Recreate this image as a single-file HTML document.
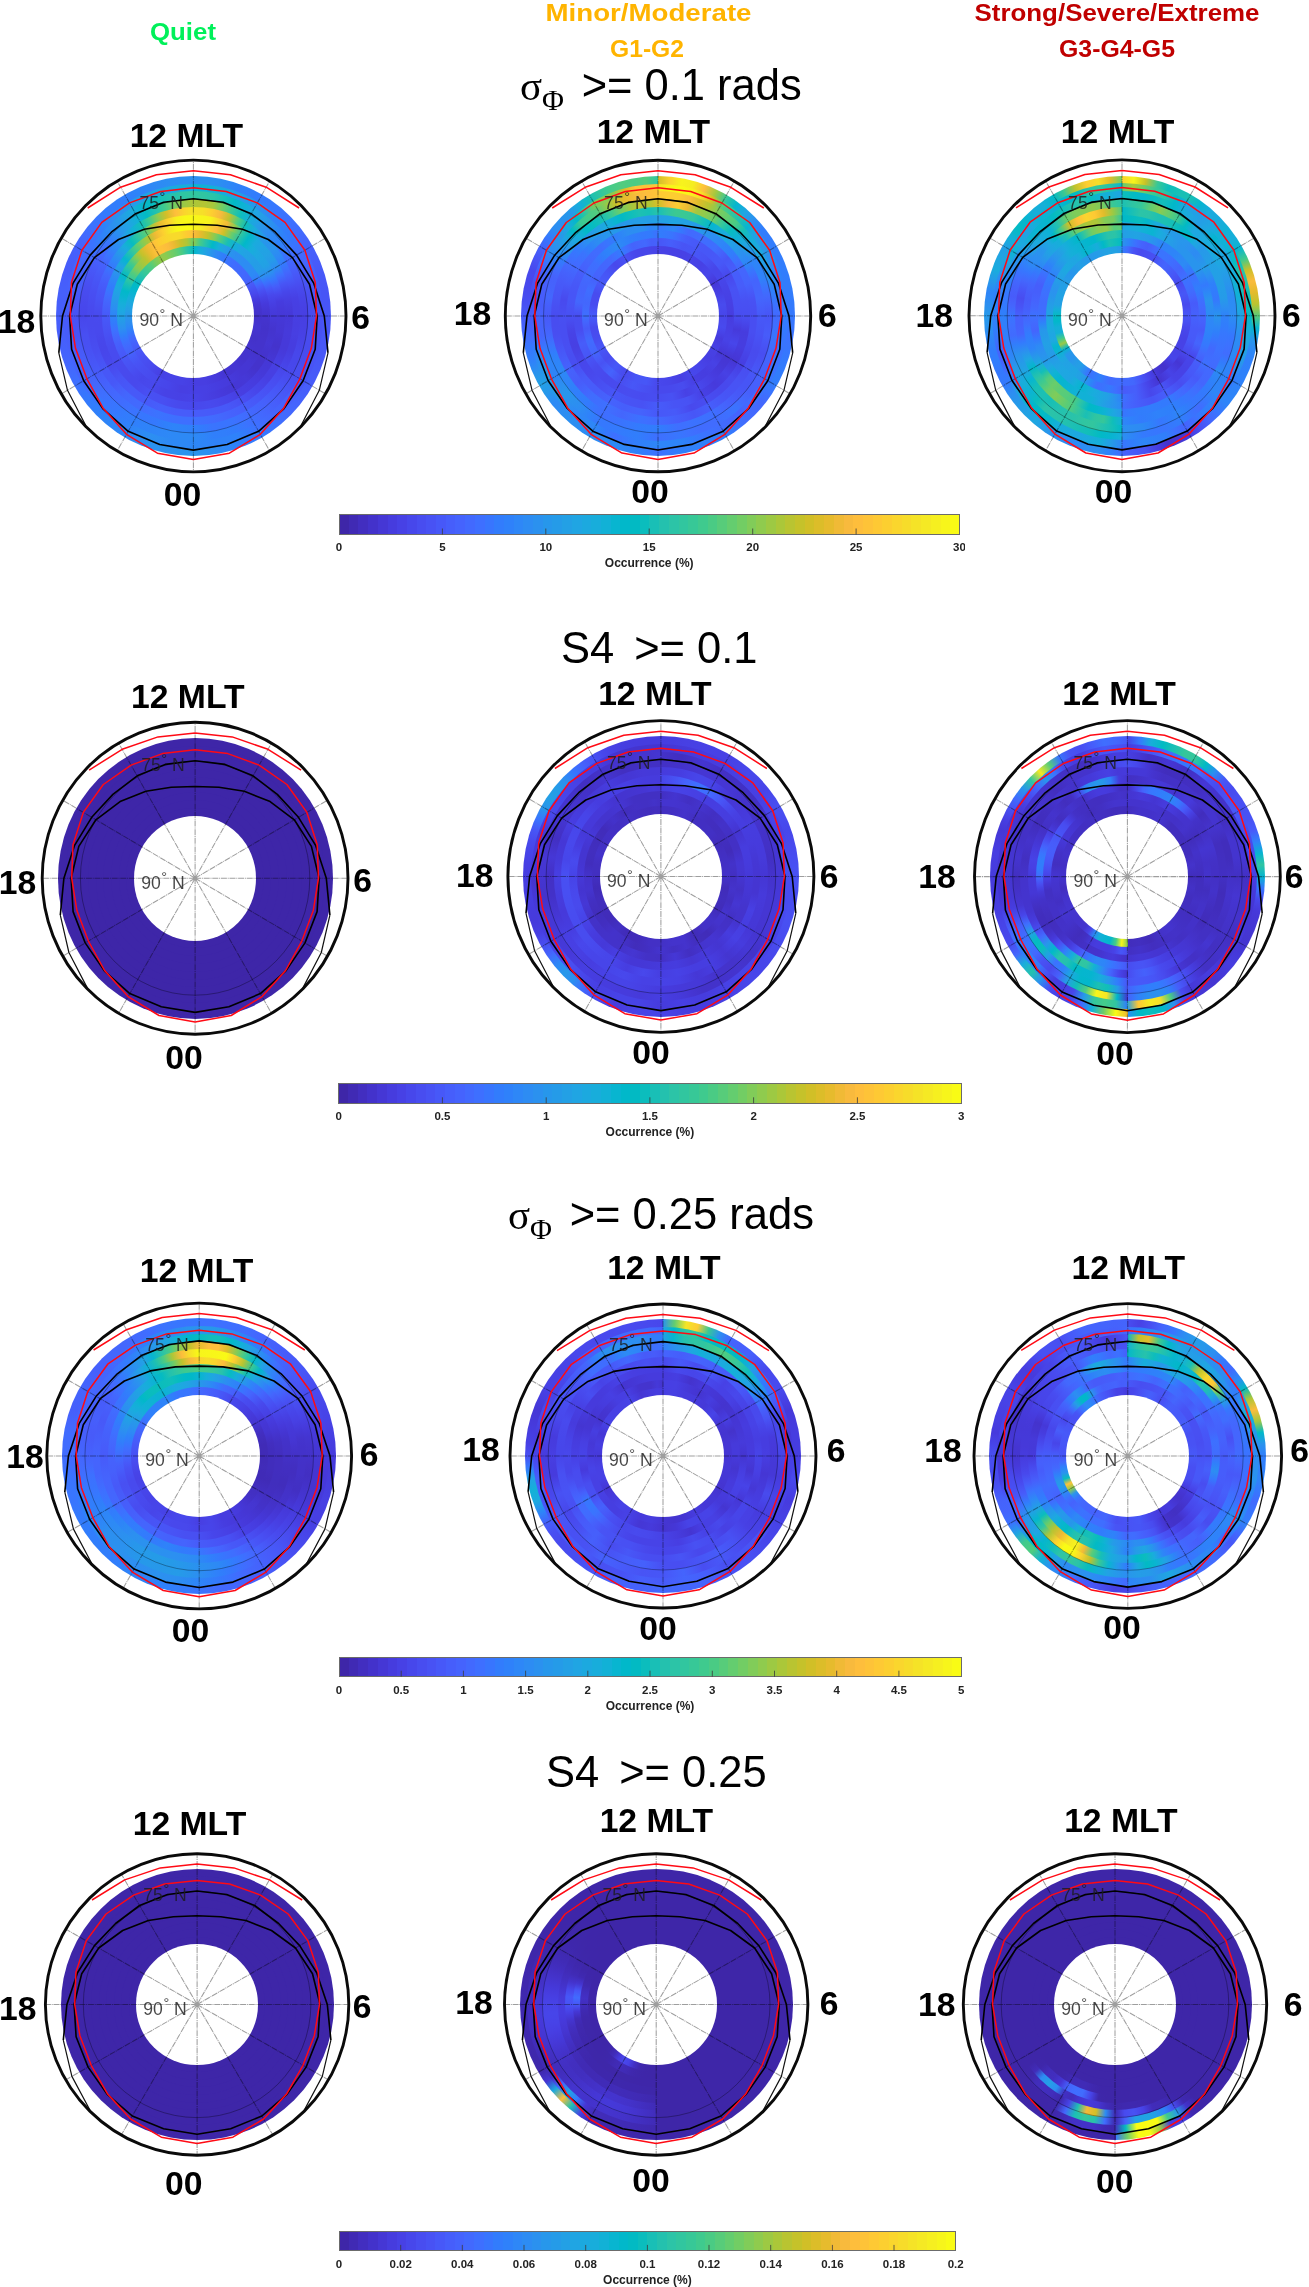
<!DOCTYPE html>
<html><head><meta charset="utf-8"><title>Scintillation occurrence maps</title>
<style>
html,body{margin:0;padding:0;background:#fff}
#fig{position:relative;width:1309px;height:2287px;overflow:hidden;background:#fff;font-family:"Liberation Sans", sans-serif}
#data{position:absolute;left:0;top:0;width:100%;height:100%;filter:blur(0.5px)}
#data div{position:absolute;border-radius:50%}
svg{position:absolute;left:0;top:0;filter:blur(0.3px)}
.gl{stroke:#000;stroke-opacity:.38;stroke-width:1.05;fill:none;stroke-dasharray:6 .8 1 .8}
.gc{stroke:#000;stroke-opacity:.4;stroke-width:.8;fill:none}
.bk{stroke:#000;stroke-width:1.6;fill:none;stroke-linejoin:round}
.bkt{stroke:#111;stroke-width:1.2;fill:none;stroke-linejoin:round}
.rd{stroke:#ff0a14;stroke-width:1.5;fill:none;stroke-linejoin:round}
.oc{stroke:#0a0a0a;stroke-width:2.9;fill:none}
.lat{font-size:17.6px;fill:#1c1c1c;fill-opacity:.82;text-anchor:end;font-family:"Liberation Sans", sans-serif}
.mlt{font-size:33.7px;font-weight:bold;fill:#000;text-anchor:middle;font-family:"Liberation Sans", sans-serif}
.ct{font-size:11.5px;font-weight:bold;fill:#222;text-anchor:middle;font-family:"Liberation Sans", sans-serif}
.cl{font-size:12px;font-weight:bold;fill:#222;text-anchor:middle;font-family:"Liberation Sans", sans-serif}
.hd{font-size:24.5px;font-weight:bold;text-anchor:middle;font-family:"Liberation Sans", sans-serif}
.tt{font-size:43.5px;fill:#000;font-family:"Liberation Sans", sans-serif}
</style></head><body>
<div id="fig">
<div id="data">
<div style="left:56.1px;top:175.7px;width:274.7px;height:280.6px;background:conic-gradient(#2c8ff0 0deg,#2c90f0 5deg,#2c8ff0 10deg,#2d88f6 15deg,#2f81fa 20deg,#317efb 25deg,#337bfc 30deg,#3678fe 35deg,#3a74fe 40deg,#3d71ff 45deg,#3f6dfe 50deg,#4466fd 55deg,#4660fb 60deg,#475cfa 65deg,#4759f8 70deg,#4756f7 75deg,#4755f6 80deg,#4755f6 85deg,#4756f6 90deg,#4756f7 95deg,#4757f7 100deg,#4757f7 110deg,#4759f8 115deg,#475cfa 120deg,#4660fb 125deg,#4564fd 130deg,#4368fe 135deg,#406dfe 140deg,#3b73fe 145deg,#3579fd 150deg,#327cfc 155deg,#307ffb 160deg,#2e86f8 165deg,#2d8bf4 170deg,#2b90f0 175deg,#2995ec 180deg,#2995ec 180deg,#2a93ed 185deg,#2b91ef 190deg,#2b92ee 195deg,#2b92ee 200deg,#2d8df2 205deg,#2e87f7 210deg,#2e86f7 215deg,#2e84f8 220deg,#3080fa 225deg,#337bfc 230deg,#3875fe 235deg,#3e70ff 240deg,#426afe 245deg,#4466fd 250deg,#4562fc 255deg,#465ffb 260deg,#465efb 265deg,#465efb 275deg,#4660fb 280deg,#465efb 285deg,#475cfa 290deg,#465efb 295deg,#4561fc 300deg,#4368fe 305deg,#3e6fff 310deg,#3975fe 315deg,#337bfd 320deg,#317dfc 325deg,#307ffb 330deg,#2e83f9 335deg,#2e86f7 340deg,#2d8af4 345deg,#2c8ef2 350deg,#2c8ff1 355deg,#2c8ff0 360deg)"></div>
<div style="left:63.7px;top:183.5px;width:259.4px;height:265.0px;background:conic-gradient(#0cb3d2 0deg,#0fb2d4 5deg,#15afd8 10deg,#1ca9df 15deg,#23a1e4 20deg,#259be8 25deg,#2895ec 30deg,#2d8cf3 35deg,#2f82f9 40deg,#307ffb 45deg,#327bfc 50deg,#3a73fe 55deg,#416bfe 60deg,#4466fd 65deg,#4561fc 70deg,#475cfa 75deg,#4758f8 80deg,#4755f6 85deg,#4853f5 90deg,#4852f4 95deg,#4853f4 100deg,#4853f5 105deg,#4854f5 110deg,#4854f5 115deg,#4755f6 120deg,#475af9 125deg,#4660fc 130deg,#4562fc 135deg,#4464fd 140deg,#426afe 145deg,#3d70ff 150deg,#3479fd 155deg,#2f82fa 160deg,#2f82f9 165deg,#2f82f9 170deg,#2e85f8 175deg,#2d87f6 180deg,#2d87f6 180deg,#2d89f5 185deg,#2d89f5 190deg,#2d8df3 195deg,#2c8ff1 200deg,#2d89f5 205deg,#2f82f9 210deg,#317efb 215deg,#3678fd 220deg,#3677fe 225deg,#3776fe 230deg,#406dfe 235deg,#4465fd 240deg,#4464fd 245deg,#4564fd 250deg,#4660fb 255deg,#465dfa 260deg,#475cfa 265deg,#475cfa 270deg,#465efb 275deg,#4660fb 280deg,#4661fc 285deg,#4563fc 290deg,#4368fe 295deg,#3e6fff 300deg,#3b72ff 305deg,#3876fe 310deg,#2f81fa 315deg,#2d8cf3 320deg,#2a92ee 325deg,#2798ea 330deg,#239fe5 335deg,#1fa6e1 340deg,#1da8e0 345deg,#1ca9df 350deg,#15afd9 355deg,#19acdc 360deg)"></div>
<div style="left:71.3px;top:191.3px;width:244.2px;height:249.4px;background:conic-gradient(#31c69f 0deg,#30c5a1 5deg,#2ac3a9 10deg,#17bfb6 15deg,#01b9c6 20deg,#0fb2d5 25deg,#1da9e0 30deg,#259de7 35deg,#2b92ee 40deg,#2d87f6 45deg,#317efb 50deg,#3a74fe 55deg,#4269fe 60deg,#4661fc 65deg,#4759f8 70deg,#4852f4 75deg,#484df0 80deg,#484cef 85deg,#484cef 90deg,#484bef 95deg,#484cef 100deg,#484bef 105deg,#484cef 110deg,#484df0 115deg,#484ef1 120deg,#4852f4 125deg,#4757f7 130deg,#475cfa 135deg,#4562fc 140deg,#4368fe 145deg,#3f6eff 150deg,#3975fe 155deg,#327bfc 160deg,#317efb 165deg,#307ffb 170deg,#2e85f8 175deg,#2d89f5 180deg,#2d89f5 185deg,#2d89f6 190deg,#2e87f7 195deg,#2e84f8 200deg,#2f82fa 205deg,#317efb 210deg,#337bfd 215deg,#3776fe 220deg,#3b72ff 225deg,#3f6efe 230deg,#4367fd 235deg,#4561fc 240deg,#465efb 245deg,#475cfa 250deg,#4758f8 255deg,#4755f6 260deg,#4853f5 265deg,#4852f4 270deg,#4854f5 275deg,#4757f7 280deg,#475cfa 285deg,#4561fc 290deg,#4464fd 295deg,#4369fe 300deg,#3a73fe 305deg,#307ffb 310deg,#2d89f5 315deg,#2a93ed 320deg,#23a0e5 325deg,#1aacdd 330deg,#07b5d0 335deg,#06bcc0 340deg,#18bfb6 345deg,#25c2ad 350deg,#2ec5a4 355deg,#32c69e 360deg)"></div>
<div style="left:79.0px;top:199.1px;width:228.9px;height:233.9px;background:conic-gradient(#abc739 0deg,#b4c534 5deg,#a6c83c 10deg,#6fcd66 15deg,#38c896 20deg,#0ebdbb 25deg,#15afd9 30deg,#249ee6 35deg,#2c8ff0 40deg,#2d88f6 45deg,#2f82f9 50deg,#3777fe 55deg,#4269fe 60deg,#465efb 65deg,#4854f5 70deg,#484aee 75deg,#4744e8 80deg,#4741e4 85deg,#473fe2 90deg,#4740e3 95deg,#4741e5 100deg,#4744e8 105deg,#4747eb 110deg,#4747eb 115deg,#4848ec 120deg,#484ef1 125deg,#4755f6 130deg,#475af9 135deg,#4660fb 140deg,#4464fd 145deg,#4269fe 150deg,#3f6eff 155deg,#3a74fe 160deg,#3974fe 165deg,#3a74fe 170deg,#337afd 175deg,#3080fb 180deg,#3080fb 180deg,#2f82f9 185deg,#2e84f9 190deg,#307ffb 195deg,#3579fd 200deg,#3677fe 205deg,#3975fe 210deg,#3d71ff 215deg,#406cfe 220deg,#4368fe 225deg,#4464fd 230deg,#465ffb 235deg,#475af9 240deg,#4756f6 245deg,#4852f4 250deg,#4850f2 255deg,#484ff2 260deg,#484aee 265deg,#4746eb 270deg,#4747ec 275deg,#484aed 280deg,#484df0 285deg,#4852f4 290deg,#4758f8 295deg,#4660fc 300deg,#4269fe 305deg,#3975fe 310deg,#2e86f7 315deg,#2798ea 320deg,#20a5e2 325deg,#10b2d5 330deg,#02bac4 335deg,#20c1b1 340deg,#3fca8e 345deg,#73cd62 350deg,#99c946 355deg,#afc637 360deg)"></div>
<div style="left:86.6px;top:206.9px;width:213.6px;height:218.3px;background:conic-gradient(#f5e128 0deg,#f6df29 5deg,#fdce31 10deg,#f7ba3c 15deg,#bec32e 20deg,#51cc7f 25deg,#0ebdbb 30deg,#19addc 35deg,#259ce7 40deg,#2895ec 45deg,#2a93ee 50deg,#2d89f5 55deg,#347afd 60deg,#4367fd 65deg,#4757f7 70deg,#4849ed 75deg,#4740e4 80deg,#473fe2 85deg,#473fe2 90deg,#473ee1 95deg,#473fe2 100deg,#463de0 105deg,#463ddf 110deg,#4741e5 115deg,#4746ea 120deg,#484aee 125deg,#484ef1 130deg,#4851f4 135deg,#4755f6 140deg,#4759f8 145deg,#465dfa 150deg,#4660fc 155deg,#4563fd 160deg,#4368fd 165deg,#416bfe 170deg,#3f6efe 175deg,#3e6fff 180deg,#3e6fff 190deg,#3c71ff 195deg,#3b73fe 200deg,#3f6fff 205deg,#426afe 210deg,#4269fe 215deg,#4367fd 220deg,#4660fb 225deg,#4758f8 230deg,#4757f7 235deg,#4757f7 240deg,#4852f4 245deg,#484ef1 250deg,#484cef 255deg,#484aee 260deg,#4849ed 265deg,#4849ed 270deg,#484aee 275deg,#484df1 280deg,#4850f3 285deg,#4755f6 290deg,#475bf9 295deg,#4562fc 300deg,#3b73fe 305deg,#2e86f7 310deg,#2a93ee 315deg,#23a0e5 320deg,#12b1d7 325deg,#11beba 330deg,#3eca8f 335deg,#8ccb50 340deg,#d3bf27 345deg,#febe3c 350deg,#fad52d 355deg,#f5e427 360deg)"></div>
<div style="left:94.2px;top:214.7px;width:198.4px;height:202.7px;background:conic-gradient(#f8f61a 0deg,#f7f51b 5deg,#f7f31d 10deg,#f9d72c 15deg,#f1ba37 20deg,#8bcb51 25deg,#31c6a0 30deg,#01b8c8 35deg,#1aabdd 40deg,#20a4e3 45deg,#23a1e4 50deg,#269ae9 55deg,#2d8bf4 60deg,#3e6fff 65deg,#4756f6 70deg,#4747eb 75deg,#473fe2 80deg,#463bdc 85deg,#4538d8 90deg,#4639d9 95deg,#463adb 100deg,#4639da 105deg,#4639d9 110deg,#463cde 115deg,#473fe2 120deg,#473fe2 130deg,#4743e7 135deg,#4746ea 140deg,#484bee 145deg,#484ff2 150deg,#4854f5 155deg,#4758f8 160deg,#4759f8 165deg,#475af9 170deg,#475bf9 175deg,#475bfa 180deg,#475bfa 180deg,#475cfa 185deg,#475cfa 190deg,#465efb 195deg,#465ffb 200deg,#475cfa 205deg,#4759f8 210deg,#4759f8 220deg,#4756f7 225deg,#4854f5 230deg,#484ef1 235deg,#4849ed 240deg,#4747ec 245deg,#4746ea 250deg,#4747eb 255deg,#4849ed 260deg,#4849ed 265deg,#484aee 270deg,#484ef1 275deg,#4853f5 280deg,#4757f7 285deg,#465dfb 290deg,#4367fd 295deg,#3975fe 300deg,#2e86f7 305deg,#2798ea 310deg,#1aacdd 315deg,#07bcbf 320deg,#2fc5a2 325deg,#56cc7b 330deg,#a4c83e 335deg,#e9bb30 340deg,#fcd030 345deg,#f6f01f 350deg,#f8f818 355deg,#f8f917 360deg)"></div>
<div style="left:101.8px;top:222.5px;width:183.1px;height:187.1px;background:conic-gradient(#f7f51b 0deg,#f5ec23 5deg,#fad52e 10deg,#fdbd3d 15deg,#cdc028 20deg,#69cd6b 25deg,#2ac3a9 30deg,#01b8c9 35deg,#16afda 40deg,#1da8e0 45deg,#20a4e3 50deg,#23a0e5 55deg,#2b91ef 60deg,#3677fe 65deg,#465dfa 70deg,#4849ed 75deg,#463cdf 80deg,#4639da 85deg,#4538d8 90deg,#4537d5 95deg,#4536d4 100deg,#4434d0 105deg,#4433cc 110deg,#4435d1 115deg,#4537d6 120deg,#4538d7 125deg,#4539d9 130deg,#463bdd 135deg,#463de0 140deg,#473ee1 145deg,#473fe2 150deg,#4743e7 155deg,#4746ea 160deg,#4848ec 165deg,#484aee 170deg,#4849ed 175deg,#4848ec 180deg,#4848ec 180deg,#4849ed 185deg,#484aed 190deg,#484cf0 195deg,#484ff2 200deg,#484ff2 205deg,#4850f3 210deg,#484cf0 215deg,#4849ed 220deg,#4849ed 225deg,#484aed 230deg,#484aee 235deg,#484bef 240deg,#484bef 245deg,#484cef 250deg,#484ef1 255deg,#4852f4 260deg,#4755f6 265deg,#4759f9 270deg,#465ffb 275deg,#4466fd 280deg,#3e70ff 285deg,#327cfc 290deg,#2d88f6 295deg,#2995ec 300deg,#1fa5e2 305deg,#06b5cf 310deg,#25c2ae 315deg,#4fcc80 320deg,#82cc57 325deg,#b3c534 330deg,#efba35 335deg,#fccf30 340deg,#f5e825 345deg,#f9fa16 350deg,#f9fb15 355deg,#f9fb15 360deg)"></div>
<div style="left:109.5px;top:230.3px;width:167.9px;height:171.5px;background:conic-gradient(#fabb3d 0deg,#e6bb2d 5deg,#c3c22b 10deg,#87cb54 15deg,#47cb87 20deg,#18bfb6 25deg,#13b0d7 30deg,#1fa6e2 35deg,#22a2e4 40deg,#249fe6 45deg,#249de6 50deg,#259ce7 55deg,#2c90f0 60deg,#3a73fe 65deg,#4758f8 70deg,#4848ec 75deg,#4740e4 80deg,#463bdd 85deg,#4539d9 90deg,#4536d3 95deg,#4434ce 100deg,#4435d0 105deg,#4536d3 110deg,#4434cf 115deg,#4433cc 120deg,#4433cc 130deg,#4435d1 135deg,#4538d7 140deg,#4537d6 145deg,#4537d5 150deg,#4539d8 155deg,#463adc 160deg,#463ddf 165deg,#473fe2 170deg,#4741e5 175deg,#4743e7 180deg,#4743e7 180deg,#4742e6 185deg,#4741e5 190deg,#4742e6 195deg,#4742e6 200deg,#4745e9 205deg,#4849ed 210deg,#4848ec 215deg,#4747eb 220deg,#484bef 225deg,#4851f3 230deg,#4854f5 235deg,#4758f8 240deg,#475cfa 245deg,#4660fc 250deg,#4368fe 255deg,#3c72ff 260deg,#327bfc 265deg,#2e84f8 270deg,#2d8df2 275deg,#2896eb 280deg,#249ee6 285deg,#1ea7e1 290deg,#14b0d8 295deg,#01b9c7 300deg,#23c1af 305deg,#3fca8e 310deg,#7ecc5a 315deg,#c3c22b 320deg,#e9bb30 325deg,#febe3c 330deg,#fdcc32 335deg,#fad42e 340deg,#f8da2b 345deg,#f8da2b 350deg,#fdcc32 355deg,#fec239 360deg)"></div>
<div style="left:117.1px;top:238.1px;width:152.6px;height:155.9px;background:conic-gradient(#8acb51 0deg,#47cb87 5deg,#24c1ae 10deg,#01b9c6 15deg,#17aeda 20deg,#23a1e4 25deg,#2994ed 30deg,#2c8ef1 35deg,#2d8df2 40deg,#2d8cf3 45deg,#2d8cf3 50deg,#2d8af5 55deg,#327dfc 60deg,#4464fd 65deg,#484ff2 70deg,#4742e6 75deg,#463adc 80deg,#4536d4 85deg,#4434cf 90deg,#4433cc 95deg,#4332ca 100deg,#4432cb 105deg,#4433cc 110deg,#4433cc 115deg,#4433cd 120deg,#4435d0 125deg,#4536d3 130deg,#4536d4 135deg,#4536d4 140deg,#4538d8 145deg,#463adb 150deg,#463bdd 155deg,#463cdf 160deg,#463ee1 165deg,#4740e3 170deg,#4740e4 175deg,#4740e4 180deg,#473fe3 185deg,#473fe2 190deg,#4742e6 195deg,#4745ea 200deg,#4747eb 205deg,#4849ed 210deg,#484aee 215deg,#484df0 220deg,#484ff2 225deg,#4853f5 230deg,#475af9 235deg,#4562fc 240deg,#4269fe 245deg,#3b72ff 250deg,#2f81fa 255deg,#2c90f0 260deg,#2699e9 265deg,#22a2e4 270deg,#1ca9e0 275deg,#16afd9 280deg,#0ab4d1 285deg,#01b8c9 290deg,#19bfb5 295deg,#34c79c 300deg,#50cc80 305deg,#80cc59 310deg,#a0c841 315deg,#bbc42f 320deg,#eabb30 325deg,#fec13a 330deg,#fec239 335deg,#fbbc3d 340deg,#eaba31 345deg,#c9c129 350deg,#aec637 355deg,#6acd6a 360deg)"></div>
<div style="left:124.7px;top:245.8px;width:137.3px;height:140.3px;background:conic-gradient(#01b8c8 0deg,#15afd9 5deg,#20a4e3 10deg,#2797eb 15deg,#2d8af4 20deg,#3080fa 25deg,#3777fe 30deg,#3e6fff 35deg,#406cfe 40deg,#416afe 45deg,#4269fe 50deg,#4366fd 55deg,#475dfa 60deg,#4852f4 65deg,#4848ec 70deg,#463cdf 75deg,#4536d3 80deg,#4433cd 85deg,#4332ca 90deg,#4433cd 95deg,#4435d0 100deg,#4433cd 105deg,#4332c9 110deg,#4433cc 115deg,#4434cf 120deg,#4434ce 125deg,#4433cd 130deg,#4434d0 135deg,#4536d3 140deg,#4535d2 145deg,#4435d1 150deg,#4537d6 155deg,#463adb 160deg,#463cde 165deg,#473ee1 170deg,#473ee1 180deg,#4740e4 185deg,#4742e6 190deg,#4742e6 195deg,#4743e7 200deg,#4742e6 205deg,#4741e4 210deg,#4745e9 215deg,#484aee 220deg,#484df0 225deg,#4850f3 230deg,#4855f6 235deg,#475af9 240deg,#4561fc 245deg,#4269fe 250deg,#3578fd 255deg,#2d87f7 260deg,#2c8ff0 265deg,#2896eb 270deg,#249fe5 275deg,#1ea7e1 280deg,#18addb 285deg,#0db3d3 290deg,#03b7cc 295deg,#03bbc2 300deg,#1ec0b2 305deg,#32c69e 310deg,#40ca8d 315deg,#55cc7c 320deg,#79cc5e 325deg,#94ca4a 330deg,#8dcb4f 335deg,#76cc61 340deg,#62cd70 345deg,#47cb87 350deg,#28c2ab 355deg,#0bbdbd 360deg)"></div>
<div style="left:132.4px;top:253.6px;width:122.1px;height:124.7px;background:#fff"></div>
<div style="left:520.6px;top:175.8px;width:274.9px;height:280.4px;background:conic-gradient(#d1bf27 0deg,#fbd22f 5deg,#f7f31d 10deg,#f5ed21 15deg,#febe3c 20deg,#a5c83e 25deg,#36c799 30deg,#05b6ce 35deg,#20a5e3 40deg,#2c8ff1 45deg,#317dfc 50deg,#327cfc 55deg,#317dfc 60deg,#327cfc 65deg,#317dfc 70deg,#327cfc 75deg,#327cfc 80deg,#337afd 85deg,#3678fd 90deg,#3875fe 95deg,#3c72ff 100deg,#3776fe 105deg,#337afd 110deg,#327cfc 115deg,#317dfc 120deg,#3c72ff 125deg,#4367fd 130deg,#4269fe 135deg,#416bfe 140deg,#3a74fe 145deg,#317dfc 150deg,#307efb 155deg,#3080fb 160deg,#3080fb 165deg,#307ffb 170deg,#3678fd 175deg,#3d70ff 180deg,#3d70ff 180deg,#347afd 185deg,#2e83f9 190deg,#2e86f7 195deg,#2d8af5 200deg,#2d8bf4 205deg,#2d8df2 210deg,#2d8df2 215deg,#2c8ff1 220deg,#2d8df2 225deg,#2d8af5 230deg,#2797eb 235deg,#23a0e5 240deg,#2a93ed 245deg,#2f82fa 250deg,#3479fd 255deg,#3f6eff 260deg,#4563fc 265deg,#475af9 270deg,#4850f2 275deg,#484bee 280deg,#4848ec 285deg,#4849ed 290deg,#4854f5 295deg,#4561fc 300deg,#3776fe 305deg,#2d8df2 310deg,#2a92ee 315deg,#2699e9 320deg,#15afd9 325deg,#17bfb6 330deg,#32c69e 335deg,#46cb88 340deg,#51cc7f 345deg,#4acb85 350deg,#55cc7c 355deg,#31c6a0 360deg)"></div>
<div style="left:528.2px;top:183.6px;width:259.6px;height:264.9px;background:conic-gradient(#f6e028 0deg,#f7f51b 5deg,#f9fb15 10deg,#f7f51b 15deg,#f8d92b 20deg,#d2bf27 25deg,#57cc7a 30deg,#35c79b 35deg,#23c1af 40deg,#0ab4d1 45deg,#21a3e4 50deg,#259be8 55deg,#2995ec 60deg,#2d8bf4 65deg,#2e83f9 70deg,#307efb 75deg,#337bfc 80deg,#327cfc 85deg,#317dfc 90deg,#347afd 95deg,#3777fe 100deg,#3a73fe 105deg,#3d70ff 110deg,#3b73fe 115deg,#3776fe 120deg,#3b73fe 125deg,#3d70ff 130deg,#4269fe 135deg,#4563fd 140deg,#4367fd 145deg,#416bfe 150deg,#3e70ff 155deg,#3975fe 160deg,#317dfc 165deg,#2e84f8 170deg,#2e85f8 175deg,#2e86f7 180deg,#2e86f7 180deg,#2f82f9 185deg,#317efb 190deg,#3777fe 195deg,#3e70ff 200deg,#327bfc 205deg,#2e87f7 210deg,#2e86f7 215deg,#2e87f7 220deg,#2c8ff1 225deg,#2896eb 230deg,#269ae8 235deg,#259be8 240deg,#2895ec 245deg,#2d8bf4 250deg,#327cfc 255deg,#416bfe 260deg,#4563fc 265deg,#465dfa 270deg,#4852f4 275deg,#484df0 280deg,#4852f4 285deg,#475cfa 290deg,#3d71ff 295deg,#2d89f6 300deg,#2b92ee 305deg,#269ae8 310deg,#1aabdd 315deg,#01b9c6 320deg,#33c69d 325deg,#77cc5f 330deg,#8acb52 335deg,#90ca4d 340deg,#dbbd28 345deg,#fec339 350deg,#fec239 355deg,#fec438 360deg)"></div>
<div style="left:535.8px;top:191.4px;width:244.3px;height:249.3px;background:conic-gradient(#fec934 0deg,#fdce31 5deg,#fdcc32 10deg,#fcbd3d 15deg,#dcbd29 20deg,#b4c533 25deg,#7ecc5b 30deg,#63cd6f 35deg,#49cb85 40deg,#17bfb6 45deg,#14b0d8 50deg,#1caadf 55deg,#20a5e3 60deg,#269ae9 65deg,#2b90f0 70deg,#2e85f8 75deg,#337bfc 80deg,#3c71ff 85deg,#4269fe 90deg,#3e6fff 95deg,#3875fe 100deg,#406dfe 105deg,#4465fd 110deg,#4563fd 115deg,#4562fc 120deg,#4660fc 125deg,#4660fb 130deg,#4369fe 135deg,#3b73fe 140deg,#3e6fff 145deg,#416cfe 150deg,#416cfe 155deg,#406cfe 160deg,#3d71ff 165deg,#3876fe 170deg,#3b73fe 175deg,#3e6fff 180deg,#3e6fff 180deg,#3677fe 185deg,#317efb 190deg,#327cfc 195deg,#347afd 200deg,#3578fd 205deg,#3678fd 210deg,#2f82fa 215deg,#2d8cf3 220deg,#2b91ef 225deg,#2896eb 230deg,#2c8ef1 235deg,#2e83f9 240deg,#2e85f8 245deg,#2e84f9 250deg,#3975fe 255deg,#4465fd 260deg,#4563fc 265deg,#4562fc 270deg,#465dfb 275deg,#465dfb 280deg,#465ffb 285deg,#4564fd 290deg,#3a74fe 295deg,#2e86f7 300deg,#2895ec 305deg,#20a4e3 310deg,#02bac5 315deg,#38c895 320deg,#46cb88 325deg,#54cc7d 330deg,#95ca49 335deg,#d0bf27 340deg,#e9bb2f 345deg,#f8ba3d 350deg,#febe3c 355deg,#fec537 360deg)"></div>
<div style="left:543.5px;top:199.1px;width:229.0px;height:233.7px;background:conic-gradient(#d0bf27 0deg,#f9bb3d 5deg,#fdcd32 10deg,#ecba33 15deg,#a5c83e 20deg,#8ccb50 25deg,#66cd6d 30deg,#33c79d 35deg,#08bcbf 40deg,#0eb2d4 45deg,#1fa6e1 50deg,#2895ec 55deg,#2e85f8 60deg,#2e83f9 65deg,#2f82f9 70deg,#3a73fe 75deg,#4367fd 80deg,#465dfa 85deg,#4755f6 90deg,#4758f8 95deg,#475cfa 100deg,#4854f6 105deg,#484ef1 110deg,#4852f4 115deg,#4757f7 120deg,#4755f6 125deg,#4755f6 130deg,#4759f8 135deg,#465ffb 140deg,#4466fd 145deg,#3f6eff 150deg,#3d70ff 155deg,#3b72fe 160deg,#3d71ff 165deg,#3f6fff 170deg,#3776fe 175deg,#317dfc 180deg,#317dfc 180deg,#327cfc 185deg,#337bfd 190deg,#3777fe 195deg,#3a73fe 200deg,#3d70ff 205deg,#3f6dfe 210deg,#3974fe 215deg,#327cfc 220deg,#317efb 225deg,#3080fb 230deg,#2e85f8 235deg,#2d88f6 240deg,#2e85f8 245deg,#307ffb 250deg,#3b73fe 255deg,#4367fd 260deg,#465ffb 265deg,#4759f8 270deg,#465efb 275deg,#4367fd 280deg,#4563fc 285deg,#4661fc 290deg,#406dfe 295deg,#327cfc 300deg,#2c8ff0 305deg,#22a2e4 310deg,#16afd9 315deg,#01b9c7 320deg,#09bdbe 325deg,#19bfb5 330deg,#3ac994 335deg,#6ccd69 340deg,#9bc945 345deg,#c1c32c 350deg,#b1c635 355deg,#d9be28 360deg)"></div>
<div style="left:551.1px;top:206.9px;width:213.8px;height:218.1px;background:conic-gradient(#18bfb6 0deg,#2fc5a3 5deg,#3cc991 10deg,#39c895 15deg,#33c69e 20deg,#18bfb6 25deg,#05b6cd 30deg,#13b1d7 35deg,#1caadf 40deg,#23a0e5 45deg,#2797eb 50deg,#2d8df2 55deg,#2e84f9 60deg,#3a73fe 65deg,#4464fd 70deg,#4465fd 75deg,#4466fd 80deg,#465ffb 85deg,#4758f8 90deg,#4756f6 95deg,#4853f5 100deg,#484ff2 105deg,#484bee 110deg,#484cef 115deg,#484ef1 120deg,#4850f2 125deg,#4853f4 130deg,#4853f5 135deg,#4755f6 140deg,#4759f8 145deg,#465efb 150deg,#475af9 155deg,#4756f7 160deg,#475bf9 165deg,#465ffb 170deg,#4465fd 175deg,#426afe 180deg,#426afe 180deg,#3f6eff 185deg,#3c71ff 190deg,#416cfe 195deg,#4466fd 200deg,#416bfe 205deg,#3e70ff 210deg,#3f6efe 215deg,#406cfe 220deg,#4464fd 225deg,#475cfa 230deg,#4660fb 235deg,#4562fc 240deg,#465dfa 245deg,#4757f7 250deg,#4852f4 255deg,#484ef1 260deg,#484df0 265deg,#484df0 270deg,#4850f2 275deg,#4854f5 280deg,#4757f7 285deg,#475bf9 290deg,#4562fc 295deg,#426afe 300deg,#3b72ff 305deg,#337bfd 310deg,#2d8bf4 315deg,#269ae9 320deg,#22a2e4 325deg,#1caadf 330deg,#0cb3d3 335deg,#02bac4 340deg,#0fbebb 345deg,#1dc0b3 350deg,#16bfb7 355deg,#29c3aa 360deg)"></div>
<div style="left:558.7px;top:214.7px;width:198.5px;height:202.5px;background:conic-gradient(#259de7 0deg,#22a1e4 5deg,#20a5e2 10deg,#22a2e4 15deg,#249fe6 20deg,#2699e9 25deg,#2a93ed 30deg,#2d8df2 35deg,#2e87f7 40deg,#2f82fa 45deg,#317dfc 50deg,#3d71ff 55deg,#4466fd 60deg,#4465fd 65deg,#4563fd 70deg,#475af9 75deg,#4852f4 80deg,#4850f2 85deg,#484ef1 90deg,#484ef1 100deg,#484aee 105deg,#4747eb 110deg,#4742e6 115deg,#463ee1 120deg,#4744e8 125deg,#484bee 130deg,#4849ed 135deg,#4849ed 140deg,#484bef 145deg,#484ef1 150deg,#484bef 155deg,#4849ed 160deg,#4852f4 165deg,#475af9 170deg,#4759f8 175deg,#4758f8 180deg,#4758f8 180deg,#465efb 185deg,#4563fc 190deg,#4661fc 195deg,#465efb 200deg,#4561fc 205deg,#4563fd 210deg,#4660fb 215deg,#475cfa 220deg,#475cfa 225deg,#475bf9 230deg,#4854f6 235deg,#484ef1 240deg,#484ef1 245deg,#484ff2 250deg,#484ef1 255deg,#484ef1 265deg,#4850f2 270deg,#484cf0 275deg,#484aee 280deg,#4852f4 285deg,#475cfa 290deg,#4562fc 295deg,#4369fe 300deg,#3f6eff 305deg,#3a74fe 310deg,#2f80fa 315deg,#2d8bf3 320deg,#2a92ee 325deg,#2698ea 330deg,#2699e9 335deg,#2798ea 340deg,#259ce7 345deg,#249fe6 350deg,#249ee6 355deg,#23a1e4 360deg)"></div>
<div style="left:566.4px;top:222.5px;width:183.2px;height:187.0px;background:conic-gradient(#3777fe 0deg,#3080fb 5deg,#2e87f7 10deg,#3578fd 15deg,#4269fe 20deg,#416bfe 25deg,#406dfe 30deg,#3f6dfe 35deg,#3f6efe 40deg,#4562fc 45deg,#4757f7 50deg,#475bf9 55deg,#465efb 60deg,#465dfb 65deg,#475dfa 70deg,#4757f7 75deg,#4851f3 80deg,#484ff2 85deg,#484ef1 90deg,#4745e9 95deg,#463cde 100deg,#463ddf 105deg,#463de0 110deg,#4639da 115deg,#4536d4 120deg,#463bdd 125deg,#4741e5 130deg,#463de0 135deg,#463adc 140deg,#463ee1 145deg,#4741e5 150deg,#4849ed 155deg,#4852f4 160deg,#4853f5 165deg,#4854f5 170deg,#4758f8 175deg,#475bf9 180deg,#475bf9 180deg,#4757f7 185deg,#4852f4 190deg,#4853f4 195deg,#4853f5 200deg,#4755f6 205deg,#4756f7 210deg,#4852f4 215deg,#484ff2 220deg,#484bef 225deg,#4848ec 230deg,#4747ec 235deg,#4747eb 240deg,#4743e7 245deg,#4740e3 250deg,#4741e5 255deg,#4743e7 260deg,#4849ed 265deg,#4850f3 270deg,#4852f4 275deg,#4755f6 280deg,#4755f6 285deg,#4757f7 290deg,#475bf9 295deg,#465ffb 300deg,#4563fd 305deg,#4368fd 310deg,#416bfe 315deg,#406dfe 320deg,#3975fe 325deg,#327bfc 330deg,#2e85f8 335deg,#2d8df2 340deg,#2c8ef1 345deg,#2c8ff1 350deg,#2e84f9 355deg,#2d8cf3 360deg)"></div>
<div style="left:574.0px;top:230.3px;width:168.0px;height:171.4px;background:conic-gradient(#317dfc 0deg,#3579fd 5deg,#3a74fe 10deg,#4368fe 15deg,#465dfb 20deg,#475af9 25deg,#4758f8 30deg,#4757f7 35deg,#4757f7 40deg,#4758f8 45deg,#4758f8 50deg,#4850f3 55deg,#4848ec 60deg,#484df1 65deg,#4852f4 70deg,#4851f3 75deg,#4850f3 80deg,#484ff2 85deg,#484df0 90deg,#4743e7 95deg,#463adb 100deg,#4740e4 105deg,#4746eb 110deg,#463de0 115deg,#4536d2 120deg,#4537d5 125deg,#4539d9 130deg,#463bdd 135deg,#473fe2 140deg,#4743e7 145deg,#4848ec 150deg,#4745e9 155deg,#4741e5 160deg,#4849ed 165deg,#4851f3 170deg,#484ff2 175deg,#484df1 180deg,#484df1 180deg,#484df0 185deg,#484bef 190deg,#484cf0 195deg,#484df0 200deg,#484cef 205deg,#484bee 210deg,#484aee 215deg,#4849ed 220deg,#484aee 225deg,#484bee 230deg,#4850f3 235deg,#4756f6 240deg,#4759f8 245deg,#475dfa 250deg,#4755f6 255deg,#484df0 260deg,#484df0 265deg,#484ef1 270deg,#475af9 275deg,#4367fd 280deg,#4465fd 285deg,#4564fd 290deg,#4367fd 295deg,#426afe 300deg,#406dfe 305deg,#3e6fff 310deg,#3578fd 315deg,#2f81fa 320deg,#2e86f8 325deg,#2d8af5 330deg,#2e85f8 335deg,#307ffb 340deg,#327cfc 345deg,#3579fd 350deg,#327bfc 355deg,#3d70ff 360deg)"></div>
<div style="left:581.6px;top:238.1px;width:152.7px;height:155.8px;background:conic-gradient(#4756f6 0deg,#475af9 5deg,#465efb 10deg,#4759f8 15deg,#4854f5 20deg,#4755f6 25deg,#4756f6 30deg,#4854f5 35deg,#4852f4 40deg,#484cef 45deg,#4746ea 50deg,#4746ea 60deg,#4744e8 65deg,#4742e6 70deg,#4741e5 75deg,#4740e4 80deg,#473fe2 85deg,#463de0 90deg,#473ee1 95deg,#473fe3 100deg,#4741e5 105deg,#4742e6 110deg,#463cdf 115deg,#4537d5 120deg,#463cde 125deg,#4742e6 130deg,#473fe2 135deg,#463de0 140deg,#463ee1 145deg,#473fe2 150deg,#4745e9 155deg,#484cef 160deg,#484bee 165deg,#4849ed 170deg,#4849ed 180deg,#484df0 185deg,#4850f2 190deg,#4853f5 195deg,#4757f7 200deg,#4852f4 205deg,#484df0 210deg,#4758f8 215deg,#4563fd 220deg,#475bf9 225deg,#4852f4 230deg,#475cfa 235deg,#4465fd 240deg,#4368fe 245deg,#416bfe 250deg,#4563fc 255deg,#475af9 260deg,#4464fd 265deg,#3e6fff 270deg,#416bfe 275deg,#4367fd 280deg,#416afe 285deg,#3f6eff 290deg,#4368fe 295deg,#4562fc 300deg,#4564fd 305deg,#4465fd 310deg,#4367fd 315deg,#4369fe 320deg,#3c72ff 325deg,#337bfd 330deg,#3f6fff 335deg,#4563fc 340deg,#4466fd 345deg,#4269fe 350deg,#465ffb 355deg,#4562fc 360deg)"></div>
<div style="left:589.3px;top:245.9px;width:137.4px;height:140.2px;background:conic-gradient(#4742e6 0deg,#4741e5 5deg,#4741e5 20deg,#4742e6 25deg,#4744e8 30deg,#4742e6 35deg,#4741e5 40deg,#4743e8 45deg,#4746ea 50deg,#473fe2 55deg,#4538d8 60deg,#463cdf 65deg,#4741e5 70deg,#4746ea 75deg,#484bee 80deg,#4848ec 85deg,#4746ea 90deg,#4848ec 95deg,#484aee 100deg,#4743e7 105deg,#463bdd 110deg,#473ee1 115deg,#4741e5 120deg,#4740e3 125deg,#463ee1 130deg,#4741e5 135deg,#4744e9 140deg,#4746ea 145deg,#4747eb 150deg,#4743e7 155deg,#473fe2 160deg,#4742e6 165deg,#4745e9 170deg,#4746eb 175deg,#4848ec 180deg,#4848ec 180deg,#484ff2 185deg,#4756f7 190deg,#4756f6 195deg,#4755f6 200deg,#484ff2 205deg,#484aee 210deg,#4851f3 215deg,#4758f8 220deg,#4852f4 225deg,#484cef 230deg,#4851f3 235deg,#4756f7 240deg,#4852f4 245deg,#484df0 250deg,#484cef 255deg,#484aee 260deg,#4853f5 265deg,#475cfa 270deg,#4854f6 275deg,#484df0 280deg,#484cf0 285deg,#484cef 290deg,#4853f5 295deg,#475af9 300deg,#4758f8 305deg,#4755f6 310deg,#484ff1 315deg,#4848ec 320deg,#484df0 325deg,#4852f4 330deg,#484cf0 335deg,#4747eb 340deg,#4746ea 345deg,#4746ea 350deg,#4744e8 355deg,#4743e7 360deg)"></div>
<div style="left:596.9px;top:253.7px;width:122.2px;height:124.6px;background:#fff"></div>
<div style="left:984.3px;top:175.5px;width:275.4px;height:280.6px;background:conic-gradient(#fbd22f 0deg,#f7f51b 5deg,#c7c129 10deg,#38c896 15deg,#0cbdbc 20deg,#19bfb5 25deg,#19bfb5 30deg,#08b4d0 35deg,#1babde 40deg,#1aabdd 45deg,#12b1d6 50deg,#17aeda 55deg,#09b4d1 60deg,#3fca8e 65deg,#ccc028 70deg,#fabb3d 75deg,#e3bb2c 80deg,#bbc430 85deg,#58cc79 90deg,#08b4d0 95deg,#2797eb 100deg,#2d88f6 105deg,#3080fb 110deg,#2f81fa 115deg,#2f82fa 120deg,#2e84f8 125deg,#2e84f9 130deg,#3876fe 135deg,#4466fd 140deg,#4851f3 145deg,#463ee1 150deg,#4536d3 155deg,#4433cd 160deg,#473fe2 165deg,#4852f4 170deg,#475af9 175deg,#4564fd 180deg,#406cfe 180deg,#3080fb 185deg,#2c8ff0 190deg,#2c8ef1 195deg,#2d8af5 200deg,#2d8df2 205deg,#2c8ff0 210deg,#259ce7 215deg,#1ea7e1 220deg,#23a1e4 225deg,#269ae9 230deg,#2d8df2 235deg,#3479fd 240deg,#3578fd 245deg,#317dfc 250deg,#317dfc 255deg,#2e85f8 260deg,#2b92ef 265deg,#2699e9 270deg,#2c8ff0 275deg,#2e85f8 280deg,#2699ea 285deg,#1aacdd 290deg,#1fa6e1 295deg,#249ee6 300deg,#14b0d8 305deg,#03bbc3 310deg,#06b5cf 315deg,#16aeda 320deg,#14b0d8 325deg,#01b8c8 330deg,#3dc991 335deg,#c0c32d 340deg,#fdcd31 345deg,#f6de29 350deg,#e1bc2b 355deg,#6fcd66 360deg)"></div>
<div style="left:992.0px;top:183.3px;width:260.1px;height:265.0px;background:conic-gradient(#5ecd74 0deg,#a9c73b 5deg,#6bcd69 10deg,#37c897 15deg,#2bc3a7 20deg,#01b8c9 25deg,#1fa6e2 30deg,#23a0e5 35deg,#249ee6 40deg,#1ea7e1 45deg,#12b1d7 50deg,#11b1d6 55deg,#0cb3d3 60deg,#07bcc0 65deg,#27c2ac 70deg,#26c2ac 75deg,#0fbebb 80deg,#0cbdbc 85deg,#02bac4 90deg,#12b1d7 95deg,#1ea8e1 100deg,#23a1e4 105deg,#259ce7 110deg,#2d8bf4 115deg,#3578fd 120deg,#307ffb 125deg,#2e86f7 130deg,#2f82fa 135deg,#317dfc 140deg,#3e70ff 145deg,#4464fd 150deg,#3e70ff 155deg,#317efb 160deg,#2f81fa 165deg,#2e86f7 170deg,#317efb 175deg,#3975fe 180deg,#2e86f7 180deg,#259ce7 185deg,#15afd9 190deg,#19acdc 195deg,#1ea7e1 200deg,#1aabdd 205deg,#16aeda 210deg,#05b6ce 215deg,#03bbc3 220deg,#02b7cb 225deg,#10b2d5 230deg,#249ee6 235deg,#3080fb 240deg,#406cfe 245deg,#4562fc 250deg,#4367fd 255deg,#3677fe 260deg,#3080fb 265deg,#2f81fa 270deg,#2f81fa 275deg,#2f82fa 280deg,#2d8af5 285deg,#2994ed 290deg,#20a4e3 295deg,#0fb2d5 300deg,#19acdc 305deg,#21a2e4 310deg,#19acdc 315deg,#0ab4d2 320deg,#0eb3d4 325deg,#07b5cf 330deg,#01b7ca 335deg,#05bbc1 340deg,#2dc4a5 345deg,#34c79b 350deg,#26c2ac 355deg,#0bb3d2 360deg)"></div>
<div style="left:999.6px;top:191.1px;width:244.8px;height:249.4px;background:conic-gradient(#0fbebb 0deg,#05bbc1 5deg,#04b6cd 10deg,#05bbc1 15deg,#13beb9 20deg,#01b8c9 25deg,#15afd8 30deg,#1fa6e1 35deg,#249ee6 40deg,#1caadf 45deg,#06b5cf 50deg,#19addc 55deg,#21a4e3 60deg,#1baade 65deg,#16afd9 70deg,#12b1d6 75deg,#11b1d6 80deg,#1baade 85deg,#22a1e4 90deg,#2797eb 95deg,#2d8cf3 100deg,#2d8af5 105deg,#2d88f6 110deg,#2e85f8 115deg,#2f82f9 120deg,#2e84f8 125deg,#2e86f7 130deg,#3579fd 135deg,#416cfe 140deg,#3974fe 145deg,#317efb 150deg,#3579fd 155deg,#3975fe 160deg,#3677fe 165deg,#347afd 170deg,#2e85f8 175deg,#2c90f0 180deg,#18aedb 180deg,#07b5d0 185deg,#01bac6 190deg,#10beba 195deg,#16bfb7 200deg,#1fc0b2 205deg,#26c2ac 210deg,#2ac3a9 215deg,#2bc3a8 220deg,#0abdbd 225deg,#0cb3d3 230deg,#17aeda 235deg,#1fa5e2 240deg,#2995ec 245deg,#2e86f7 250deg,#3080fb 255deg,#317efb 260deg,#307ffb 265deg,#2f80fa 270deg,#337afd 275deg,#3777fe 280deg,#317dfc 285deg,#2e85f8 290deg,#2d8df2 295deg,#2895ec 300deg,#20a5e2 305deg,#0eb2d4 310deg,#0ab4d2 315deg,#08b4d0 320deg,#02bac5 325deg,#12beb9 330deg,#21c1b0 335deg,#28c3ab 340deg,#07bcc0 345deg,#13b0d7 350deg,#15afd9 355deg,#21a3e3 360deg)"></div>
<div style="left:1007.2px;top:198.9px;width:229.5px;height:233.9px;background:conic-gradient(#1bc0b4 0deg,#2ec4a4 5deg,#36c899 10deg,#62cd70 15deg,#89cb52 20deg,#60cd72 25deg,#38c896 30deg,#02bac4 35deg,#1ea7e1 40deg,#1da8e0 45deg,#1aacdd 50deg,#1ca9df 55deg,#1da8e0 60deg,#23a1e5 65deg,#269ae9 70deg,#2a92ee 75deg,#2d8bf4 80deg,#2d8cf3 85deg,#2d8df2 90deg,#2e83f9 95deg,#3677fe 100deg,#3c72ff 105deg,#406dfe 110deg,#327cfc 115deg,#2d8af4 120deg,#2e83f9 125deg,#327cfc 130deg,#3578fd 135deg,#3876fe 140deg,#317dfb 145deg,#2e85f8 150deg,#317efb 155deg,#3777fe 160deg,#2f82fa 165deg,#2d8bf3 170deg,#2d8df2 175deg,#2c8ff1 180deg,#01b8c8 180deg,#15bfb7 185deg,#26c2ad 190deg,#33c69e 195deg,#30c5a1 200deg,#2ac3a9 205deg,#27c2ac 210deg,#21c1b0 215deg,#17bfb6 220deg,#1cc0b4 225deg,#17bfb6 230deg,#07b5d0 235deg,#1fa5e2 240deg,#259be8 245deg,#2b90ef 250deg,#317efb 255deg,#416bfe 260deg,#3f6fff 265deg,#3a74fe 270deg,#4466fd 275deg,#475cfa 280deg,#4561fc 285deg,#416afe 290deg,#3677fe 295deg,#2e86f7 300deg,#2798ea 305deg,#1caadf 310deg,#16aeda 315deg,#0cb3d3 320deg,#27c2ab 325deg,#63cd70 330deg,#7ecc5b 335deg,#84cc56 340deg,#90ca4d 345deg,#7bcc5d 350deg,#39c895 355deg,#2cc4a7 360deg)"></div>
<div style="left:1014.9px;top:206.7px;width:214.2px;height:218.3px;background:conic-gradient(#01b8ca 0deg,#17bfb7 5deg,#2cc4a7 10deg,#2bc3a8 15deg,#1fc0b2 20deg,#1cc0b3 25deg,#12beb9 30deg,#02bac5 35deg,#05b6ce 40deg,#1ea7e1 45deg,#2798ea 50deg,#259ce7 55deg,#22a1e4 60deg,#23a0e5 65deg,#249fe5 70deg,#249de7 75deg,#259be8 80deg,#2c8ff1 85deg,#2f82f9 90deg,#317dfc 95deg,#3777fe 100deg,#3a74fe 105deg,#3d71ff 110deg,#406dfe 115deg,#426afe 120deg,#4368fe 125deg,#4466fd 130deg,#406dfe 135deg,#3a74fe 140deg,#3479fd 145deg,#307ffb 150deg,#2f80fa 155deg,#2f82fa 160deg,#317efb 165deg,#337bfd 170deg,#2f81fa 175deg,#2e87f7 180deg,#13b1d7 180deg,#0fbeba 185deg,#35c79a 190deg,#2fc5a2 195deg,#1abfb5 200deg,#33c69d 205deg,#51cc7e 210deg,#6acd6a 215deg,#80cc59 220deg,#68cd6c 225deg,#3fca8e 230deg,#24c1af 235deg,#02b7ca 240deg,#1fa6e2 245deg,#2b91ef 250deg,#337bfd 255deg,#4465fd 260deg,#4561fc 265deg,#4661fc 270deg,#4854f6 275deg,#484df0 280deg,#4757f8 285deg,#4367fd 290deg,#3677fe 295deg,#2d8af5 300deg,#2c90f0 305deg,#2797eb 310deg,#1da9e0 315deg,#01bac6 320deg,#4bcb84 325deg,#cfc028 330deg,#febf3b 335deg,#fad52e 340deg,#fec934 345deg,#e1bc2b 350deg,#9cc943 355deg,#52cc7e 360deg)"></div>
<div style="left:1022.5px;top:214.5px;width:198.9px;height:202.7px;background:conic-gradient(#01b8ca 0deg,#04bbc2 5deg,#0abdbe 10deg,#03b7cc 15deg,#19acdc 20deg,#20a5e2 25deg,#259ce7 30deg,#2798ea 35deg,#2896ec 40deg,#2c90f0 45deg,#2d8bf3 50deg,#2a93ed 55deg,#259ce7 60deg,#2c8ff1 65deg,#2f81fa 70deg,#317dfc 75deg,#3678fd 80deg,#2d87f7 85deg,#2994ed 90deg,#2d8af4 95deg,#307ffb 100deg,#3974fe 105deg,#4269fe 110deg,#406cfe 115deg,#3d70ff 120deg,#4464fd 125deg,#475af9 130deg,#4660fc 135deg,#4368fe 140deg,#3d70ff 145deg,#347afd 150deg,#337afd 155deg,#327cfc 160deg,#327dfc 165deg,#317dfb 170deg,#347afd 175deg,#3875fe 180deg,#2699e9 180deg,#1ea7e1 185deg,#0fb2d4 190deg,#03b7cc 195deg,#01b9c6 200deg,#2ac3a9 205deg,#4ccb82 210deg,#56cc7b 215deg,#5ccc76 220deg,#6acd6a 225deg,#50cc7f 230deg,#13beb8 235deg,#1baade 240deg,#2797ea 245deg,#2e85f8 250deg,#3080fb 255deg,#347afd 260deg,#3f6efe 265deg,#4466fd 270deg,#465efb 275deg,#475bf9 280deg,#465ffb 285deg,#4366fd 290deg,#3a73fe 295deg,#2e83f9 300deg,#2b92ef 305deg,#23a0e5 310deg,#1da8e0 315deg,#14b0d8 320deg,#1ec0b2 325deg,#56cc7b 330deg,#8ecb4e 335deg,#b3c534 340deg,#acc738 345deg,#83cc57 350deg,#79cc5e 355deg,#31c6a0 360deg)"></div>
<div style="left:1030.2px;top:222.3px;width:183.6px;height:187.1px;background:conic-gradient(#1fa5e2 0deg,#1baade 5deg,#18aedb 10deg,#10b2d5 15deg,#0ab4d2 20deg,#1aacdd 25deg,#22a2e4 30deg,#269be8 35deg,#2994ed 40deg,#2994ed 60deg,#2d87f6 65deg,#347afd 70deg,#2d88f6 75deg,#2994ed 80deg,#2c8ff0 85deg,#2d8af5 90deg,#2e87f7 95deg,#2e84f8 100deg,#317efb 105deg,#3777fe 110deg,#426afe 115deg,#465ffb 120deg,#475bf9 125deg,#4758f8 130deg,#4852f4 135deg,#484df0 140deg,#4756f6 145deg,#465ffb 150deg,#475af9 155deg,#4755f6 160deg,#4759f8 165deg,#465efb 170deg,#4465fd 175deg,#406dfe 180deg,#2d89f6 180deg,#2a93ee 185deg,#259ce7 190deg,#1ea7e1 195deg,#12b1d6 200deg,#11b1d6 205deg,#13b1d7 210deg,#0cb3d3 215deg,#08b4d1 220deg,#06b5cf 225deg,#11b2d5 230deg,#1fa6e2 235deg,#2698ea 240deg,#2b91ef 245deg,#2d8af5 250deg,#3677fe 255deg,#4465fd 260deg,#426afe 265deg,#3d71ff 270deg,#4368fe 275deg,#4563fd 280deg,#465ffb 285deg,#465efb 290deg,#4368fe 295deg,#3876fe 300deg,#2e84f8 305deg,#2a93ee 310deg,#249fe5 315deg,#1aacdd 320deg,#0db3d3 325deg,#01b8c8 330deg,#32c69e 335deg,#6fcd66 340deg,#8bcb51 345deg,#94ca4a 350deg,#56cc7b 355deg,#5fcd73 360deg)"></div>
<div style="left:1037.8px;top:230.1px;width:168.3px;height:171.5px;background:conic-gradient(#249ee6 0deg,#22a1e4 5deg,#21a3e3 10deg,#259de7 15deg,#2798ea 20deg,#2c8ef2 25deg,#2e83f9 30deg,#2e84f8 35deg,#2e84f8 40deg,#2d88f6 45deg,#2d8bf4 50deg,#317efb 55deg,#3e70ff 60deg,#3777fe 65deg,#317efb 70deg,#3776fe 75deg,#3f6eff 80deg,#426afe 85deg,#4466fd 90deg,#4660fc 95deg,#475af9 100deg,#4660fc 105deg,#4465fd 110deg,#4756f6 115deg,#4747eb 120deg,#4744e8 125deg,#4742e6 130deg,#4742e6 135deg,#4743e7 140deg,#484aee 145deg,#4854f5 150deg,#484df0 155deg,#4747eb 160deg,#4853f4 165deg,#465ffb 170deg,#4367fd 175deg,#3d70ff 180deg,#2f82f9 180deg,#2b92ee 185deg,#23a0e5 190deg,#1ea6e1 195deg,#1aacdd 200deg,#12b1d6 205deg,#07b5d0 210deg,#16afd9 215deg,#1fa5e2 220deg,#1ea7e1 225deg,#1fa6e2 230deg,#23a0e5 235deg,#269ae9 240deg,#249ee6 245deg,#23a0e5 250deg,#259be8 255deg,#2797eb 260deg,#2e83f9 265deg,#3e6fff 270deg,#406dfe 275deg,#406cfe 280deg,#3f6fff 285deg,#3a73fe 290deg,#3579fd 295deg,#3080fb 300deg,#2d8cf3 305deg,#2699e9 310deg,#20a4e3 315deg,#17aeda 320deg,#11b1d6 325deg,#0ab4d1 330deg,#04b6cd 335deg,#02b7cb 340deg,#13beb8 345deg,#2ac3a9 350deg,#2cc4a6 355deg,#13beb8 360deg)"></div>
<div style="left:1045.5px;top:237.9px;width:153.0px;height:155.9px;background:conic-gradient(#2a93ed 0deg,#2e84f8 5deg,#3c71ff 10deg,#4563fd 15deg,#465efb 20deg,#4368fd 25deg,#3a73fe 30deg,#3a74fe 35deg,#3d70ff 40deg,#416bfe 45deg,#4465fd 50deg,#416bfe 55deg,#3c72ff 60deg,#3f6fff 65deg,#406cfe 70deg,#4564fd 75deg,#475bfa 80deg,#465ffb 85deg,#4562fc 90deg,#465efb 95deg,#475af9 100deg,#475af9 105deg,#4759f8 110deg,#4851f3 115deg,#4849ed 120deg,#473fe2 125deg,#4536d4 130deg,#463cde 135deg,#4743e7 140deg,#463bdc 145deg,#4435d0 150deg,#463cde 155deg,#4746ea 160deg,#4852f4 165deg,#465ffb 170deg,#465efb 175deg,#475bf9 180deg,#4562fc 180deg,#3f6eff 185deg,#3579fd 190deg,#3b73fe 195deg,#3e6fff 200deg,#2e83f9 205deg,#2797eb 210deg,#249fe5 215deg,#1fa5e2 220deg,#20a4e3 225deg,#22a2e4 230deg,#1da8e0 235deg,#0cb3d3 240deg,#04b6cd 245deg,#1da9e0 250deg,#1fa6e2 255deg,#1babde 260deg,#1ea8e0 265deg,#21a3e3 270deg,#23a0e5 275deg,#259ce7 280deg,#2896eb 285deg,#2b92ef 290deg,#2798ea 295deg,#249fe5 300deg,#21a4e3 305deg,#1ca9df 310deg,#1ea7e1 315deg,#20a5e2 320deg,#17aeda 325deg,#04b6cd 330deg,#0db3d4 335deg,#18addb 340deg,#01b9c7 345deg,#1bc0b4 350deg,#10beba 355deg,#01b9c6 360deg)"></div>
<div style="left:1053.2px;top:245.6px;width:137.7px;height:140.3px;background:conic-gradient(#307ffb 0deg,#416bfe 5deg,#4853f5 10deg,#484aee 15deg,#484df1 20deg,#484ff1 25deg,#4851f3 30deg,#465efb 35deg,#4465fd 40deg,#465ffb 45deg,#4759f8 50deg,#4852f4 55deg,#484bef 60deg,#4851f3 65deg,#4757f7 70deg,#4851f3 75deg,#484aee 80deg,#4850f3 85deg,#4756f6 90deg,#484ff2 95deg,#4848ec 100deg,#4745e9 105deg,#4742e6 110deg,#4742e6 120deg,#4743e7 125deg,#4745e9 130deg,#463adc 135deg,#4433cc 140deg,#4435d1 145deg,#4539d9 150deg,#4742e7 155deg,#484ef1 160deg,#475af9 165deg,#4367fd 170deg,#4269fe 175deg,#4269fe 180deg,#406dfe 180deg,#406dfe 185deg,#426afe 190deg,#3a73fe 195deg,#2f80fa 200deg,#3678fd 205deg,#3c71ff 210deg,#2d8bf4 215deg,#23a0e5 220deg,#269be8 225deg,#2994ed 230deg,#2798ea 235deg,#05b6ce 240deg,#98c947 245deg,#3cc991 250deg,#13b0d7 255deg,#15afd8 260deg,#03b7cb 265deg,#05bbc1 270deg,#13b0d7 275deg,#23a0e5 280deg,#22a1e4 285deg,#21a2e4 290deg,#249fe5 295deg,#249ee6 300deg,#2699e9 305deg,#2895ec 310deg,#269ae8 315deg,#23a0e5 320deg,#259be7 325deg,#2797eb 330deg,#269ae9 335deg,#259de7 340deg,#23a1e4 345deg,#21a3e3 350deg,#22a1e4 355deg,#2896eb 360deg)"></div>
<div style="left:1060.8px;top:253.4px;width:122.4px;height:124.7px;background:#fff"></div>
<div style="left:57.5px;top:737.8px;width:275.2px;height:280.8px;background:#3e26a8"></div>
<div style="left:65.1px;top:745.6px;width:259.9px;height:265.2px;background:#3e26a8"></div>
<div style="left:72.8px;top:753.4px;width:244.6px;height:249.6px;background:#3e26a8"></div>
<div style="left:80.4px;top:761.2px;width:229.4px;height:234.0px;background:#3e26a8"></div>
<div style="left:88.1px;top:769.0px;width:214.1px;height:218.4px;background:#3e26a8"></div>
<div style="left:95.7px;top:776.8px;width:198.8px;height:202.8px;background:#3e26a8"></div>
<div style="left:103.4px;top:784.6px;width:183.5px;height:187.2px;background:#3e26a8"></div>
<div style="left:111.0px;top:792.4px;width:168.2px;height:171.6px;background:#3e26a8"></div>
<div style="left:118.6px;top:800.2px;width:152.9px;height:156.0px;background:#3e26a8"></div>
<div style="left:126.3px;top:808.0px;width:137.6px;height:140.4px;background:#3e26a8"></div>
<div style="left:133.9px;top:815.8px;width:122.3px;height:124.8px;background:#fff"></div>
<div style="left:523.2px;top:736.2px;width:275.4px;height:280.6px;background:conic-gradient(#463ddf 0deg,#463ee1 5deg,#4740e3 10deg,#4741e4 15deg,#4742e6 20deg,#4741e5 25deg,#4741e5 30deg,#4744e8 35deg,#4747eb 40deg,#4746ea 45deg,#4744e9 50deg,#484aed 55deg,#484ff2 60deg,#484bef 65deg,#4747eb 70deg,#4849ed 75deg,#484cef 80deg,#484ff2 85deg,#4851f3 90deg,#484ff2 95deg,#484df0 100deg,#484ef1 105deg,#4850f2 110deg,#484df1 115deg,#484bee 120deg,#4848ec 125deg,#4745e9 130deg,#4745ea 135deg,#4746ea 140deg,#4743e7 145deg,#4740e4 150deg,#473ee1 155deg,#463cdf 160deg,#463cdf 165deg,#463ddf 170deg,#4740e3 175deg,#4743e7 180deg,#4743e7 185deg,#4744e8 190deg,#473fe3 195deg,#463cde 200deg,#4743e7 205deg,#4852f4 210deg,#406cfe 215deg,#2c8ef1 220deg,#2798ea 225deg,#2e86f7 230deg,#4465fd 235deg,#484df0 240deg,#473fe3 245deg,#463adb 250deg,#463bdd 255deg,#463de0 260deg,#463de0 270deg,#473fe3 275deg,#4744e8 280deg,#4849ed 285deg,#4755f6 290deg,#3a74fe 295deg,#2994ec 300deg,#249fe5 305deg,#259de7 310deg,#2c8ff0 315deg,#3677fe 320deg,#4562fc 325deg,#4853f5 330deg,#4746eb 335deg,#4740e3 340deg,#463de0 345deg,#463cdf 350deg,#463cdf 360deg)"></div>
<div style="left:530.8px;top:744.0px;width:260.1px;height:265.0px;background:conic-gradient(#4536d4 0deg,#4537d6 5deg,#4539d8 10deg,#463adc 15deg,#463ddf 20deg,#463ddf 25deg,#463de0 30deg,#473fe2 35deg,#4741e5 40deg,#4740e3 45deg,#473fe2 50deg,#4742e6 55deg,#4745e9 60deg,#4744e8 65deg,#4743e7 70deg,#4848ec 75deg,#484df0 80deg,#484ff1 85deg,#4850f2 90deg,#484ef1 95deg,#484cf0 100deg,#484bef 105deg,#484aee 110deg,#4745e9 115deg,#4740e3 120deg,#4742e6 125deg,#4745e9 130deg,#4743e8 135deg,#4743e7 140deg,#4742e6 145deg,#4741e5 150deg,#473ee1 155deg,#463cde 160deg,#463de0 165deg,#473fe3 170deg,#463de0 175deg,#463bdc 180deg,#463bdc 180deg,#473fe2 185deg,#4743e7 190deg,#4743e7 200deg,#4740e4 205deg,#473fe3 210deg,#4743e7 215deg,#4848ec 220deg,#484ef1 225deg,#484cef 230deg,#4744e8 235deg,#463ee1 240deg,#463cde 245deg,#463cde 250deg,#463adb 255deg,#4538d8 260deg,#4536d2 265deg,#4433cd 270deg,#4537d6 275deg,#463cde 280deg,#4639da 285deg,#4538d7 290deg,#4740e4 295deg,#484aed 300deg,#4848ec 305deg,#4745e9 310deg,#4743e7 315deg,#4740e3 320deg,#473ee1 325deg,#463ee1 330deg,#4538d8 335deg,#4434d0 340deg,#4434cf 345deg,#4434cf 350deg,#4435d1 355deg,#4434cf 360deg)"></div>
<div style="left:538.5px;top:751.8px;width:244.8px;height:249.4px;background:conic-gradient(#4332c9 0deg,#4230c4 5deg,#422ebf 10deg,#4332c8 15deg,#4435d1 20deg,#4433cb 25deg,#4330c5 30deg,#4230c4 35deg,#4230c4 40deg,#4230c3 45deg,#4230c3 50deg,#4332ca 55deg,#4435d1 60deg,#4435d0 65deg,#4434cf 70deg,#4435d2 75deg,#4536d4 80deg,#4537d5 85deg,#4537d5 90deg,#4537d7 95deg,#4538d8 100deg,#4539d9 105deg,#4639da 110deg,#4538d7 115deg,#4536d3 120deg,#4434ce 125deg,#4332c8 130deg,#4433cb 135deg,#4434cf 140deg,#4433cd 145deg,#4332cb 150deg,#4332ca 155deg,#4332ca 160deg,#4535d2 165deg,#4539d9 170deg,#463bdd 175deg,#463ee1 180deg,#463ee1 180deg,#463cde 185deg,#463ada 190deg,#463bdc 195deg,#463bdd 200deg,#463cde 205deg,#463cde 210deg,#463de0 215deg,#463ee1 220deg,#463cde 225deg,#4639da 230deg,#4539d8 235deg,#4538d7 240deg,#4537d6 245deg,#4537d6 250deg,#4435d0 255deg,#4433cb 260deg,#4434ce 265deg,#4535d2 270deg,#4536d2 275deg,#4536d3 280deg,#4332ca 285deg,#422fc1 290deg,#4332ca 295deg,#4536d3 300deg,#4435d1 305deg,#4434cf 310deg,#4332c8 315deg,#422fc2 320deg,#4330c5 325deg,#4332c9 330deg,#4332cb 335deg,#4433cd 340deg,#4434d0 345deg,#4536d3 350deg,#4434ce 355deg,#4536d3 360deg)"></div>
<div style="left:546.1px;top:759.6px;width:229.5px;height:233.9px;background:conic-gradient(#4330c5 0deg,#4331c7 5deg,#4332ca 10deg,#4434ce 15deg,#4536d2 20deg,#4536d3 25deg,#4536d5 30deg,#4536d4 35deg,#4536d4 40deg,#4434ce 45deg,#4332c9 50deg,#4433cb 55deg,#4434cd 60deg,#4332cb 65deg,#4331c8 70deg,#4331c6 75deg,#4230c4 80deg,#4331c8 85deg,#4433cc 90deg,#4434cf 95deg,#4536d3 100deg,#4536d3 110deg,#4535d2 115deg,#4435d1 120deg,#4536d4 125deg,#4538d7 130deg,#4435d1 135deg,#4433cb 140deg,#4433cc 145deg,#4433cc 150deg,#4535d2 155deg,#4538d8 160deg,#4539d8 165deg,#4639da 170deg,#463adc 175deg,#463bde 180deg,#463bde 180deg,#463ee1 185deg,#4740e4 190deg,#4743e7 195deg,#4744e8 200deg,#4743e7 205deg,#4742e6 210deg,#473fe3 215deg,#463de0 220deg,#473fe2 225deg,#4740e4 230deg,#473fe3 235deg,#473ee2 240deg,#463adb 245deg,#4536d4 250deg,#4434ce 255deg,#4331c8 260deg,#4331c6 265deg,#4330c5 270deg,#4433cd 275deg,#4537d6 280deg,#4433cc 285deg,#422fc2 290deg,#4332ca 295deg,#4435d1 300deg,#4434cf 305deg,#4434cd 310deg,#4332ca 315deg,#4331c7 320deg,#4433cd 325deg,#4435d2 330deg,#4332c9 335deg,#422fc1 340deg,#422fc2 345deg,#4230c3 350deg,#4230c4 355deg,#4230c3 360deg)"></div>
<div style="left:553.8px;top:767.4px;width:214.2px;height:218.3px;background:conic-gradient(#463bdc 0deg,#463cde 5deg,#463de0 10deg,#4741e6 15deg,#4745e9 20deg,#4745e9 25deg,#4743e7 30deg,#463cdf 35deg,#4537d5 40deg,#4538d7 45deg,#4639da 50deg,#463bdc 55deg,#463ddf 60deg,#463cde 65deg,#463bdd 70deg,#463adc 75deg,#463ada 80deg,#4538d7 85deg,#4536d4 90deg,#4538d7 95deg,#463adb 100deg,#4639d9 105deg,#4538d8 110deg,#4538d7 115deg,#4537d6 120deg,#4639da 125deg,#463cde 130deg,#4538d7 135deg,#4435d0 140deg,#4539d9 145deg,#463de0 150deg,#463adb 155deg,#4537d6 160deg,#463cde 165deg,#4740e4 170deg,#4741e5 175deg,#4742e6 180deg,#4742e6 180deg,#4741e5 185deg,#4741e5 190deg,#4744e9 195deg,#4848ec 200deg,#4747eb 205deg,#4745e9 210deg,#4745e9 220deg,#4746eb 225deg,#4847ec 230deg,#4742e6 235deg,#463de0 240deg,#463bdd 245deg,#4639da 250deg,#463bdc 255deg,#463cde 260deg,#463ee0 265deg,#473fe3 270deg,#463cde 275deg,#4539d9 280deg,#4538d8 285deg,#4537d6 290deg,#463bdc 295deg,#473ee2 300deg,#463cdf 305deg,#463bdc 310deg,#4639d9 315deg,#4538d7 320deg,#463ada 325deg,#463cde 330deg,#4539d9 335deg,#4536d3 340deg,#4537d6 345deg,#4639d9 350deg,#4539d9 355deg,#4639d9 360deg)"></div>
<div style="left:561.4px;top:775.2px;width:198.9px;height:202.7px;background:conic-gradient(#4745e9 0deg,#484cef 5deg,#4755f6 10deg,#4563fd 15deg,#406dfe 20deg,#3d71ff 25deg,#416bfe 30deg,#465efb 35deg,#4852f4 40deg,#4747eb 45deg,#4740e3 50deg,#463de0 55deg,#463de0 60deg,#463cde 65deg,#463bdd 70deg,#4539d9 75deg,#4537d5 80deg,#4536d4 85deg,#4536d2 90deg,#4535d2 95deg,#4535d2 100deg,#463adb 105deg,#473fe3 110deg,#463ee1 115deg,#463de0 120deg,#473fe2 125deg,#4740e4 130deg,#463bdd 135deg,#4536d4 140deg,#463adb 145deg,#463ee1 150deg,#463de0 155deg,#463de0 160deg,#473fe3 165deg,#4742e6 170deg,#4740e3 175deg,#463ee1 180deg,#463ee1 180deg,#4743e7 185deg,#4848ec 190deg,#4743e7 195deg,#463de0 200deg,#4741e5 205deg,#4745e9 210deg,#4746ea 215deg,#4848ec 220deg,#484aee 225deg,#484cef 230deg,#484cef 235deg,#484bef 240deg,#484cf0 245deg,#484df0 250deg,#484ef1 255deg,#484ff2 260deg,#484ff2 265deg,#4850f2 270deg,#484bef 275deg,#4746ea 280deg,#4747eb 285deg,#4848ec 290deg,#4847ec 295deg,#4747eb 300deg,#4745ea 305deg,#4744e8 310deg,#4740e3 315deg,#463cdf 320deg,#463ee0 325deg,#473fe3 330deg,#473fe3 340deg,#463de0 345deg,#463bde 350deg,#463bdd 355deg,#463bdd 360deg)"></div>
<div style="left:569.1px;top:783.0px;width:183.6px;height:187.1px;background:conic-gradient(#463ee1 0deg,#4740e3 5deg,#4743e7 10deg,#4742e6 15deg,#4740e4 20deg,#4740e3 25deg,#463de0 30deg,#463de0 35deg,#463ee1 40deg,#463ddf 45deg,#463ddf 50deg,#4538d8 55deg,#4434d0 60deg,#4538d7 65deg,#463cde 70deg,#463cde 75deg,#463bdd 80deg,#463adb 85deg,#4538d8 90deg,#4537d6 95deg,#4536d4 100deg,#4435d1 105deg,#4434cd 110deg,#4433cd 115deg,#4433cc 120deg,#4537d6 125deg,#463cdf 130deg,#4538d8 135deg,#4435d1 140deg,#4537d6 145deg,#463adb 150deg,#4538d7 155deg,#4536d3 160deg,#4539d9 165deg,#463cde 170deg,#463bdd 175deg,#463adb 180deg,#463adb 180deg,#4539d9 185deg,#4538d7 190deg,#4537d6 195deg,#4537d6 200deg,#463bdc 205deg,#473ee2 210deg,#463bdd 215deg,#4539d9 220deg,#463adc 225deg,#463cdf 230deg,#4740e3 235deg,#4743e7 240deg,#4746eb 245deg,#484aed 250deg,#4849ed 255deg,#4848ec 260deg,#4746ea 265deg,#4743e7 270deg,#4747eb 275deg,#484aee 280deg,#4744e8 285deg,#463ee1 290deg,#463bdd 295deg,#4539d9 300deg,#4639d9 305deg,#4639da 310deg,#4639d9 315deg,#4639da 320deg,#4536d5 325deg,#4434cf 330deg,#4434d0 335deg,#4435d0 340deg,#4535d2 345deg,#4536d4 350deg,#4539d9 355deg,#4536d3 360deg)"></div>
<div style="left:576.8px;top:790.8px;width:168.3px;height:171.5px;background:conic-gradient(#4230c4 0deg,#4332ca 5deg,#4434d0 10deg,#4332c9 15deg,#422fc3 20deg,#4332c8 25deg,#4434ce 30deg,#4331c8 35deg,#422fc2 40deg,#4330c5 45deg,#4332c9 50deg,#4331c6 55deg,#4230c4 60deg,#4330c5 65deg,#4330c5 70deg,#4433cd 75deg,#4536d4 80deg,#4536d3 85deg,#4435d1 90deg,#4433cc 95deg,#4331c6 100deg,#4433cd 105deg,#4536d3 110deg,#4433cc 115deg,#4230c4 120deg,#4331c6 125deg,#4331c8 130deg,#4433cd 135deg,#4535d2 140deg,#4435d0 145deg,#4434ce 150deg,#4331c8 155deg,#422fc2 160deg,#4433cc 165deg,#4537d6 170deg,#4434cd 175deg,#4330c5 180deg,#4330c5 180deg,#4331c6 185deg,#4331c6 190deg,#4433cc 195deg,#4536d2 200deg,#4434ce 205deg,#4332ca 210deg,#4332ca 220deg,#4332c9 225deg,#4331c7 230deg,#4332c8 235deg,#4332c9 240deg,#4435d0 245deg,#4537d6 250deg,#4536d3 255deg,#4434d0 260deg,#4536d4 265deg,#4538d7 270deg,#4536d4 275deg,#4435d1 280deg,#4435d1 290deg,#4537d5 295deg,#4639d9 300deg,#4536d4 305deg,#4434ce 310deg,#4434ce 320deg,#4435d1 325deg,#4536d3 330deg,#4433cc 335deg,#4230c4 340deg,#4230c3 345deg,#4230c3 360deg)"></div>
<div style="left:584.4px;top:798.5px;width:153.0px;height:155.9px;background:conic-gradient(#4434cf 0deg,#4434cf 10deg,#4433cd 15deg,#4433cb 20deg,#4332ca 25deg,#4332c8 30deg,#4230c4 35deg,#422ec0 40deg,#422ebf 45deg,#412ebe 50deg,#422ebf 55deg,#422ebf 60deg,#412dbd 65deg,#412cba 70deg,#422fc2 75deg,#4332ca 80deg,#4331c6 85deg,#422fc2 90deg,#4331c7 95deg,#4433cb 100deg,#4331c6 105deg,#422fc1 110deg,#4331c8 115deg,#4434ce 120deg,#4433cd 125deg,#4433cb 130deg,#422fc2 135deg,#412cb9 140deg,#412dbb 145deg,#412ebd 150deg,#4330c5 155deg,#4433cd 160deg,#4331c8 165deg,#4230c3 170deg,#4332c9 175deg,#4434ce 180deg,#4434ce 180deg,#4331c8 185deg,#422fc2 190deg,#422ebe 195deg,#412dbb 200deg,#422fc1 205deg,#4331c7 210deg,#4332c9 215deg,#4332cb 220deg,#4330c5 225deg,#422ec0 230deg,#412ebe 235deg,#412dbc 240deg,#422ebf 245deg,#422fc2 250deg,#4332c9 255deg,#4434cf 260deg,#4433cd 265deg,#4433cb 270deg,#4230c4 275deg,#412dbd 280deg,#412ebe 285deg,#422ebf 290deg,#412ebe 295deg,#412dbc 300deg,#412dbb 305deg,#412cbb 310deg,#422fc3 315deg,#4332cb 320deg,#4230c4 325deg,#412dbd 330deg,#422fc1 335deg,#4330c5 340deg,#4230c4 345deg,#4230c3 350deg,#4332c9 355deg,#422fc3 360deg)"></div>
<div style="left:592.0px;top:806.3px;width:137.7px;height:140.3px;background:conic-gradient(#422fc1 0deg,#422fc2 5deg,#4230c3 10deg,#4331c7 15deg,#4433cb 20deg,#4331c6 25deg,#422fc1 30deg,#422fc2 35deg,#422fc2 40deg,#4230c3 45deg,#4230c4 50deg,#422ec0 55deg,#412dbb 60deg,#422ebf 65deg,#422fc2 70deg,#4230c4 75deg,#4330c5 80deg,#4331c7 85deg,#4332c9 90deg,#422fc1 95deg,#412cb9 100deg,#412dbc 105deg,#412ebe 110deg,#412dbb 115deg,#412cb9 120deg,#422fc1 125deg,#4332c9 130deg,#4331c8 135deg,#4331c6 140deg,#422ebf 145deg,#402cb8 150deg,#422fc2 155deg,#4433cd 160deg,#4433cc 165deg,#4433cc 170deg,#4332c9 175deg,#4331c5 180deg,#4331c5 180deg,#4330c5 185deg,#4330c5 190deg,#422ec0 195deg,#412cbb 200deg,#412cb9 205deg,#402bb8 210deg,#412dbd 215deg,#4230c3 220deg,#412ebe 225deg,#412cb9 230deg,#412cba 235deg,#412dbb 240deg,#412dbc 245deg,#412dbd 250deg,#412cba 255deg,#402bb8 260deg,#412dbd 265deg,#422fc1 270deg,#422fc1 280deg,#4330c5 285deg,#4332ca 290deg,#4331c6 295deg,#422fc3 300deg,#4230c4 305deg,#4330c5 310deg,#4230c4 315deg,#422fc2 320deg,#4230c4 325deg,#4331c6 330deg,#4230c3 335deg,#422fc1 340deg,#422ebf 345deg,#412dbd 350deg,#422ebf 355deg,#412dbd 360deg)"></div>
<div style="left:599.7px;top:814.1px;width:122.4px;height:124.7px;background:#fff"></div>
<div style="left:989.8px;top:736.2px;width:275.2px;height:280.8px;background:conic-gradient(#4743e7 0deg,#3678fe 5deg,#17aeda 10deg,#02bbc3 15deg,#1bc0b4 20deg,#35c79a 25deg,#33c69d 30deg,#01bac5 35deg,#2d8bf3 40deg,#4756f7 45deg,#484bef 50deg,#484ff2 55deg,#4851f4 60deg,#4852f4 65deg,#475bfa 70deg,#2f82fa 75deg,#08b4d1 80deg,#2fc5a3 85deg,#07b5cf 90deg,#3776fe 95deg,#4747ec 100deg,#4639da 105deg,#4537d5 110deg,#4536d2 115deg,#4435d0 120deg,#4539d9 125deg,#463de0 130deg,#4539d9 135deg,#4435d1 140deg,#4536d4 145deg,#4537d6 150deg,#4743e7 155deg,#2b91ef 160deg,#01b9c6 165deg,#0bbdbc 170deg,#01b9c7 175deg,#2d8cf3 180deg,#ecba32 180deg,#f9fb15 185deg,#6fcd66 190deg,#12b1d7 195deg,#4368fe 200deg,#4743e7 205deg,#4740e3 210deg,#484ef1 215deg,#2b91ef 220deg,#25c2ad 225deg,#1aacdd 230deg,#4466fd 235deg,#484aee 240deg,#4746ea 245deg,#4743e7 250deg,#463de0 255deg,#463bdd 260deg,#463bdc 265deg,#463bdc 270deg,#463cdf 275deg,#473ee1 280deg,#463adc 285deg,#4537d6 290deg,#473ee2 295deg,#4850f2 300deg,#416bfe 305deg,#2994ed 310deg,#2fc5a3 315deg,#f5e924 320deg,#57cc7a 325deg,#3875fe 330deg,#4852f4 335deg,#484ef1 340deg,#465dfb 345deg,#3f6eff 350deg,#4368fe 355deg,#475bf9 360deg)"></div>
<div style="left:997.4px;top:744.0px;width:259.9px;height:265.2px;background:conic-gradient(#463bdc 0deg,#4746ea 5deg,#4852f4 10deg,#4660fc 15deg,#3f6dfe 20deg,#3875fe 25deg,#3876fe 30deg,#4368fd 35deg,#4853f5 40deg,#484bef 45deg,#4850f3 50deg,#4756f6 55deg,#4758f8 60deg,#4853f4 65deg,#484bee 70deg,#484bee 75deg,#484cf0 80deg,#4747ec 85deg,#4740e3 90deg,#463bdc 95deg,#4538d7 100deg,#4536d3 105deg,#4435d1 110deg,#4538d7 115deg,#463bdc 120deg,#4538d7 125deg,#4535d2 130deg,#4538d8 135deg,#463cde 140deg,#463ada 145deg,#4538d8 150deg,#484df0 155deg,#48cb86 160deg,#f6df29 165deg,#f5ec23 170deg,#fec636 175deg,#22a2e4 180deg,#2f80fa 180deg,#31c6a0 185deg,#44cb8a 190deg,#33c69d 195deg,#2797eb 200deg,#4746ea 205deg,#463de0 210deg,#463ddf 215deg,#4852f4 220deg,#337bfc 225deg,#2e85f8 230deg,#327bfc 235deg,#3b73fe 240deg,#4562fc 245deg,#484ff1 250deg,#463ee1 255deg,#4536d4 260deg,#4435d2 265deg,#4435d1 270deg,#4536d3 275deg,#4536d5 280deg,#4538d7 285deg,#4639d9 290deg,#4536d4 295deg,#4536d3 300deg,#473fe2 305deg,#484ef1 310deg,#4367fd 315deg,#2895ec 320deg,#3b72ff 325deg,#4747eb 330deg,#463cdf 335deg,#463de0 340deg,#484aee 345deg,#4757f7 350deg,#4853f5 355deg,#484df0 360deg)"></div>
<div style="left:1005.1px;top:751.8px;width:244.6px;height:249.6px;background:conic-gradient(#473fe2 0deg,#4538d7 5deg,#4331c6 10deg,#4433cc 15deg,#4536d5 20deg,#4433cc 25deg,#4230c3 30deg,#4433cd 35deg,#4537d6 40deg,#4434cf 45deg,#4332c9 50deg,#4332ca 55deg,#4332c9 60deg,#4434ce 65deg,#4435d2 70deg,#4536d5 75deg,#4538d7 80deg,#4434cd 85deg,#4230c4 90deg,#4331c6 95deg,#4332c9 100deg,#4332ca 105deg,#4433cc 110deg,#4331c7 115deg,#422fc2 120deg,#4331c6 125deg,#4332cb 130deg,#4331c6 135deg,#4331c5 140deg,#4538d8 145deg,#4747eb 150deg,#475cfa 155deg,#2f81fa 160deg,#2b91ef 165deg,#2c8ff1 170deg,#2f82fa 175deg,#4660fb 180deg,#4535d2 180deg,#01b8ca 185deg,#f5e526 190deg,#f7f51b 195deg,#51cc7f 200deg,#11beb9 205deg,#249fe5 210deg,#465ffb 215deg,#4848ec 220deg,#4852f4 225deg,#4368fe 230deg,#3876fe 235deg,#406cfe 240deg,#465efb 245deg,#484bef 250deg,#463cde 255deg,#4537d6 260deg,#4536d2 265deg,#4435d1 270deg,#4435d1 280deg,#4434cf 285deg,#4433cd 290deg,#4434ce 295deg,#4434ce 315deg,#4434cf 320deg,#4332c9 325deg,#4230c3 330deg,#422fc2 335deg,#422fc1 340deg,#4433cd 345deg,#4539d9 350deg,#463de0 355deg,#463ddf 360deg)"></div>
<div style="left:1012.7px;top:759.6px;width:229.4px;height:234.0px;background:conic-gradient(#4851f3 0deg,#4747eb 5deg,#4538d7 10deg,#4330c5 15deg,#412dbd 20deg,#412ebd 25deg,#422ec0 30deg,#422fc1 35deg,#422fc2 40deg,#4332ca 45deg,#4435d1 50deg,#4332c9 55deg,#422fc0 60deg,#4331c8 65deg,#4434cf 70deg,#4434cf 80deg,#4332c9 85deg,#4230c4 90deg,#4433cb 95deg,#4535d2 100deg,#4434cf 105deg,#4433cc 110deg,#4332c9 115deg,#4331c6 120deg,#4230c3 125deg,#422fc1 130deg,#4331c6 135deg,#4434cf 140deg,#463ee0 145deg,#484ff2 150deg,#4660fc 155deg,#3b73fe 160deg,#307ffb 165deg,#317efb 170deg,#3a74fe 175deg,#4561fc 180deg,#4851f4 180deg,#2699e9 185deg,#10beba 190deg,#1dc0b2 195deg,#02b7cb 200deg,#03b7cc 205deg,#1baade 210deg,#307ffb 215deg,#3c71ff 220deg,#259de7 225deg,#0abdbe 230deg,#04bbc2 235deg,#249fe6 240deg,#3f6efe 245deg,#4745e9 250deg,#4536d3 255deg,#4433cc 260deg,#4330c5 265deg,#422fc1 270deg,#4332c8 275deg,#4434cf 280deg,#4332cb 285deg,#4331c6 290deg,#4331c6 300deg,#4332ca 305deg,#4434ce 310deg,#4331c7 315deg,#422ebf 320deg,#4330c5 325deg,#4433cc 330deg,#4433cb 335deg,#4433cd 340deg,#4536d3 345deg,#463de0 350deg,#484aee 355deg,#4850f3 360deg)"></div>
<div style="left:1020.4px;top:767.4px;width:214.1px;height:218.4px;background:conic-gradient(#4537d7 0deg,#4538d8 5deg,#4538d7 10deg,#4433cd 15deg,#4330c5 20deg,#4331c6 25deg,#4331c7 30deg,#4331c8 35deg,#4332c9 40deg,#4433cb 45deg,#4434ce 50deg,#4434cf 55deg,#4434cf 60deg,#4331c6 65deg,#412dbc 70deg,#412dbc 80deg,#422fc1 85deg,#4331c6 90deg,#4332ca 95deg,#4433cd 100deg,#4332ca 105deg,#4331c6 110deg,#4230c3 115deg,#422fc0 120deg,#4332c9 125deg,#4435d1 130deg,#4332ca 135deg,#4330c5 140deg,#4332ca 145deg,#4536d5 150deg,#4740e3 155deg,#484cef 160deg,#4755f6 165deg,#4758f8 170deg,#4759f8 175deg,#4854f5 180deg,#4759f8 180deg,#327cfc 185deg,#2798ea 190deg,#17aeda 195deg,#06b5cf 200deg,#05b6ce 205deg,#03bbc3 210deg,#23c1af 215deg,#2ac3a9 220deg,#01b8ca 225deg,#2896eb 230deg,#4368fe 235deg,#4849ed 240deg,#463bdc 245deg,#4435d1 250deg,#4434ce 255deg,#4434ce 260deg,#4433cd 265deg,#4433cb 270deg,#4331c6 275deg,#422fc1 280deg,#4331c7 285deg,#4433cc 290deg,#4230c4 295deg,#412dbc 300deg,#412ebe 305deg,#422fc1 310deg,#4332c9 315deg,#4435d2 320deg,#4433cb 325deg,#4332ca 330deg,#4538d7 335deg,#4539d9 340deg,#463de0 345deg,#4740e3 350deg,#4639d9 355deg,#463bdc 360deg)"></div>
<div style="left:1028.0px;top:775.2px;width:198.8px;height:202.8px;background:conic-gradient(#422fc2 0deg,#4331c7 5deg,#4434ce 10deg,#4536d5 15deg,#4538d7 20deg,#4536d4 25deg,#4435d0 30deg,#4538d8 35deg,#463adb 40deg,#4433cb 45deg,#412dbd 50deg,#4330c5 55deg,#4434cd 60deg,#4331c6 65deg,#422ebe 70deg,#422ebf 75deg,#422fc0 80deg,#422fc1 85deg,#422fc3 90deg,#412ebe 95deg,#412cba 100deg,#412dbb 105deg,#412dbc 110deg,#422ebf 115deg,#422fc2 120deg,#4230c3 125deg,#4230c4 130deg,#4432cb 135deg,#4536d3 140deg,#463ada 145deg,#4741e5 150deg,#4745e9 155deg,#484aee 160deg,#4758f8 165deg,#4561fc 170deg,#4759f8 175deg,#484bef 180deg,#4435d1 180deg,#4745ea 185deg,#4465fd 190deg,#2d8cf3 195deg,#12b1d6 200deg,#2fc5a3 205deg,#31c6a0 210deg,#16afda 215deg,#317efb 220deg,#4852f4 225deg,#4639da 230deg,#4331c6 235deg,#412dbd 240deg,#412dbd 245deg,#422fc0 250deg,#4332ca 255deg,#4537d6 260deg,#4538d7 265deg,#4539d9 270deg,#473fe3 275deg,#4742e6 280deg,#463de0 285deg,#4537d6 290deg,#4433cc 295deg,#4330c5 300deg,#4332c8 305deg,#4433cd 310deg,#4331c6 315deg,#422ebe 320deg,#4330c5 325deg,#4745ea 330deg,#2e86f7 335deg,#2895ec 340deg,#2798ea 345deg,#2f81fa 350deg,#463bdd 355deg,#4435d0 360deg)"></div>
<div style="left:1035.7px;top:783.0px;width:183.5px;height:187.2px;background:conic-gradient(#422fc2 0deg,#4741e5 5deg,#4562fc 10deg,#3876fe 15deg,#337bfd 20deg,#3080fa 25deg,#2e84f8 30deg,#3876fe 35deg,#475af9 40deg,#4740e3 45deg,#4332c9 50deg,#4230c4 55deg,#4330c5 60deg,#4433cb 65deg,#4435d1 70deg,#4433cc 75deg,#4331c6 80deg,#4330c5 85deg,#4330c5 90deg,#4331c7 95deg,#4332ca 100deg,#4330c5 105deg,#422fc0 110deg,#412dbd 115deg,#412cba 120deg,#422ec0 125deg,#4331c6 130deg,#4433cc 135deg,#4536d2 140deg,#4537d5 145deg,#463adb 150deg,#463ee1 155deg,#4743e7 160deg,#484ef1 165deg,#4854f5 170deg,#4852f4 175deg,#484cef 180deg,#4757f7 180deg,#4367fd 185deg,#3876fe 190deg,#2e85f8 195deg,#2d89f5 200deg,#327bfc 205deg,#4563fd 210deg,#484df0 215deg,#463bdc 220deg,#4433cc 225deg,#4230c4 230deg,#422ec0 235deg,#422ebe 240deg,#422fc0 245deg,#4330c5 250deg,#4332c9 255deg,#4539d8 260deg,#484ef1 265deg,#416bfe 270deg,#317dfb 275deg,#317efb 280deg,#3975fe 285deg,#4562fc 290deg,#484bef 295deg,#463de0 300deg,#4434ce 305deg,#422ec0 310deg,#4331c6 315deg,#4434ce 320deg,#4331c6 325deg,#4230c3 330deg,#4537d6 335deg,#463bdd 340deg,#463bde 345deg,#4539d9 350deg,#4230c4 355deg,#4331c7 360deg)"></div>
<div style="left:1043.3px;top:790.8px;width:168.2px;height:171.6px;background:conic-gradient(#4435d0 0deg,#4536d4 5deg,#4639da 10deg,#4538d8 15deg,#4435d2 20deg,#4639d9 25deg,#463de0 30deg,#4639da 35deg,#4435d0 40deg,#4433cd 45deg,#4433cc 50deg,#4230c4 55deg,#412dbc 60deg,#4331c7 65deg,#4435d1 70deg,#4433cd 75deg,#4331c8 80deg,#4332ca 85deg,#4433cb 90deg,#4330c5 95deg,#412ebe 100deg,#4230c3 105deg,#4332c8 110deg,#4331c8 115deg,#4331c7 120deg,#4331c8 125deg,#4331c8 130deg,#4330c5 135deg,#4230c3 140deg,#4332c9 145deg,#4435d1 150deg,#4435d1 155deg,#4535d2 160deg,#4537d6 165deg,#4538d7 170deg,#4536d4 175deg,#4434ce 180deg,#4331c6 180deg,#4535d2 185deg,#463adb 190deg,#4538d7 195deg,#4434ce 200deg,#4433cc 205deg,#4331c8 210deg,#422fc2 215deg,#412dbd 220deg,#422fc3 225deg,#4332c9 230deg,#4331c8 235deg,#4331c7 240deg,#4331c7 250deg,#4230c3 255deg,#4230c3 260deg,#4536d4 265deg,#4742e6 270deg,#484df0 275deg,#4757f7 280deg,#475cfa 285deg,#465efb 290deg,#475cfa 295deg,#4755f6 300deg,#4851f4 305deg,#484cf0 310deg,#463bdd 315deg,#4331c7 320deg,#422fc2 325deg,#422fc2 330deg,#422fc0 335deg,#422ec0 340deg,#4230c4 345deg,#4331c8 350deg,#4433cb 355deg,#4331c8 360deg)"></div>
<div style="left:1051.0px;top:798.6px;width:152.9px;height:156.0px;background:conic-gradient(#4433cd 0deg,#4433cd 10deg,#4434cf 15deg,#4435d1 20deg,#4434ce 25deg,#4332ca 30deg,#4332c9 35deg,#4331c7 40deg,#4332c9 45deg,#4433cc 50deg,#4230c4 55deg,#412dbc 60deg,#4230c3 65deg,#4332ca 70deg,#4331c7 75deg,#4230c4 80deg,#422fc1 85deg,#412dbd 90deg,#412ebe 95deg,#412ebe 100deg,#422fc2 105deg,#4331c6 110deg,#422fc3 115deg,#422ebf 120deg,#422fc2 125deg,#4230c4 130deg,#4331c6 135deg,#4332c8 140deg,#4331c6 145deg,#4230c4 150deg,#422fc1 155deg,#422ebf 160deg,#4330c4 165deg,#4332ca 170deg,#4331c6 175deg,#422fc2 180deg,#484aee 180deg,#4756f7 185deg,#4743e7 190deg,#463cdf 195deg,#463cde 200deg,#463cde 205deg,#4538d7 210deg,#4230c3 215deg,#412dbb 220deg,#422fc2 225deg,#4332c9 230deg,#4433cd 235deg,#4435d0 240deg,#4332ca 245deg,#422fc3 250deg,#4331c7 255deg,#4433cb 260deg,#4434ce 265deg,#4535d2 270deg,#4332c9 275deg,#422fc0 280deg,#4330c5 285deg,#4332c8 290deg,#4435d2 295deg,#4538d8 300deg,#4537d6 305deg,#4536d4 310deg,#4434cf 315deg,#4332ca 320deg,#4230c3 325deg,#412dbd 330deg,#422fc0 335deg,#4230c3 340deg,#4332c9 345deg,#4434ce 350deg,#4434ce 360deg)"></div>
<div style="left:1058.6px;top:806.4px;width:137.6px;height:140.4px;background:conic-gradient(#422ebf 0deg,#4330c5 5deg,#4332ca 10deg,#4332ca 20deg,#4433cc 25deg,#4434ce 30deg,#4331c6 35deg,#412ebd 40deg,#412ebe 45deg,#422ebf 50deg,#412ebe 55deg,#412dbc 60deg,#412ebd 65deg,#422ebe 70deg,#4330c5 75deg,#4433cb 80deg,#4230c4 85deg,#412dbc 90deg,#422fc1 95deg,#4331c6 100deg,#422fc2 105deg,#422ebe 110deg,#422ebf 115deg,#422fc0 120deg,#422fc2 125deg,#4230c4 130deg,#4332c9 135deg,#4434ce 140deg,#4433cb 145deg,#4332c8 150deg,#422fc1 155deg,#412cb9 160deg,#412dbd 165deg,#422fc0 170deg,#422ebe 175deg,#412dbd 180deg,#8acb52 180deg,#f7f41c 185deg,#48cb86 190deg,#04b6cd 195deg,#09b4d1 200deg,#15afd9 205deg,#2d88f6 210deg,#4744e8 215deg,#4434ce 220deg,#4433cd 225deg,#4433cc 230deg,#4434ce 235deg,#4435d0 240deg,#4434cf 245deg,#4433cd 250deg,#4331c6 255deg,#422ebf 260deg,#4331c7 265deg,#4434ce 270deg,#4332ca 275deg,#4330c5 280deg,#4332c8 285deg,#4433cc 290deg,#4332c9 295deg,#4331c7 300deg,#4330c5 305deg,#4230c4 310deg,#4230c3 315deg,#422fc2 320deg,#4230c3 325deg,#4230c4 330deg,#422fc2 335deg,#422fc1 340deg,#422ebe 345deg,#412dbc 350deg,#412ebd 355deg,#412dbc 360deg)"></div>
<div style="left:1066.2px;top:814.2px;width:122.3px;height:124.8px;background:#fff"></div>
<div style="left:62.0px;top:1318.4px;width:274.3px;height:275.2px;background:conic-gradient(#3c71ff 0deg,#3d71ff 5deg,#3e70ff 10deg,#3e6fff 15deg,#3f6efe 20deg,#4368fe 25deg,#4563fc 30deg,#4660fb 35deg,#475cfa 40deg,#4759f8 45deg,#4756f7 50deg,#4851f3 55deg,#484bef 60deg,#4848ec 65deg,#4744e9 70deg,#4742e6 75deg,#473fe3 80deg,#463de0 85deg,#463bdd 90deg,#463bdd 95deg,#463cdf 100deg,#463ee1 105deg,#4740e3 110deg,#473fe2 115deg,#473fe2 120deg,#4744e8 125deg,#4849ed 130deg,#484df0 135deg,#4851f4 140deg,#4757f7 145deg,#465dfa 150deg,#4561fc 155deg,#4464fd 160deg,#4367fd 165deg,#4269fe 170deg,#3f6fff 175deg,#3974fe 180deg,#3974fe 180deg,#347afd 185deg,#317efb 190deg,#2f81fa 195deg,#2e83f9 200deg,#2e83f9 210deg,#2f80fa 215deg,#317dfc 220deg,#317efb 225deg,#317efb 230deg,#317dfc 235deg,#327cfc 240deg,#3579fd 245deg,#3875fe 250deg,#3975fe 255deg,#3a74fe 260deg,#3e70ff 265deg,#416cfe 270deg,#416cfe 280deg,#4465fd 285deg,#465ffb 290deg,#4562fc 295deg,#4465fd 300deg,#4562fc 305deg,#4660fc 310deg,#4563fd 315deg,#4367fd 320deg,#4367fd 325deg,#4368fe 330deg,#416cfe 335deg,#3e6fff 340deg,#3b73fe 345deg,#3876fe 350deg,#3a74fe 355deg,#3677fe 360deg)"></div>
<div style="left:69.7px;top:1326.0px;width:259.1px;height:259.9px;background:conic-gradient(#2798ea 0deg,#2798ea 5deg,#2896eb 10deg,#2c8ef1 15deg,#2e85f8 20deg,#2f80fa 25deg,#337afd 30deg,#3d71ff 35deg,#4367fd 40deg,#4660fc 45deg,#475af9 50deg,#4853f5 55deg,#484cf0 60deg,#4849ed 65deg,#4747eb 70deg,#4743e7 75deg,#4740e3 80deg,#463ee1 85deg,#463ddf 90deg,#463adc 95deg,#4639d9 100deg,#463ada 105deg,#463bdd 110deg,#463ee1 115deg,#4742e6 120deg,#4744e8 125deg,#4747eb 130deg,#484ff1 135deg,#4757f7 140deg,#475cfa 145deg,#4562fc 150deg,#4466fd 155deg,#426afe 160deg,#3c71ff 165deg,#3578fd 170deg,#317efb 175deg,#2e84f9 180deg,#2e84f9 180deg,#2d89f5 185deg,#2c8ef1 190deg,#2c90f0 195deg,#2b91ef 200deg,#2c8ff0 205deg,#2d8df2 210deg,#2c90f0 215deg,#2b92ee 220deg,#2c90f0 225deg,#2d8df2 230deg,#2d8af5 235deg,#2e86f7 240deg,#2f80fa 245deg,#337afd 250deg,#3776fe 255deg,#3b72ff 260deg,#3f6eff 265deg,#426afe 270deg,#426afe 275deg,#416bfe 280deg,#4367fd 285deg,#4563fd 290deg,#4465fd 295deg,#4368fe 300deg,#4466fd 305deg,#4465fd 310deg,#4367fd 315deg,#416bfe 320deg,#3b72ff 325deg,#337bfd 330deg,#307ffb 335deg,#2e83f9 340deg,#2d89f6 345deg,#2d8df2 350deg,#2a93ed 355deg,#2b92ef 360deg)"></div>
<div style="left:77.3px;top:1333.7px;width:243.8px;height:244.6px;background:conic-gradient(#04bbc2 0deg,#11beba 5deg,#11beb9 10deg,#02bac5 15deg,#10b2d5 20deg,#21a3e3 25deg,#2b92ee 30deg,#2f81fa 35deg,#3e70ff 40deg,#4563fc 45deg,#4758f8 50deg,#4853f4 55deg,#484ef1 60deg,#4848ec 65deg,#4742e6 70deg,#463de0 75deg,#4639d9 80deg,#4537d6 85deg,#4536d3 90deg,#4435d1 95deg,#4435d2 100deg,#4435d0 105deg,#4435d1 110deg,#4537d6 115deg,#463bdc 120deg,#4741e5 125deg,#484aed 130deg,#4850f2 135deg,#4757f7 140deg,#475cfa 145deg,#4562fc 150deg,#426afe 155deg,#3c71ff 160deg,#3578fd 165deg,#307ffb 170deg,#2e87f7 175deg,#2c8ef1 180deg,#2c8ef1 180deg,#2895ec 185deg,#259be8 190deg,#269ae8 195deg,#2798ea 200deg,#2699e9 205deg,#2698ea 210deg,#2895ec 215deg,#2b91ef 220deg,#2b90ef 225deg,#2c8ff0 230deg,#2d88f6 235deg,#2f80fa 240deg,#317efb 245deg,#327cfc 250deg,#3876fe 255deg,#3e6fff 260deg,#426afe 265deg,#4466fd 270deg,#4562fc 275deg,#465ffb 280deg,#465dfa 285deg,#475cfa 290deg,#465ffb 295deg,#4563fd 300deg,#4466fd 305deg,#416bfe 310deg,#3d70ff 315deg,#3678fe 320deg,#307ffb 325deg,#2e87f7 330deg,#2b92ee 335deg,#249de6 340deg,#1da9e0 345deg,#0fb2d5 350deg,#01b8ca 355deg,#05bbc1 360deg)"></div>
<div style="left:84.9px;top:1341.3px;width:228.6px;height:229.4px;background:conic-gradient(#e6bb2d 0deg,#febe3c 5deg,#febf3c 10deg,#dbbd29 15deg,#84cb56 20deg,#36c899 25deg,#01b9c7 30deg,#22a2e4 35deg,#2d8af5 40deg,#3677fe 45deg,#4368fd 50deg,#475af9 55deg,#4850f2 60deg,#4848ec 65deg,#4741e5 70deg,#463adb 75deg,#4435d1 80deg,#4433cc 85deg,#4332ca 90deg,#4330c5 95deg,#422fc2 100deg,#4331c8 105deg,#4434cf 110deg,#4537d6 115deg,#463bdd 120deg,#473fe2 125deg,#4744e8 130deg,#484aee 135deg,#4851f3 140deg,#475bf9 145deg,#4465fd 150deg,#3f6eff 155deg,#3678fe 160deg,#2f81fa 165deg,#2d89f5 170deg,#2d8df2 175deg,#2b90f0 180deg,#2b90f0 180deg,#2895ec 185deg,#2798ea 190deg,#269ae8 195deg,#259ce7 200deg,#259be8 205deg,#269ae9 210deg,#2797eb 215deg,#2a93ee 220deg,#2c8ff0 225deg,#2d8bf4 230deg,#2d88f6 235deg,#2e84f8 240deg,#317efb 245deg,#3777fe 250deg,#3a73fe 255deg,#3d70ff 260deg,#4368fe 265deg,#4562fc 270deg,#465efb 275deg,#475bf9 280deg,#475cfa 285deg,#465ffb 290deg,#465dfa 295deg,#475cfa 300deg,#4561fc 305deg,#426afe 310deg,#3777fe 315deg,#2e86f7 320deg,#2a93ed 325deg,#22a2e4 330deg,#07b5d0 335deg,#26c2ac 340deg,#49cb85 345deg,#8acb52 350deg,#c2c22c 355deg,#f8ba3d 360deg)"></div>
<div style="left:92.5px;top:1349.0px;width:213.4px;height:214.1px;background:conic-gradient(#f7f51b 0deg,#f8f61a 5deg,#f8f719 10deg,#f9fa16 15deg,#fdcd31 20deg,#b9c431 25deg,#3dc990 30deg,#01b7ca 35deg,#249fe5 40deg,#2e84f9 45deg,#416bfe 50deg,#4759f8 55deg,#484bef 60deg,#4745e9 65deg,#4740e3 70deg,#4539d9 75deg,#4434ce 80deg,#4332cb 85deg,#4332c9 90deg,#4331c7 95deg,#4331c7 100deg,#4230c4 105deg,#422fc3 110deg,#4433cd 115deg,#4538d8 120deg,#463bdd 125deg,#473fe2 130deg,#4745e9 135deg,#484cf0 140deg,#4853f5 145deg,#475bf9 150deg,#4564fd 155deg,#406dfe 160deg,#3a73fe 165deg,#347afd 170deg,#2f82fa 175deg,#2d89f5 180deg,#2d89f5 180deg,#2d8cf3 185deg,#2c8ff1 190deg,#2c90f0 195deg,#2b90f0 200deg,#2b91ef 205deg,#2b91ef 215deg,#2c90f0 220deg,#2d8af4 225deg,#2e84f8 230deg,#307ffb 235deg,#3579fd 240deg,#3a74fe 245deg,#3e6fff 250deg,#4269fe 255deg,#4464fd 260deg,#4564fd 265deg,#4464fd 270deg,#4661fc 275deg,#465efb 280deg,#475bf9 285deg,#4759f8 290deg,#475cfa 295deg,#4660fc 300deg,#4367fd 305deg,#3c72ff 310deg,#307ffb 315deg,#2c90f0 320deg,#23a1e5 325deg,#0eb2d4 330deg,#1fc0b1 335deg,#50cc7f 340deg,#afc637 345deg,#fcbc3d 350deg,#f5e327 355deg,#f9fb15 360deg)"></div>
<div style="left:100.1px;top:1356.6px;width:198.1px;height:198.8px;background:conic-gradient(#fbd32e 0deg,#f7dd2a 5deg,#fad42e 10deg,#fbbc3d 15deg,#b9c431 20deg,#50cc7f 25deg,#0ebebb 30deg,#1da9e0 35deg,#2b91ef 40deg,#347afd 45deg,#4466fd 50deg,#4756f6 55deg,#4849ec 60deg,#4741e4 65deg,#463bdc 70deg,#4538d7 75deg,#4536d4 80deg,#4433cd 85deg,#4331c7 90deg,#422fc2 95deg,#422ebf 100deg,#422fc2 105deg,#4331c7 110deg,#4332c9 115deg,#4433cb 120deg,#4536d3 125deg,#463ada 130deg,#473fe3 135deg,#4746ea 140deg,#484cf0 145deg,#4853f5 150deg,#4756f7 155deg,#4759f8 160deg,#4661fc 165deg,#4368fe 170deg,#3e70ff 175deg,#3777fe 180deg,#3777fe 180deg,#347afd 185deg,#327bfc 190deg,#307ffb 195deg,#2e83f9 200deg,#317efb 205deg,#3579fd 210deg,#327cfc 215deg,#317efb 220deg,#337bfd 225deg,#3777fe 230deg,#3e6fff 235deg,#4367fd 240deg,#4466fd 245deg,#4465fd 250deg,#4564fd 255deg,#4562fc 260deg,#465efb 265deg,#475bf9 270deg,#475cfa 275deg,#465ffb 280deg,#4561fc 285deg,#4465fd 290deg,#4269fe 295deg,#3f6fff 300deg,#3974fe 305deg,#327cfc 310deg,#2e86f7 315deg,#2b92ef 320deg,#21a3e3 325deg,#09b4d1 330deg,#13beb9 335deg,#35c79a 340deg,#72cd64 345deg,#c1c32c 350deg,#f8ba3d 355deg,#fdce31 360deg)"></div>
<div style="left:107.8px;top:1364.3px;width:182.9px;height:183.5px;background:conic-gradient(#40ca8d 0deg,#3eca8f 5deg,#35c79a 10deg,#28c2ab 15deg,#06bcc0 20deg,#17aeda 25deg,#259be8 30deg,#2d88f6 35deg,#3876fe 40deg,#4466fd 45deg,#4759f8 50deg,#484ff2 55deg,#4746ea 60deg,#473fe2 65deg,#4639da 70deg,#4435d1 75deg,#4332c9 80deg,#4331c7 85deg,#4331c6 90deg,#422fc2 95deg,#422ec0 100deg,#412dbd 105deg,#412dbc 110deg,#422fc1 115deg,#4331c6 120deg,#4433cb 125deg,#4435d1 130deg,#4538d8 135deg,#463cdf 140deg,#473fe3 145deg,#4742e6 150deg,#4849ed 155deg,#4850f3 160deg,#4853f5 165deg,#4756f7 170deg,#4759f8 175deg,#475bf9 180deg,#475bf9 180deg,#4660fb 185deg,#4564fd 190deg,#4563fc 195deg,#4561fc 200deg,#4563fc 205deg,#4564fd 210deg,#4465fd 215deg,#4465fd 220deg,#4562fc 225deg,#465ffb 230deg,#465efb 235deg,#465dfa 240deg,#475bf9 245deg,#4759f8 250deg,#475cfa 255deg,#4660fb 260deg,#4661fc 265deg,#4563fc 270deg,#4465fd 275deg,#4369fe 280deg,#3e70ff 285deg,#3678fe 290deg,#2f81fa 295deg,#2d8af4 300deg,#2b92ee 305deg,#269ae9 310deg,#22a1e4 315deg,#1ca9df 320deg,#15afd9 325deg,#08b4d0 330deg,#05bbc1 335deg,#22c1af 340deg,#31c6a0 345deg,#3dc990 350deg,#42ca8b 355deg,#52cc7e 360deg)"></div>
<div style="left:115.4px;top:1371.9px;width:167.6px;height:168.2px;background:conic-gradient(#04b6cd 0deg,#15afd9 5deg,#1fa6e2 10deg,#269be8 15deg,#2c8ef1 20deg,#2e86f7 25deg,#317efb 30deg,#3d70ff 35deg,#4564fd 40deg,#4756f6 45deg,#4849ed 50deg,#4744e8 55deg,#473fe3 60deg,#463adc 65deg,#4537d5 70deg,#4433cc 75deg,#4230c4 80deg,#422fc1 85deg,#422ebf 90deg,#422ebf 100deg,#412ebe 105deg,#412ebd 110deg,#422ebf 115deg,#422fc2 120deg,#4331c6 125deg,#4332ca 130deg,#4435d0 135deg,#4537d6 140deg,#4639da 145deg,#463cde 150deg,#473ee1 155deg,#4741e5 160deg,#4744e8 165deg,#4746eb 170deg,#484bef 175deg,#484ff2 180deg,#484ff2 180deg,#4850f2 185deg,#4850f2 190deg,#4852f4 195deg,#4854f5 200deg,#4854f6 205deg,#4755f6 210deg,#4854f5 215deg,#4853f5 220deg,#4850f2 225deg,#484cf0 230deg,#4850f2 235deg,#4854f5 240deg,#4851f3 245deg,#4850f2 250deg,#4755f6 255deg,#475cfa 260deg,#4562fc 265deg,#416bfe 270deg,#3a74fe 275deg,#317efb 280deg,#2d88f6 285deg,#2b92ee 290deg,#259be8 295deg,#21a3e3 300deg,#1aabde 305deg,#11b1d6 310deg,#01b8ca 315deg,#08bcbf 320deg,#0abdbd 325deg,#09bcbe 330deg,#0dbdbb 335deg,#10beba 340deg,#07bcbf 345deg,#01b9c6 350deg,#01b8c8 355deg,#0db3d3 360deg)"></div>
<div style="left:123.0px;top:1379.5px;width:152.4px;height:152.9px;background:conic-gradient(#2699e9 0deg,#2b91ef 5deg,#2d89f5 10deg,#337bfc 15deg,#406cfe 20deg,#4465fd 25deg,#465efb 30deg,#4755f6 35deg,#484cf0 40deg,#4848ec 45deg,#4745e9 50deg,#463ee1 55deg,#4538d8 60deg,#4536d4 65deg,#4435d1 70deg,#4331c8 75deg,#422ebf 80deg,#412dbd 85deg,#412dbd 90deg,#412dbc 95deg,#412dbc 100deg,#412cb9 105deg,#402bb7 110deg,#412dbc 115deg,#422fc2 120deg,#4332c9 125deg,#4435d0 130deg,#4536d2 135deg,#4536d4 140deg,#4538d8 145deg,#463ada 150deg,#463bde 155deg,#463de0 160deg,#4741e5 165deg,#4744e9 170deg,#4744e8 175deg,#4743e7 180deg,#4743e7 180deg,#4745ea 185deg,#4848ec 190deg,#4848ec 200deg,#4849ed 205deg,#4849ed 210deg,#4747eb 215deg,#4745e9 220deg,#4747eb 225deg,#4849ed 230deg,#484aee 235deg,#484bef 240deg,#484aee 245deg,#484aee 250deg,#484ef1 255deg,#4852f4 260deg,#475af9 265deg,#4465fd 270deg,#406dfe 275deg,#3777fe 280deg,#2f81fa 285deg,#2d8bf4 290deg,#2994ed 295deg,#259ce7 300deg,#1ea7e1 305deg,#13b0d7 310deg,#0fb2d4 315deg,#0eb2d4 320deg,#0bb3d2 325deg,#0cb3d3 330deg,#13b0d7 335deg,#1aacdd 340deg,#1da9e0 345deg,#20a5e2 350deg,#249fe5 355deg,#2797eb 360deg)"></div>
<div style="left:130.6px;top:1387.2px;width:137.2px;height:137.6px;background:conic-gradient(#4368fe 0deg,#4464fd 5deg,#4660fc 10deg,#475cfa 15deg,#4757f7 20deg,#4850f2 25deg,#4848ec 30deg,#4746ea 35deg,#4743e7 40deg,#473fe2 45deg,#463bdd 50deg,#4538d7 55deg,#4435d1 60deg,#4332c8 65deg,#422ec0 70deg,#412dbb 75deg,#402bb7 80deg,#402bb6 85deg,#402bb6 90deg,#402bb7 95deg,#412cb9 100deg,#402bb7 105deg,#402bb7 110deg,#412dbb 115deg,#422fc0 120deg,#4230c3 125deg,#4331c7 130deg,#4434cf 135deg,#4537d6 140deg,#463adb 145deg,#463cdf 150deg,#463cdf 160deg,#4740e4 165deg,#4744e8 170deg,#4741e5 175deg,#473fe2 180deg,#473fe2 180deg,#4743e7 185deg,#4746ea 190deg,#4747eb 195deg,#4747eb 200deg,#4745e9 205deg,#4742e6 210deg,#4744e8 215deg,#4745e9 220deg,#4744e8 225deg,#4743e7 230deg,#4745e9 235deg,#4746ea 240deg,#4744e8 245deg,#4742e6 250deg,#4744e8 255deg,#4848ec 260deg,#484cef 265deg,#4851f3 270deg,#4755f6 275deg,#4759f8 280deg,#465efb 285deg,#4563fc 290deg,#4368fe 295deg,#406dfe 300deg,#3677fe 305deg,#2f80fa 310deg,#2f81fa 315deg,#2f80fa 320deg,#2e83f9 325deg,#2e85f8 330deg,#307ffb 335deg,#3777fe 340deg,#3776fe 345deg,#3875fe 350deg,#3e6fff 355deg,#416bfe 360deg)"></div>
<div style="left:138.2px;top:1394.8px;width:121.9px;height:122.3px;background:#fff"></div>
<div style="left:525.3px;top:1319.2px;width:275.4px;height:273.6px;background:conic-gradient(#2a93ee 0deg,#63cd70 5deg,#f5e526 10deg,#fdcc32 15deg,#37c897 20deg,#2c8ff0 25deg,#4465fd 30deg,#4660fc 35deg,#4661fc 40deg,#4755f6 45deg,#4849ed 50deg,#484aee 55deg,#484bee 60deg,#4741e5 65deg,#4639da 70deg,#463bdd 75deg,#463de0 80deg,#463de0 90deg,#4743e7 95deg,#4849ed 100deg,#4742e6 105deg,#463bde 110deg,#473fe2 115deg,#4742e6 120deg,#4745e9 125deg,#4747eb 130deg,#484cef 135deg,#4850f3 140deg,#4851f3 145deg,#4852f4 150deg,#475bf9 155deg,#4564fd 160deg,#4465fd 165deg,#4466fd 170deg,#4367fd 175deg,#4368fe 180deg,#4368fe 180deg,#4465fd 185deg,#4561fc 190deg,#4562fc 195deg,#4563fc 200deg,#465efb 205deg,#475af9 210deg,#4854f5 215deg,#484ef1 220deg,#484bef 225deg,#484aee 230deg,#484ff2 235deg,#465efb 240deg,#2e84f9 245deg,#1da8e0 250deg,#13b1d7 255deg,#22a2e4 260deg,#3579fd 265deg,#4850f3 270deg,#4741e5 275deg,#463de0 280deg,#4639da 285deg,#4537d6 290deg,#463cde 295deg,#4741e5 300deg,#4741e5 310deg,#4744e8 315deg,#4848ec 320deg,#4848ec 325deg,#4849ed 330deg,#484aee 335deg,#484bee 340deg,#484bef 345deg,#484aee 350deg,#4849ed 355deg,#4747eb 360deg)"></div>
<div style="left:533.0px;top:1326.8px;width:260.1px;height:258.4px;background:conic-gradient(#22a2e4 0deg,#01b9c7 5deg,#2ec5a4 10deg,#30c5a1 15deg,#08bcbf 20deg,#02bac3 25deg,#0abdbd 30deg,#02bac4 35deg,#05b6ce 40deg,#21a2e4 45deg,#2e86f7 50deg,#3578fd 55deg,#4269fe 60deg,#4756f7 65deg,#484aed 70deg,#473ee1 75deg,#4537d6 80deg,#463bdd 85deg,#4740e4 90deg,#4741e5 95deg,#4743e7 100deg,#4742e6 105deg,#4742e6 110deg,#4741e5 115deg,#4741e5 120deg,#484aee 125deg,#4853f5 130deg,#4853f5 140deg,#4851f3 145deg,#484ff2 150deg,#4757f7 155deg,#465efb 160deg,#4562fc 165deg,#4465fd 170deg,#4660fb 175deg,#475af9 180deg,#475af9 180deg,#475dfa 185deg,#465ffb 190deg,#4758f8 195deg,#4852f4 200deg,#4851f3 205deg,#4850f2 210deg,#4756f7 215deg,#475cfa 220deg,#475bf9 225deg,#475af9 230deg,#4759f8 235deg,#475bf9 240deg,#4758f8 245deg,#4755f6 250deg,#465efb 255deg,#465ffb 260deg,#4851f4 265deg,#4745ea 270deg,#473fe2 275deg,#463cde 280deg,#4743e7 285deg,#484bef 290deg,#4746ea 295deg,#4741e5 300deg,#4745e9 305deg,#484aee 310deg,#4853f5 315deg,#475cfa 320deg,#465ffb 325deg,#4661fc 330deg,#4367fd 335deg,#416bfe 340deg,#406dfe 345deg,#406dfe 350deg,#416bfe 355deg,#4562fc 360deg)"></div>
<div style="left:540.6px;top:1334.4px;width:244.8px;height:243.2px;background:conic-gradient(#23a0e5 0deg,#06b5cf 5deg,#24c1ae 10deg,#2ec5a4 15deg,#30c5a1 20deg,#3dca90 25deg,#4fcc81 30deg,#41ca8c 35deg,#31c6a0 40deg,#12beb9 45deg,#16afd9 50deg,#2698ea 55deg,#317efb 60deg,#475dfa 65deg,#4747eb 70deg,#4747eb 75deg,#484bef 80deg,#4747eb 85deg,#4745e9 90deg,#473fe3 95deg,#463bdc 100deg,#473fe3 105deg,#4745e9 110deg,#4742e6 115deg,#473fe3 120deg,#4741e5 125deg,#4743e7 130deg,#4848ec 135deg,#484cf0 140deg,#4852f4 145deg,#4758f8 150deg,#4853f5 155deg,#484df1 160deg,#4759f8 165deg,#4464fd 170deg,#465dfb 175deg,#4756f7 180deg,#4756f7 180deg,#4755f6 185deg,#4854f5 190deg,#4757f7 195deg,#475af9 200deg,#465efb 205deg,#4561fc 210deg,#4759f8 215deg,#4852f4 220deg,#4851f3 225deg,#4850f3 230deg,#4853f5 235deg,#4756f6 240deg,#484ff1 245deg,#4848ec 250deg,#4744e8 255deg,#4740e4 260deg,#463ee1 265deg,#463bde 270deg,#473fe2 275deg,#4743e7 280deg,#4745ea 285deg,#484aed 290deg,#484ef1 295deg,#4853f5 300deg,#4756f6 305deg,#4759f8 310deg,#465ffb 315deg,#4466fd 320deg,#327dfc 325deg,#2b90f0 330deg,#2b91ef 335deg,#2c8ef1 340deg,#2c8ff1 345deg,#2d8df2 350deg,#317dfc 355deg,#317dfb 360deg)"></div>
<div style="left:548.2px;top:1342.0px;width:229.5px;height:228.0px;background:conic-gradient(#317efb 0deg,#2c8ef1 5deg,#269ae8 10deg,#1ea7e1 15deg,#14b0d8 20deg,#19acdc 25deg,#1ea7e1 30deg,#18addb 35deg,#14b0d8 40deg,#1babde 45deg,#23a0e5 50deg,#2d8af5 55deg,#3c72ff 60deg,#465ffb 65deg,#4854f5 70deg,#4745ea 75deg,#463bdd 80deg,#4639da 85deg,#4539d8 90deg,#4538d7 95deg,#4538d7 100deg,#4741e4 105deg,#484bee 110deg,#4743e7 115deg,#463bde 120deg,#463ee1 125deg,#4740e4 130deg,#4848ec 135deg,#4851f3 140deg,#4756f7 145deg,#475bf9 150deg,#4759f8 155deg,#4756f6 160deg,#4852f4 165deg,#484ef1 170deg,#484ef1 175deg,#484ff1 180deg,#484ff1 180deg,#4758f8 185deg,#4561fc 190deg,#465ffb 195deg,#475dfa 200deg,#4757f7 205deg,#4852f4 210deg,#4759f8 215deg,#4660fb 220deg,#4757f7 225deg,#484ef1 230deg,#484aee 235deg,#4747eb 240deg,#484df0 245deg,#4852f4 250deg,#4746ea 255deg,#463bdd 260deg,#463cdf 265deg,#473fe2 270deg,#463cdf 275deg,#463bdd 280deg,#4741e5 285deg,#4848ec 290deg,#484aee 295deg,#484df1 300deg,#4851f3 305deg,#4755f6 310deg,#4661fc 315deg,#3f6efe 320deg,#3f6eff 325deg,#406cfe 330deg,#317dfc 335deg,#2d8bf4 340deg,#2e87f7 345deg,#2f80fa 350deg,#3e6fff 355deg,#3c72ff 360deg)"></div>
<div style="left:555.9px;top:1349.6px;width:214.2px;height:212.8px;background:conic-gradient(#4564fd 0deg,#4561fc 5deg,#465dfb 10deg,#4561fc 15deg,#4564fd 20deg,#4562fc 25deg,#465ffb 30deg,#465dfa 35deg,#475af9 40deg,#475af9 45deg,#4757f8 50deg,#4850f3 55deg,#4849ed 60deg,#4849ed 65deg,#484aee 70deg,#4743e7 75deg,#463de0 80deg,#463de0 85deg,#473ee1 90deg,#463adb 95deg,#4536d4 100deg,#4539d9 105deg,#463bdd 110deg,#463de0 115deg,#473fe3 120deg,#4740e4 125deg,#4741e5 130deg,#4848ec 135deg,#4850f3 140deg,#484ef1 145deg,#484cef 150deg,#484aee 155deg,#4848ec 160deg,#484ef1 165deg,#4854f5 170deg,#4850f3 175deg,#484cf0 180deg,#484cf0 180deg,#484df0 185deg,#484df1 190deg,#4852f4 195deg,#4757f7 200deg,#4851f3 205deg,#484cef 210deg,#4755f6 215deg,#465ffb 220deg,#465efb 225deg,#475bfa 230deg,#4757f7 235deg,#484ff2 240deg,#4852f4 245deg,#4853f5 250deg,#4851f3 255deg,#4850f2 260deg,#484aee 265deg,#4746ea 270deg,#4746ea 275deg,#4747eb 280deg,#4848ec 285deg,#484aee 290deg,#4745e9 295deg,#4741e5 300deg,#4746ea 305deg,#484cef 310deg,#4853f5 315deg,#475af9 320deg,#4759f9 325deg,#4758f8 330deg,#4561fc 335deg,#4269fe 340deg,#4562fc 345deg,#475af9 350deg,#475cfa 355deg,#4755f6 360deg)"></div>
<div style="left:563.5px;top:1357.2px;width:198.9px;height:197.6px;background:conic-gradient(#4848ec 0deg,#4851f3 5deg,#4759f8 10deg,#4853f5 15deg,#484cef 20deg,#4851f4 25deg,#4756f7 30deg,#484cef 35deg,#4741e5 40deg,#4745e9 45deg,#4848ec 50deg,#4745e9 55deg,#4742e6 60deg,#4742e6 65deg,#4743e7 70deg,#4740e4 75deg,#463ee1 80deg,#4741e5 85deg,#4744e9 90deg,#4742e6 95deg,#473fe3 100deg,#463bdc 105deg,#4537d5 110deg,#463de0 115deg,#4744e8 120deg,#4744e9 125deg,#4745e9 130deg,#4742e6 135deg,#4740e3 140deg,#4746ea 145deg,#484cf0 150deg,#484ef1 155deg,#4851f3 160deg,#484bef 165deg,#4746ea 170deg,#4745ea 175deg,#4745e9 180deg,#4745e9 180deg,#4746eb 185deg,#4848ec 190deg,#484cf0 195deg,#4850f3 200deg,#4850f3 205deg,#4852f4 210deg,#4852f4 215deg,#4854f5 220deg,#465ffb 225deg,#426afe 230deg,#406dfe 235deg,#426afe 240deg,#4562fc 245deg,#4759f8 250deg,#484ef1 255deg,#4746ea 260deg,#4746ea 265deg,#4848ec 270deg,#4745e9 275deg,#4743e7 280deg,#473fe2 285deg,#463bdd 290deg,#463ddf 295deg,#473fe2 300deg,#4746ea 305deg,#484ef1 310deg,#4848ec 315deg,#4743e7 320deg,#4747eb 325deg,#484bef 330deg,#484bee 335deg,#484aee 340deg,#484ef1 345deg,#4851f3 350deg,#484df0 355deg,#4850f2 360deg)"></div>
<div style="left:571.2px;top:1364.8px;width:183.6px;height:182.4px;background:conic-gradient(#463cdf 0deg,#4743e7 5deg,#4849ed 10deg,#4747eb 15deg,#4745e9 20deg,#4747eb 25deg,#4849ed 30deg,#4745e9 35deg,#4741e5 40deg,#4741e5 50deg,#463ddf 55deg,#4539d9 60deg,#463adc 65deg,#463cdf 70deg,#463bdd 75deg,#463adc 80deg,#463bdd 85deg,#463bdd 90deg,#4538d7 95deg,#4435d1 100deg,#463cde 105deg,#4743e8 110deg,#463de0 115deg,#4537d6 120deg,#463bdc 125deg,#463ee1 130deg,#4743e7 135deg,#4849ec 140deg,#4745e9 145deg,#4741e5 150deg,#4746ea 155deg,#484aee 160deg,#4744e8 165deg,#473ee2 170deg,#4741e5 175deg,#4743e7 180deg,#4743e7 195deg,#4744e8 200deg,#4746eb 205deg,#484bee 210deg,#4851f3 215deg,#4759f8 220deg,#4366fd 225deg,#3b73fe 230deg,#3777fe 235deg,#3975fe 240deg,#4561fc 245deg,#484ef1 250deg,#484cef 255deg,#484bef 260deg,#4745ea 265deg,#4741e5 270deg,#463ee1 275deg,#463cde 280deg,#4538d8 285deg,#4435d1 290deg,#4538d7 295deg,#463bdc 300deg,#463adc 305deg,#463adc 310deg,#463bdd 315deg,#463cdf 320deg,#473fe3 325deg,#4742e6 330deg,#4740e4 335deg,#473ee1 340deg,#463ee1 345deg,#463de0 350deg,#463de0 360deg)"></div>
<div style="left:578.9px;top:1372.4px;width:168.3px;height:167.2px;background:conic-gradient(#463bdd 0deg,#463cdf 5deg,#463ee1 10deg,#4538d8 15deg,#4433cd 20deg,#4536d4 25deg,#463adb 30deg,#4538d8 35deg,#4537d6 40deg,#4535d2 45deg,#4434cf 50deg,#4435d0 55deg,#4435d2 60deg,#4536d4 65deg,#4537d6 70deg,#4539d8 75deg,#463adb 80deg,#4537d6 85deg,#4435d0 90deg,#4539d9 95deg,#463de0 100deg,#4740e3 105deg,#4742e7 110deg,#4741e5 115deg,#473fe3 120deg,#463adb 125deg,#4435d1 130deg,#463adb 135deg,#4740e3 140deg,#4740e3 150deg,#463adc 155deg,#4435d2 160deg,#4539d8 165deg,#463cde 170deg,#473fe2 175deg,#4742e6 180deg,#4742e6 180deg,#4745e9 185deg,#4848ec 190deg,#4849ed 195deg,#484aee 200deg,#4848ec 205deg,#4747eb 210deg,#484bef 215deg,#4850f3 220deg,#4759f8 225deg,#4561fc 230deg,#475af9 235deg,#484ff2 240deg,#484ff1 245deg,#484df0 250deg,#4743e7 255deg,#463adc 260deg,#473fe2 265deg,#4744e8 270deg,#4741e5 275deg,#473fe2 280deg,#463adb 285deg,#4536d4 290deg,#4536d3 295deg,#4536d3 300deg,#4538d8 305deg,#463bdd 310deg,#463de0 315deg,#473fe3 320deg,#463adb 325deg,#4435d1 330deg,#4536d4 335deg,#4538d7 340deg,#463ada 345deg,#463bdd 350deg,#463bdd 360deg)"></div>
<div style="left:586.5px;top:1380.0px;width:153.0px;height:152.0px;background:conic-gradient(#473fe2 0deg,#473fe3 5deg,#4740e3 10deg,#463cde 15deg,#4539d8 20deg,#4536d5 25deg,#4435d0 30deg,#4538d8 35deg,#463ddf 40deg,#4538d8 45deg,#4434cf 50deg,#4539d9 55deg,#473ee1 60deg,#4538d7 65deg,#4433cb 70deg,#4536d3 75deg,#463ada 80deg,#463adb 85deg,#463adb 90deg,#4537d6 95deg,#4435d0 100deg,#4537d6 105deg,#463adc 110deg,#463bdc 115deg,#463bdd 120deg,#463adb 125deg,#4539d9 130deg,#463ee1 135deg,#4743e7 140deg,#4743e7 145deg,#4742e6 150deg,#4743e7 155deg,#4743e7 160deg,#463de0 165deg,#4537d7 170deg,#4536d3 175deg,#4434cf 180deg,#4434cf 180deg,#4537d6 185deg,#463adb 190deg,#4538d8 195deg,#4537d5 200deg,#463cdf 205deg,#4743e7 210deg,#4740e4 215deg,#463ee1 220deg,#463ee1 225deg,#463ee0 230deg,#473fe3 235deg,#4740e4 240deg,#4740e4 245deg,#4740e3 250deg,#4741e5 255deg,#4743e7 260deg,#473fe2 265deg,#463bdd 270deg,#4639da 275deg,#4538d7 280deg,#463bdc 285deg,#463ee1 290deg,#4538d8 295deg,#4433cd 300deg,#4434d0 305deg,#4536d3 310deg,#463ada 315deg,#463ee1 320deg,#473ee2 325deg,#473fe2 330deg,#4639da 335deg,#4434cf 340deg,#4434ce 345deg,#4434cd 350deg,#4539d9 355deg,#4434cd 360deg)"></div>
<div style="left:594.1px;top:1387.6px;width:137.7px;height:136.8px;background:conic-gradient(#463ee0 0deg,#473fe2 5deg,#4740e3 10deg,#463de0 15deg,#463bdc 20deg,#463bdc 30deg,#463ada 35deg,#4539d8 40deg,#463ee1 45deg,#4744e8 50deg,#463de0 55deg,#4537d5 60deg,#4536d3 65deg,#4435d0 70deg,#4536d2 75deg,#4536d4 80deg,#4536d4 90deg,#4537d6 95deg,#4538d7 100deg,#4537d6 105deg,#4537d5 110deg,#4535d2 115deg,#4434cf 120deg,#4536d3 125deg,#4538d7 130deg,#4538d7 135deg,#4537d7 140deg,#463adb 145deg,#463cde 150deg,#4539d9 155deg,#4536d3 160deg,#4435d1 165deg,#4434cf 170deg,#4435d1 175deg,#4536d4 180deg,#4536d4 180deg,#4539d9 185deg,#463cde 190deg,#463bdc 195deg,#4639da 200deg,#463ddf 205deg,#4740e4 210deg,#4741e5 215deg,#4742e7 220deg,#473fe2 225deg,#463cde 230deg,#4639d9 235deg,#4536d4 240deg,#463bdd 245deg,#4741e5 250deg,#4741e4 255deg,#4740e4 260deg,#463ddf 265deg,#4639da 270deg,#463bdd 275deg,#463de0 280deg,#463adb 285deg,#4537d6 290deg,#463cdf 295deg,#4742e6 300deg,#4741e5 305deg,#4740e4 310deg,#4740e4 315deg,#4740e3 320deg,#4741e5 325deg,#4743e7 330deg,#463cde 335deg,#4536d3 340deg,#4538d8 345deg,#463bdd 350deg,#463cdf 355deg,#463bdd 360deg)"></div>
<div style="left:601.8px;top:1395.2px;width:122.4px;height:121.6px;background:#fff"></div>
<div style="left:989.4px;top:1318.8px;width:276.8px;height:274.3px;background:conic-gradient(#484df1 0deg,#4741e5 5deg,#484ff1 10deg,#4465fd 15deg,#3974fe 20deg,#2d8df2 25deg,#269ae8 30deg,#2797eb 35deg,#2c8ef1 40deg,#3579fd 45deg,#426afe 50deg,#2e86f7 55deg,#02bbc3 60deg,#afc637 65deg,#fcbd3d 70deg,#a3c83f 75deg,#01b9c8 80deg,#2a93ee 85deg,#317efb 90deg,#3080fa 95deg,#2e85f8 100deg,#3678fe 105deg,#426afe 110deg,#3876fe 115deg,#3080fa 120deg,#416afe 125deg,#4757f7 130deg,#4561fc 135deg,#406cfe 140deg,#426afe 145deg,#4369fe 150deg,#4466fd 155deg,#4563fc 160deg,#4562fc 165deg,#475cfa 170deg,#4852f4 175deg,#4744e8 180deg,#4747eb 180deg,#4740e4 185deg,#484aee 190deg,#4756f7 195deg,#465efb 200deg,#3b73fe 205deg,#2e85f8 210deg,#2c8ff1 215deg,#12b1d6 220deg,#4fcc80 225deg,#41ca8c 230deg,#20a4e3 235deg,#3b72fe 240deg,#4465fd 245deg,#4563fc 250deg,#4756f6 255deg,#484aee 260deg,#484cf0 265deg,#4850f2 270deg,#4744e9 275deg,#463adc 280deg,#463ee1 285deg,#4740e4 290deg,#4743e7 295deg,#4743e7 300deg,#463ee1 305deg,#463ddf 310deg,#4745e9 315deg,#4851f3 320deg,#4851f3 325deg,#484ef1 330deg,#475af9 335deg,#4564fd 340deg,#4464fd 345deg,#4464fd 350deg,#4562fc 355deg,#4465fd 360deg)"></div>
<div style="left:997.1px;top:1326.5px;width:261.5px;height:259.1px;background:conic-gradient(#3f6efe 0deg,#327bfc 5deg,#2e87f7 10deg,#2c8ef1 15deg,#2699ea 20deg,#259de7 25deg,#269ae8 30deg,#2798ea 35deg,#2c90f0 40deg,#2d8df2 45deg,#2d8df3 50deg,#317efb 55deg,#317efb 60deg,#259ce7 65deg,#17aeda 70deg,#1da8e0 75deg,#2797eb 80deg,#2d8df2 85deg,#2d8cf3 90deg,#2c90f0 95deg,#2994ed 100deg,#2d8af4 105deg,#307ffb 110deg,#2d89f6 115deg,#2b91ef 120deg,#307ffb 125deg,#416bfe 130deg,#337afd 135deg,#2d89f5 140deg,#2d89f5 145deg,#2d8cf3 150deg,#2699e9 155deg,#1fa6e2 160deg,#249de6 165deg,#2d8df2 170deg,#2d8bf3 175deg,#2e83f9 180deg,#4369fe 180deg,#3b73fe 185deg,#2f83f9 190deg,#2d8bf4 195deg,#2b92ee 200deg,#2b90f0 205deg,#2d8bf3 210deg,#249fe6 215deg,#0ab4d2 220deg,#01bac5 225deg,#0bb4d2 230deg,#2c8ff1 235deg,#4367fd 240deg,#4465fd 245deg,#4564fd 250deg,#484ff2 255deg,#463de0 260deg,#4538d8 265deg,#4535d2 270deg,#463bdd 275deg,#4744e8 280deg,#4743e8 285deg,#4743e7 290deg,#4744e9 295deg,#4744e8 300deg,#463de0 305deg,#463adb 310deg,#473ee2 315deg,#4746eb 320deg,#484cf0 325deg,#484ff2 330deg,#4756f7 335deg,#475af9 340deg,#465dfa 345deg,#4661fc 350deg,#4660fc 355deg,#4368fe 360deg)"></div>
<div style="left:1004.8px;top:1334.1px;width:246.1px;height:243.8px;background:conic-gradient(#08b5d0 0deg,#c1c32c 5deg,#e4bb2c 10deg,#42ca8b 15deg,#01b8c9 20deg,#1da8e0 25deg,#259de7 30deg,#249ee6 35deg,#20a5e3 40deg,#1fa5e2 45deg,#259be7 50deg,#2d8cf3 55deg,#327cfc 60deg,#3975fe 65deg,#3776fe 70deg,#3777fe 75deg,#3579fd 80deg,#3875fe 85deg,#3b72ff 90deg,#3d70ff 95deg,#3f6eff 100deg,#4269fe 105deg,#4465fd 110deg,#3677fe 115deg,#2d8af5 120deg,#2e87f7 125deg,#2f82fa 130deg,#2e83f9 135deg,#2f81fa 140deg,#3579fd 145deg,#3b73fe 150deg,#3678fe 155deg,#2f81fa 160deg,#2b92ee 165deg,#269be8 170deg,#259de7 175deg,#2896eb 180deg,#2d8df3 180deg,#2797eb 185deg,#21a3e4 190deg,#10b2d5 195deg,#09bcbe 200deg,#2bc3a8 205deg,#36c799 210deg,#2ec4a5 215deg,#0ebdbb 220deg,#06b5cf 225deg,#1fa6e2 230deg,#259ce7 235deg,#2c8ff1 240deg,#3e70ff 245deg,#4854f6 250deg,#484ef1 255deg,#4849ed 260deg,#473fe3 265deg,#4639da 270deg,#4537d6 275deg,#4537d5 280deg,#4434cf 285deg,#4332c9 290deg,#4433cd 295deg,#4434cf 300deg,#463adc 305deg,#4743e7 310deg,#4743e7 315deg,#4744e8 320deg,#4850f3 325deg,#475bf9 330deg,#4757f7 335deg,#484cf0 340deg,#4741e5 345deg,#463bdd 350deg,#4848ec 355deg,#4756f7 360deg)"></div>
<div style="left:1012.4px;top:1341.7px;width:230.7px;height:228.6px;background:conic-gradient(#10b2d5 0deg,#2bc3a8 5deg,#39c994 10deg,#33c69d 15deg,#1ec0b2 20deg,#04b6cd 25deg,#13b0d7 30deg,#1ac0b5 35deg,#bac430 40deg,#f9d82c 45deg,#fec636 50deg,#57cc7a 55deg,#249fe5 60deg,#3677fe 65deg,#426afe 70deg,#4466fd 75deg,#4466fd 80deg,#4368fe 85deg,#416bfe 90deg,#4562fc 95deg,#4759f8 100deg,#4563fc 105deg,#3f6efe 110deg,#3c72ff 115deg,#3777fe 120deg,#347afd 125deg,#327cfc 130deg,#3f6dfe 135deg,#465ffb 140deg,#4563fd 145deg,#3f6dfe 150deg,#2e84f8 155deg,#23a1e5 160deg,#0ab4d1 165deg,#02bac4 170deg,#1da8e0 175deg,#2e84f9 180deg,#337afd 180deg,#2797eb 185deg,#0ab4d2 190deg,#39c895 195deg,#c2c22c 200deg,#fbd32f 205deg,#f9fb15 210deg,#f9fb15 215deg,#fcd030 220deg,#afc636 225deg,#31c6a0 230deg,#05b6ce 235deg,#249fe5 240deg,#317dfc 245deg,#475dfa 250deg,#484df1 255deg,#4742e6 260deg,#4639da 265deg,#4435d0 270deg,#4535d2 275deg,#4539d9 280deg,#4538d7 285deg,#4539d9 290deg,#463bdc 295deg,#463de0 300deg,#4740e4 305deg,#4743e7 310deg,#4848ec 315deg,#484df0 320deg,#4756f6 325deg,#465dfb 330deg,#475cfa 335deg,#4758f8 340deg,#4851f3 345deg,#484bee 350deg,#4851f3 355deg,#4851f3 360deg)"></div>
<div style="left:1020.1px;top:1349.3px;width:215.3px;height:213.4px;background:conic-gradient(#03b7cb 0deg,#19bfb5 5deg,#27c2ac 10deg,#0dbdbc 15deg,#11b1d6 20deg,#08b4d0 25deg,#01b8c9 30deg,#0eb2d4 35deg,#02b7cb 40deg,#28c2ab 45deg,#1fc0b2 50deg,#20a5e2 55deg,#3579fd 60deg,#416cfe 65deg,#406dfe 70deg,#465dfa 75deg,#4850f3 80deg,#475af9 85deg,#4563fd 90deg,#465efb 95deg,#4758f8 100deg,#475cfa 105deg,#4660fb 110deg,#475af9 115deg,#4853f5 120deg,#4850f2 125deg,#484cef 130deg,#4758f8 135deg,#4465fd 140deg,#4464fd 145deg,#426afe 150deg,#3975fe 155deg,#2e86f7 160deg,#1aacdd 165deg,#0bbdbd 170deg,#03b7cb 175deg,#21a3e3 180deg,#2699e9 180deg,#22a2e4 185deg,#18addb 190deg,#17bfb6 195deg,#57cc7a 200deg,#f1ba37 205deg,#f7f31d 210deg,#f5e526 215deg,#efba35 220deg,#b9c431 225deg,#64cd6e 230deg,#0abdbd 235deg,#22a1e4 240deg,#2d8af5 245deg,#3b73fe 250deg,#475bf9 255deg,#4849ed 260deg,#4741e5 265deg,#463cde 270deg,#4639d9 275deg,#4539d9 280deg,#4538d8 285deg,#4639d9 290deg,#463de0 295deg,#4743e7 300deg,#4745e9 305deg,#4746eb 310deg,#4849ed 315deg,#484bef 320deg,#4850f3 325deg,#4757f7 330deg,#416bfe 335deg,#3080fb 340deg,#3777fe 345deg,#4269fe 350deg,#3c71ff 355deg,#465efb 360deg)"></div>
<div style="left:1027.8px;top:1356.9px;width:199.9px;height:198.1px;background:conic-gradient(#2e83f9 0deg,#259be8 5deg,#17aedb 10deg,#1fa5e2 15deg,#2797eb 20deg,#23a1e4 25deg,#1ea7e1 30deg,#249fe6 35deg,#2896ec 40deg,#2e87f7 45deg,#3776fe 50deg,#3c72ff 55deg,#3f6fff 60deg,#4368fe 65deg,#4564fd 70deg,#4562fc 75deg,#4562fc 80deg,#465efb 85deg,#475bf9 90deg,#465dfa 95deg,#465dfb 100deg,#475cfa 105deg,#4759f8 110deg,#4855f6 115deg,#4850f3 120deg,#4756f7 125deg,#465dfa 130deg,#4853f5 135deg,#484aee 140deg,#484df0 145deg,#4854f5 150deg,#4561fc 155deg,#3777fe 160deg,#2994ed 165deg,#1fa6e2 170deg,#259ce7 175deg,#2e85f8 180deg,#307ffb 180deg,#2a93ed 185deg,#1ea8e0 190deg,#0bb3d2 195deg,#02bac4 200deg,#20c1b1 205deg,#2bc3a7 210deg,#21c1b1 215deg,#02bbc3 220deg,#0ab4d2 225deg,#1da8e0 230deg,#2796eb 235deg,#2e83f9 240deg,#347afd 245deg,#3b72fe 250deg,#4660fb 255deg,#4852f4 260deg,#4746ea 265deg,#463adb 270deg,#4539d8 275deg,#4639d9 280deg,#4435d1 285deg,#4433cd 290deg,#463bdc 295deg,#4745e9 300deg,#4848ec 305deg,#484cf0 310deg,#4758f8 315deg,#4368fd 320deg,#416cfe 325deg,#3a74fe 330deg,#2a92ee 335deg,#1babde 340deg,#1fa6e1 345deg,#2797eb 350deg,#2d8af4 355deg,#3777fe 360deg)"></div>
<div style="left:1035.5px;top:1364.6px;width:184.6px;height:182.9px;background:conic-gradient(#3579fd 0deg,#327bfc 5deg,#317dfc 10deg,#2f80fa 15deg,#2f81fa 20deg,#2e84f8 25deg,#2e86f8 30deg,#3a73fe 35deg,#4561fc 40deg,#4465fd 45deg,#4269fe 50deg,#4661fc 55deg,#475af9 60deg,#475cfa 65deg,#4660fb 70deg,#4366fd 75deg,#3d70ff 80deg,#3f6efe 85deg,#416cfe 90deg,#3080fa 95deg,#2d8df2 100deg,#3579fd 105deg,#465ffb 110deg,#475bf9 115deg,#4757f7 120deg,#484ef1 125deg,#4848ec 130deg,#4740e4 135deg,#463cde 140deg,#4741e5 145deg,#484aee 150deg,#4852f4 155deg,#4562fc 160deg,#337bfd 165deg,#2d8bf4 170deg,#2c8ff0 175deg,#2e85f8 180deg,#2d88f6 180deg,#2a93ee 185deg,#259ce7 190deg,#10b2d5 195deg,#07bcbf 200deg,#18bfb6 205deg,#12beb9 210deg,#18aedb 215deg,#2796eb 220deg,#2798ea 225deg,#2699ea 230deg,#2f81fa 235deg,#4269fe 240deg,#4368fe 245deg,#406cfe 250deg,#4564fd 255deg,#465dfb 260deg,#4660fc 265deg,#475dfa 270deg,#4851f3 275deg,#4746ea 280deg,#463ddf 285deg,#4538d8 290deg,#4742e6 295deg,#484ef1 300deg,#484ff2 305deg,#4850f3 310deg,#4759f8 315deg,#4563fc 320deg,#4269fe 325deg,#3c72ff 330deg,#307ffb 335deg,#2d8af4 340deg,#2c8ef2 345deg,#2d8af5 350deg,#2e84f8 355deg,#3a73fe 360deg)"></div>
<div style="left:1043.2px;top:1372.2px;width:169.2px;height:167.6px;background:conic-gradient(#426afe 0deg,#3f6efe 5deg,#3c72ff 10deg,#416cfe 15deg,#4465fd 20deg,#406cfe 25deg,#3a73fe 30deg,#3f6efe 35deg,#4368fe 40deg,#4660fc 45deg,#4759f8 50deg,#4562fc 55deg,#416bfe 60deg,#4562fc 65deg,#4759f8 70deg,#4756f7 75deg,#4854f6 80deg,#4854f5 85deg,#4853f5 90deg,#475af9 95deg,#465ffb 100deg,#4757f7 105deg,#484df0 110deg,#4851f3 115deg,#4853f5 120deg,#484cef 125deg,#4746ea 130deg,#463adb 135deg,#4332c9 140deg,#4332c9 145deg,#4434ce 150deg,#473fe2 155deg,#4851f3 160deg,#475cfa 165deg,#4563fd 170deg,#406dfe 175deg,#416cfe 180deg,#4465fd 180deg,#3a74fe 185deg,#2e83f9 190deg,#2f81fa 195deg,#337bfc 200deg,#307ffb 205deg,#2f80fa 210deg,#2e85f8 215deg,#2d89f5 220deg,#317dfc 225deg,#3e70ff 230deg,#4269fe 235deg,#4563fd 240deg,#4368fe 245deg,#406dfe 250deg,#4368fe 255deg,#4564fd 260deg,#4561fc 265deg,#465dfb 270deg,#4755f6 275deg,#484ff2 280deg,#484aed 285deg,#4747eb 290deg,#484df0 295deg,#4853f5 300deg,#4759f9 305deg,#4366fd 310deg,#317dfc 315deg,#2c8ff1 320deg,#2f81fa 325deg,#4564fd 330deg,#475bf9 335deg,#475bf9 340deg,#465dfa 345deg,#465efb 350deg,#4563fd 355deg,#475cfa 360deg)"></div>
<div style="left:1050.9px;top:1379.8px;width:153.8px;height:152.4px;background:conic-gradient(#4758f8 0deg,#4853f4 5deg,#484ef1 10deg,#4850f2 15deg,#4851f4 20deg,#4854f6 25deg,#4757f7 30deg,#465ffb 35deg,#4466fd 40deg,#475cfa 45deg,#4853f5 50deg,#4852f4 55deg,#4850f3 60deg,#4850f3 65deg,#4850f2 70deg,#484ff2 75deg,#484ef1 80deg,#4851f3 85deg,#4853f5 90deg,#4756f7 95deg,#4758f8 100deg,#4758f8 105deg,#4757f7 110deg,#484aee 115deg,#463ee1 120deg,#4538d8 125deg,#4435d0 130deg,#4331c7 135deg,#4230c3 140deg,#4331c6 145deg,#4433cd 150deg,#463de0 155deg,#484bef 160deg,#4851f3 165deg,#4755f6 170deg,#4755f6 175deg,#4853f4 180deg,#4852f4 180deg,#4853f5 185deg,#4854f5 190deg,#4661fc 195deg,#3f6eff 200deg,#3f6eff 210deg,#3d71ff 215deg,#3b73fe 220deg,#426afe 225deg,#4563fd 230deg,#3c71ff 235deg,#2d89f5 240deg,#259be8 245deg,#2796eb 250deg,#2f81fa 255deg,#426afe 260deg,#4562fc 265deg,#465ffb 270deg,#4850f3 275deg,#4745e9 280deg,#4850f3 285deg,#475dfa 290deg,#4852f4 295deg,#4746eb 300deg,#4851f3 305deg,#406dfe 310deg,#259de7 315deg,#01b9c7 320deg,#02b7cb 325deg,#2a93ee 330deg,#416bfe 335deg,#4660fb 340deg,#4562fc 345deg,#4564fd 350deg,#465dfb 355deg,#4561fc 360deg)"></div>
<div style="left:1058.6px;top:1387.4px;width:138.4px;height:137.2px;background:conic-gradient(#4744e8 0deg,#4747ec 5deg,#4850f2 10deg,#4758f8 15deg,#465ffb 20deg,#4758f8 25deg,#484ef1 30deg,#4757f7 35deg,#465ffb 40deg,#475cfa 45deg,#475af9 50deg,#475bf9 55deg,#465dfa 60deg,#4757f7 65deg,#4851f3 70deg,#4852f4 75deg,#4852f4 80deg,#4756f6 85deg,#4759f8 90deg,#4854f5 95deg,#484ff2 100deg,#484ff2 105deg,#484ef1 110deg,#4744e8 115deg,#4639d9 120deg,#4535d2 125deg,#4433cb 130deg,#4536d3 135deg,#463bdd 140deg,#4639da 145deg,#4639da 150deg,#473fe2 155deg,#4745ea 160deg,#484ef1 165deg,#4757f7 170deg,#4755f6 175deg,#4853f5 180deg,#4854f5 180deg,#4852f4 185deg,#484ff2 190deg,#475bf9 195deg,#4367fd 200deg,#4465fd 205deg,#4562fc 210deg,#4564fd 215deg,#4466fd 220deg,#4368fe 225deg,#3d71ff 230deg,#2994ed 235deg,#8dcb4f 240deg,#fec338 245deg,#09bcbe 250deg,#2994ed 255deg,#2f82fa 260deg,#4367fd 265deg,#4756f7 270deg,#4854f6 275deg,#4756f7 280deg,#4757f7 285deg,#4759f9 290deg,#4755f6 295deg,#4851f4 300deg,#4850f3 305deg,#4755f6 310deg,#3d70ff 315deg,#2d8bf4 320deg,#2e87f7 325deg,#3c71ff 330deg,#465ffb 335deg,#4756f7 340deg,#484df0 345deg,#4742e6 350deg,#4741e5 355deg,#4539d9 360deg)"></div>
<div style="left:1066.3px;top:1395.0px;width:123.0px;height:121.9px;background:#fff"></div>
<div style="left:60.6px;top:1868.8px;width:273.1px;height:271.4px;background:#3e26a8"></div>
<div style="left:68.2px;top:1876.3px;width:257.9px;height:256.4px;background:#3e26a8"></div>
<div style="left:75.7px;top:1883.9px;width:242.7px;height:241.3px;background:#3e26a8"></div>
<div style="left:83.3px;top:1891.4px;width:227.5px;height:226.2px;background:#3e26a8"></div>
<div style="left:90.9px;top:1898.9px;width:212.4px;height:211.1px;background:#3e26a8"></div>
<div style="left:98.5px;top:1906.5px;width:197.2px;height:196.0px;background:#3e26a8"></div>
<div style="left:106.1px;top:1914.0px;width:182.0px;height:181.0px;background:#3e26a8"></div>
<div style="left:113.7px;top:1921.6px;width:166.9px;height:165.9px;background:#3e26a8"></div>
<div style="left:121.2px;top:1929.1px;width:151.7px;height:150.8px;background:#3e26a8"></div>
<div style="left:128.8px;top:1936.6px;width:136.5px;height:135.7px;background:#3e26a8"></div>
<div style="left:136.4px;top:1944.2px;width:121.4px;height:120.6px;background:#fff"></div>
<div style="left:519.7px;top:1868.8px;width:273.1px;height:271.4px;background:conic-gradient(#3e26a8 0deg,#3e26a8 180deg,#3e27aa 180deg,#3e27aa 185deg,#3e27ab 190deg,#3e27ac 195deg,#3e27ac 200deg,#3e28ac 205deg,#3f29b0 210deg,#4741e5 215deg,#1dc0b3 220deg,#fdbd3d 225deg,#1baade 230deg,#4535d2 235deg,#3f28ad 240deg,#3e28ac 245deg,#3f28ad 250deg,#3f28af 255deg,#3f29b0 260deg,#3f29b0 270deg,#3f28af 275deg,#3f28ad 280deg,#3e27ac 285deg,#3e27ab 290deg,#3e27aa 295deg,#3e27a9 300deg,#3e26a9 305deg,#3e26a9 310deg,#3e26a8 315deg,#3e26a8 360deg)"></div>
<div style="left:527.3px;top:1876.3px;width:257.9px;height:256.4px;background:conic-gradient(#3e26a8 0deg,#3e26a8 180deg,#3f28af 180deg,#3f29b1 185deg,#402ab4 190deg,#402bb6 195deg,#402bb8 200deg,#412cb8 205deg,#412cb9 210deg,#4535d2 215deg,#3777fe 220deg,#1fa5e2 225deg,#4562fc 230deg,#422fc2 235deg,#402ab3 240deg,#402ab5 245deg,#412cb9 250deg,#412dbc 255deg,#422ebf 260deg,#422fc0 265deg,#422ebf 270deg,#412dbc 275deg,#402bb8 280deg,#402ab4 285deg,#3f29b0 290deg,#3e28ad 295deg,#3e27ab 300deg,#3e27a9 305deg,#3e26a9 310deg,#3e26a9 315deg,#3e26a8 320deg,#3e26a8 360deg)"></div>
<div style="left:534.8px;top:1883.9px;width:242.7px;height:241.3px;background:conic-gradient(#3e26a8 0deg,#3e26a8 180deg,#402bb7 180deg,#412dbd 185deg,#4230c3 190deg,#4332c9 195deg,#4433cc 200deg,#4434ce 205deg,#4433cd 210deg,#4332cb 215deg,#4433cd 220deg,#4434ce 225deg,#4230c3 230deg,#412dbc 235deg,#412ebd 240deg,#4230c3 245deg,#4433cb 250deg,#4536d3 255deg,#4538d8 260deg,#4639da 265deg,#4538d8 270deg,#4535d2 275deg,#4332c9 280deg,#422fc0 285deg,#402bb8 290deg,#3f29b2 295deg,#3f28ad 300deg,#3e27ab 305deg,#3e27a9 310deg,#3e26a9 315deg,#3e26a9 320deg,#3e26a8 325deg,#3e26a8 360deg)"></div>
<div style="left:542.4px;top:1891.4px;width:227.5px;height:226.2px;background:conic-gradient(#3e26a8 0deg,#3e26a8 180deg,#412dbc 180deg,#4230c4 185deg,#4433cc 190deg,#4536d3 195deg,#4538d7 200deg,#4539d9 205deg,#4538d8 210deg,#4536d4 215deg,#4434cd 220deg,#4331c7 225deg,#4230c3 230deg,#422fc2 235deg,#4331c6 240deg,#4434cf 245deg,#4639d9 250deg,#473fe2 255deg,#4743e7 260deg,#4745e9 265deg,#4743e7 270deg,#473ee1 275deg,#4538d8 280deg,#4433cb 285deg,#422ebf 290deg,#402bb6 295deg,#3f29b0 300deg,#3e27ac 305deg,#3e27aa 310deg,#3e27a9 315deg,#3e26a9 320deg,#3e26a8 325deg,#3e26a8 360deg)"></div>
<div style="left:550.0px;top:1898.9px;width:212.4px;height:211.1px;background:conic-gradient(#3e26a8 0deg,#3e26a8 180deg,#402bb7 180deg,#412dbd 185deg,#4230c3 190deg,#4332c9 195deg,#4433cc 200deg,#4434ce 205deg,#4433cd 210deg,#4332c9 215deg,#4330c5 220deg,#422fc0 225deg,#412ebe 230deg,#422ebf 235deg,#4330c5 240deg,#4434ce 245deg,#4539d9 250deg,#473ee2 255deg,#4743e7 260deg,#4745e9 265deg,#4743e7 270deg,#473ee1 275deg,#4538d8 280deg,#4433cb 285deg,#422ebf 290deg,#402bb6 295deg,#3f29b0 300deg,#3e27ac 305deg,#3e27aa 310deg,#3e27a9 315deg,#3e26a9 320deg,#3e26a8 325deg,#3e26a8 360deg)"></div>
<div style="left:557.6px;top:1906.5px;width:197.2px;height:196.0px;background:conic-gradient(#3e26a8 0deg,#3e26a8 180deg,#3f28af 180deg,#3f29b1 185deg,#402ab4 190deg,#402bb6 195deg,#402bb8 200deg,#412cb8 205deg,#402bb8 210deg,#402bb7 215deg,#402ab5 220deg,#402ab4 225deg,#402ab4 230deg,#402bb6 235deg,#412cba 240deg,#422fc1 245deg,#4332ca 250deg,#4536d3 255deg,#4639da 260deg,#463cdf 265deg,#463ddf 270deg,#463ada 275deg,#4434d0 280deg,#4230c3 285deg,#412cb9 290deg,#3f29b2 295deg,#3f28ad 300deg,#3e27ab 305deg,#3e27a9 310deg,#3e26a9 315deg,#3e26a9 320deg,#3e26a8 325deg,#3e26a8 360deg)"></div>
<div style="left:565.2px;top:1914.0px;width:182.0px;height:181.0px;background:conic-gradient(#3e26a8 0deg,#3e26a8 180deg,#3e27aa 180deg,#3e27aa 185deg,#3e27ab 190deg,#3e27ac 195deg,#3e27ac 200deg,#3e28ac 205deg,#3e27ac 210deg,#3e27ac 215deg,#3e27ab 220deg,#3e27ab 225deg,#3e27ac 230deg,#3f28ae 235deg,#3f29b0 240deg,#402ab4 245deg,#412cb9 250deg,#422fc1 255deg,#4435d0 260deg,#4741e5 265deg,#4852f4 270deg,#4757f7 275deg,#4746ea 280deg,#4433cc 285deg,#402bb6 290deg,#3f28ae 295deg,#3e27ab 300deg,#3e27a9 305deg,#3e26a9 310deg,#3e26a9 315deg,#3e26a8 320deg,#3e26a8 360deg)"></div>
<div style="left:572.8px;top:1921.6px;width:166.9px;height:165.9px;background:conic-gradient(#3e26a8 0deg,#3e26a8 180deg,#3e26a9 180deg,#3e26a9 195deg,#3e27a9 200deg,#3e27a9 230deg,#3e27aa 235deg,#3e27ab 240deg,#3e27ac 245deg,#3f28ad 250deg,#3f29b0 255deg,#402bb8 260deg,#4537d5 265deg,#4757f7 270deg,#416bfe 275deg,#4755f6 280deg,#4435d0 285deg,#3f29b2 290deg,#3e27aa 295deg,#3e27a9 300deg,#3e26a9 305deg,#3e26a9 310deg,#3e26a8 315deg,#3e26a8 360deg)"></div>
<div style="left:580.4px;top:1929.1px;width:151.7px;height:150.8px;background:conic-gradient(#3e26a8 0deg,#3e26a8 185deg,#3e26a9 190deg,#3e27aa 195deg,#3f28ae 200deg,#402bb6 205deg,#412cb9 210deg,#402ab3 215deg,#3e27ac 220deg,#3e27a9 225deg,#3e26a9 230deg,#3e26a9 240deg,#3e27a9 245deg,#3e27a9 250deg,#3e27aa 255deg,#3e27ab 260deg,#3f29b1 265deg,#412dbd 270deg,#4330c5 275deg,#412dbd 280deg,#3f29b0 285deg,#3e27aa 290deg,#3e26a9 295deg,#3e26a9 300deg,#3e26a8 305deg,#3e26a8 360deg)"></div>
<div style="left:587.9px;top:1936.6px;width:136.5px;height:135.7px;background:conic-gradient(#3e26a8 0deg,#3e26a8 185deg,#3e27a9 190deg,#3f28ae 195deg,#4230c4 200deg,#4741e5 205deg,#4849ed 210deg,#4639da 215deg,#412cb9 220deg,#3e27ab 225deg,#3e26a9 230deg,#3e26a8 235deg,#3e26a8 245deg,#3e26a9 250deg,#3e26a9 270deg,#3e27a9 275deg,#3e26a9 280deg,#3e26a9 285deg,#3e26a8 290deg,#3e26a8 360deg)"></div>
<div style="left:595.5px;top:1944.2px;width:121.4px;height:120.6px;background:#fff"></div>
<div style="left:978.5px;top:1868.8px;width:273.1px;height:271.4px;background:conic-gradient(#3e26a8 0deg,#3e26a8 140deg,#3f29b1 145deg,#463de0 150deg,#463ee1 155deg,#9bc945 160deg,#f9fb15 165deg,#f9fb15 170deg,#6ccd69 175deg,#3678fe 180deg,#3e26a8 180deg,#3e26a8 360deg)"></div>
<div style="left:986.1px;top:1876.3px;width:257.9px;height:256.4px;background:conic-gradient(#3e26a8 0deg,#3e26a8 135deg,#3e26a9 140deg,#4332cb 145deg,#2699e9 150deg,#3dca90 155deg,#f9fb15 160deg,#f9fb15 170deg,#07bcc0 175deg,#422ebe 180deg,#3e26a9 180deg,#402ab5 185deg,#4330c5 190deg,#4331c7 195deg,#4330c5 200deg,#402ab5 205deg,#3e26a9 210deg,#3e26a8 215deg,#3e26a8 360deg)"></div>
<div style="left:993.6px;top:1883.9px;width:242.7px;height:241.3px;background:conic-gradient(#3e26a8 0deg,#3e26a8 140deg,#3f29b2 145deg,#484cef 150deg,#2e83f9 155deg,#23a0e5 160deg,#20a4e3 165deg,#249fe6 170deg,#465ffb 175deg,#3f29b2 180deg,#3e28ad 180deg,#406dfe 185deg,#28c3ab 190deg,#35c79a 195deg,#1bc0b4 200deg,#4366fd 205deg,#3e27ab 210deg,#3e26a8 215deg,#3e26a8 360deg)"></div>
<div style="left:1001.2px;top:1891.4px;width:227.5px;height:226.2px;background:conic-gradient(#3e26a8 0deg,#3e26a8 140deg,#3e26a9 145deg,#3e27ac 150deg,#402bb6 155deg,#412cba 160deg,#4742e6 165deg,#4852f4 170deg,#484aee 175deg,#3f29b0 180deg,#402bb7 180deg,#2d8df2 185deg,#d3bf27 190deg,#f4ba39 195deg,#1ec0b2 200deg,#4744e8 205deg,#3e27ab 210deg,#412dbb 215deg,#422ebf 220deg,#412dbb 225deg,#3e27aa 230deg,#3e26a8 235deg,#3e26a8 360deg)"></div>
<div style="left:1008.8px;top:1898.9px;width:212.4px;height:211.1px;background:conic-gradient(#3e26a8 0deg,#3e26a8 160deg,#3f28ad 165deg,#3f29b0 170deg,#3f29af 175deg,#3e27a9 180deg,#3e27aa 180deg,#412cba 185deg,#4536d4 190deg,#463adb 195deg,#4535d2 200deg,#412dbb 205deg,#4230c4 210deg,#2d8df2 215deg,#249fe6 220deg,#2d8cf3 225deg,#412cb9 230deg,#3e26a8 235deg,#3e26a8 360deg)"></div>
<div style="left:1016.4px;top:1906.5px;width:197.2px;height:196.0px;background:conic-gradient(#3e26a8 0deg,#3e26a8 185deg,#3e27aa 190deg,#4743e7 195deg,#416cfe 200deg,#3f6eff 205deg,#4563fd 210deg,#4536d5 215deg,#422ebf 220deg,#412dbb 225deg,#3e27aa 230deg,#3e26a8 235deg,#3e26a8 360deg)"></div>
<div style="left:1024.0px;top:1914.0px;width:182.0px;height:181.0px;background:conic-gradient(#3e26a8 0deg,#3e26a8 185deg,#3e26a9 190deg,#3f28af 195deg,#402bb6 200deg,#402bb6 205deg,#402ab4 210deg,#3e27ab 215deg,#3e26a8 220deg,#3e26a8 360deg)"></div>
<div style="left:1031.6px;top:1921.6px;width:166.9px;height:165.9px;background:#3e26a8"></div>
<div style="left:1039.2px;top:1929.1px;width:151.7px;height:150.8px;background:#3e26a8"></div>
<div style="left:1046.7px;top:1936.6px;width:136.5px;height:135.7px;background:#3e26a8"></div>
<div style="left:1054.3px;top:1944.2px;width:121.4px;height:120.6px;background:#fff"></div>
</div>
<div style="position:absolute;left:338.5px;top:514.0px;width:621.5px;height:21.0px;background:linear-gradient(90deg,#3e26a8 0.000% 1.562%,#402ab4 1.562% 3.125%,#422ec0 3.125% 4.688%,#4332cb 4.688% 6.250%,#4537d5 6.250% 7.812%,#463cde 7.812% 9.375%,#4741e5 9.375% 10.938%,#4747eb 10.938% 12.500%,#484df0 12.500% 14.062%,#4852f4 14.062% 15.625%,#4758f8 15.625% 17.188%,#465efb 17.188% 18.750%,#4563fd 18.750% 20.312%,#4269fe 20.312% 21.875%,#3e6fff 21.875% 23.438%,#3875fe 23.438% 25.000%,#327cfc 25.000% 26.562%,#2f81fa 26.562% 28.125%,#2e87f7 28.125% 29.688%,#2d8cf3 29.688% 31.250%,#2b91ef 31.250% 32.812%,#2797eb 32.812% 34.375%,#259be8 34.375% 35.938%,#23a0e5 35.938% 37.500%,#20a5e3 37.500% 39.062%,#1ca9df 39.062% 40.625%,#18addb 40.625% 42.188%,#12b1d6 42.188% 43.750%,#08b5d0 43.750% 45.312%,#01b8ca 45.312% 46.875%,#02bac3 46.875% 48.438%,#0bbdbd 48.438% 50.000%,#19bfb6 50.000% 51.562%,#24c1ae 51.562% 53.125%,#2cc4a7 53.125% 54.688%,#31c69f 54.688% 56.250%,#37c897 56.250% 57.812%,#3fca8e 57.812% 59.375%,#4acb84 59.375% 60.938%,#57cc7a 60.938% 62.500%,#64cd6f 62.500% 64.062%,#72cd64 64.062% 65.625%,#81cc59 65.625% 67.188%,#8fcb4e 67.188% 68.750%,#9dc943 68.750% 70.312%,#abc739 70.312% 71.875%,#b9c431 71.875% 73.438%,#c5c22a 73.438% 75.000%,#d1bf27 75.000% 76.562%,#dcbd29 76.562% 78.125%,#e6bb2d 78.125% 79.688%,#f0ba36 79.688% 81.250%,#f8ba3d 81.250% 82.812%,#febe3c 82.812% 84.375%,#fec338 84.375% 85.938%,#fec934 85.938% 87.500%,#fccf30 87.500% 89.062%,#fad62d 89.062% 90.625%,#f7dc2a 90.625% 92.188%,#f5e327 92.188% 93.750%,#f5e924 93.750% 95.312%,#f6ef20 95.312% 96.875%,#f7f51b 96.875% 98.438%,#f9fb15 98.438% 100.000%);box-shadow:0 0 0 1px #6b6b6b inset"></div>
<div style="position:absolute;left:338.2px;top:1083.0px;width:623.4px;height:20.8px;background:linear-gradient(90deg,#3e26a8 0.000% 1.562%,#402ab4 1.562% 3.125%,#422ec0 3.125% 4.688%,#4332cb 4.688% 6.250%,#4537d5 6.250% 7.812%,#463cde 7.812% 9.375%,#4741e5 9.375% 10.938%,#4747eb 10.938% 12.500%,#484df0 12.500% 14.062%,#4852f4 14.062% 15.625%,#4758f8 15.625% 17.188%,#465efb 17.188% 18.750%,#4563fd 18.750% 20.312%,#4269fe 20.312% 21.875%,#3e6fff 21.875% 23.438%,#3875fe 23.438% 25.000%,#327cfc 25.000% 26.562%,#2f81fa 26.562% 28.125%,#2e87f7 28.125% 29.688%,#2d8cf3 29.688% 31.250%,#2b91ef 31.250% 32.812%,#2797eb 32.812% 34.375%,#259be8 34.375% 35.938%,#23a0e5 35.938% 37.500%,#20a5e3 37.500% 39.062%,#1ca9df 39.062% 40.625%,#18addb 40.625% 42.188%,#12b1d6 42.188% 43.750%,#08b5d0 43.750% 45.312%,#01b8ca 45.312% 46.875%,#02bac3 46.875% 48.438%,#0bbdbd 48.438% 50.000%,#19bfb6 50.000% 51.562%,#24c1ae 51.562% 53.125%,#2cc4a7 53.125% 54.688%,#31c69f 54.688% 56.250%,#37c897 56.250% 57.812%,#3fca8e 57.812% 59.375%,#4acb84 59.375% 60.938%,#57cc7a 60.938% 62.500%,#64cd6f 62.500% 64.062%,#72cd64 64.062% 65.625%,#81cc59 65.625% 67.188%,#8fcb4e 67.188% 68.750%,#9dc943 68.750% 70.312%,#abc739 70.312% 71.875%,#b9c431 71.875% 73.438%,#c5c22a 73.438% 75.000%,#d1bf27 75.000% 76.562%,#dcbd29 76.562% 78.125%,#e6bb2d 78.125% 79.688%,#f0ba36 79.688% 81.250%,#f8ba3d 81.250% 82.812%,#febe3c 82.812% 84.375%,#fec338 84.375% 85.938%,#fec934 85.938% 87.500%,#fccf30 87.500% 89.062%,#fad62d 89.062% 90.625%,#f7dc2a 90.625% 92.188%,#f5e327 92.188% 93.750%,#f5e924 93.750% 95.312%,#f6ef20 95.312% 96.875%,#f7f51b 96.875% 98.438%,#f9fb15 98.438% 100.000%);box-shadow:0 0 0 1px #6b6b6b inset"></div>
<div style="position:absolute;left:338.5px;top:1656.5px;width:623.1px;height:20.7px;background:linear-gradient(90deg,#3e26a8 0.000% 1.562%,#402ab4 1.562% 3.125%,#422ec0 3.125% 4.688%,#4332cb 4.688% 6.250%,#4537d5 6.250% 7.812%,#463cde 7.812% 9.375%,#4741e5 9.375% 10.938%,#4747eb 10.938% 12.500%,#484df0 12.500% 14.062%,#4852f4 14.062% 15.625%,#4758f8 15.625% 17.188%,#465efb 17.188% 18.750%,#4563fd 18.750% 20.312%,#4269fe 20.312% 21.875%,#3e6fff 21.875% 23.438%,#3875fe 23.438% 25.000%,#327cfc 25.000% 26.562%,#2f81fa 26.562% 28.125%,#2e87f7 28.125% 29.688%,#2d8cf3 29.688% 31.250%,#2b91ef 31.250% 32.812%,#2797eb 32.812% 34.375%,#259be8 34.375% 35.938%,#23a0e5 35.938% 37.500%,#20a5e3 37.500% 39.062%,#1ca9df 39.062% 40.625%,#18addb 40.625% 42.188%,#12b1d6 42.188% 43.750%,#08b5d0 43.750% 45.312%,#01b8ca 45.312% 46.875%,#02bac3 46.875% 48.438%,#0bbdbd 48.438% 50.000%,#19bfb6 50.000% 51.562%,#24c1ae 51.562% 53.125%,#2cc4a7 53.125% 54.688%,#31c69f 54.688% 56.250%,#37c897 56.250% 57.812%,#3fca8e 57.812% 59.375%,#4acb84 59.375% 60.938%,#57cc7a 60.938% 62.500%,#64cd6f 62.500% 64.062%,#72cd64 64.062% 65.625%,#81cc59 65.625% 67.188%,#8fcb4e 67.188% 68.750%,#9dc943 68.750% 70.312%,#abc739 70.312% 71.875%,#b9c431 71.875% 73.438%,#c5c22a 73.438% 75.000%,#d1bf27 75.000% 76.562%,#dcbd29 76.562% 78.125%,#e6bb2d 78.125% 79.688%,#f0ba36 79.688% 81.250%,#f8ba3d 81.250% 82.812%,#febe3c 82.812% 84.375%,#fec338 84.375% 85.938%,#fec934 85.938% 87.500%,#fccf30 87.500% 89.062%,#fad62d 89.062% 90.625%,#f7dc2a 90.625% 92.188%,#f5e327 92.188% 93.750%,#f5e924 93.750% 95.312%,#f6ef20 95.312% 96.875%,#f7f51b 96.875% 98.438%,#f9fb15 98.438% 100.000%);box-shadow:0 0 0 1px #6b6b6b inset"></div>
<div style="position:absolute;left:338.5px;top:2231.0px;width:617.7px;height:20.4px;background:linear-gradient(90deg,#3e26a8 0.000% 1.562%,#402ab4 1.562% 3.125%,#422ec0 3.125% 4.688%,#4332cb 4.688% 6.250%,#4537d5 6.250% 7.812%,#463cde 7.812% 9.375%,#4741e5 9.375% 10.938%,#4747eb 10.938% 12.500%,#484df0 12.500% 14.062%,#4852f4 14.062% 15.625%,#4758f8 15.625% 17.188%,#465efb 17.188% 18.750%,#4563fd 18.750% 20.312%,#4269fe 20.312% 21.875%,#3e6fff 21.875% 23.438%,#3875fe 23.438% 25.000%,#327cfc 25.000% 26.562%,#2f81fa 26.562% 28.125%,#2e87f7 28.125% 29.688%,#2d8cf3 29.688% 31.250%,#2b91ef 31.250% 32.812%,#2797eb 32.812% 34.375%,#259be8 34.375% 35.938%,#23a0e5 35.938% 37.500%,#20a5e3 37.500% 39.062%,#1ca9df 39.062% 40.625%,#18addb 40.625% 42.188%,#12b1d6 42.188% 43.750%,#08b5d0 43.750% 45.312%,#01b8ca 45.312% 46.875%,#02bac3 46.875% 48.438%,#0bbdbd 48.438% 50.000%,#19bfb6 50.000% 51.562%,#24c1ae 51.562% 53.125%,#2cc4a7 53.125% 54.688%,#31c69f 54.688% 56.250%,#37c897 56.250% 57.812%,#3fca8e 57.812% 59.375%,#4acb84 59.375% 60.938%,#57cc7a 60.938% 62.500%,#64cd6f 62.500% 64.062%,#72cd64 64.062% 65.625%,#81cc59 65.625% 67.188%,#8fcb4e 67.188% 68.750%,#9dc943 68.750% 70.312%,#abc739 70.312% 71.875%,#b9c431 71.875% 73.438%,#c5c22a 73.438% 75.000%,#d1bf27 75.000% 76.562%,#dcbd29 76.562% 78.125%,#e6bb2d 78.125% 79.688%,#f0ba36 79.688% 81.250%,#f8ba3d 81.250% 82.812%,#febe3c 82.812% 84.375%,#fec338 84.375% 85.938%,#fec934 85.938% 87.500%,#fccf30 87.500% 89.062%,#fad62d 89.062% 90.625%,#f7dc2a 90.625% 92.188%,#f5e327 92.188% 93.750%,#f5e924 93.750% 95.312%,#f6ef20 95.312% 96.875%,#f7f51b 96.875% 98.438%,#f9fb15 98.438% 100.000%);box-shadow:0 0 0 1px #6b6b6b inset"></div>
<svg width="1309" height="2287" viewBox="0 0 1309 2287">
<defs><clipPath id="cbclip"><rect x="0" y="0" width="965" height="2287"/></clipPath></defs>
<g clip-path="url(#cbclip)">
<text x="339.0" y="551.2" class="ct">0</text>
<text x="442.4" y="551.2" class="ct">5</text>
<text x="545.8" y="551.2" class="ct">10</text>
<text x="649.2" y="551.2" class="ct">15</text>
<text x="752.7" y="551.2" class="ct">20</text>
<text x="856.1" y="551.2" class="ct">25</text>
<text x="959.5" y="551.2" class="ct">30</text>
<path d="M442.4 534.5V528.5M545.8 534.5V528.5M649.2 534.5V528.5M752.7 534.5V528.5M856.1 534.5V528.5" stroke="#3a3a3a" stroke-width="0.8" fill="none"/>
<text x="649.2" y="567.0" class="cl">Occurrence (%)</text>
<text x="338.7" y="1120.1" class="ct">0</text>
<text x="442.4" y="1120.1" class="ct">0.5</text>
<text x="546.2" y="1120.1" class="ct">1</text>
<text x="649.9" y="1120.1" class="ct">1.5</text>
<text x="753.6" y="1120.1" class="ct">2</text>
<text x="857.4" y="1120.1" class="ct">2.5</text>
<text x="961.1" y="1120.1" class="ct">3</text>
<path d="M442.4 1103.3V1097.3M546.2 1103.3V1097.3M649.9 1103.3V1097.3M753.6 1103.3V1097.3M857.4 1103.3V1097.3" stroke="#3a3a3a" stroke-width="0.8" fill="none"/>
<text x="649.9" y="1136.0" class="cl">Occurrence (%)</text>
<text x="339.0" y="1693.5" class="ct">0</text>
<text x="401.2" y="1693.5" class="ct">0.5</text>
<text x="463.4" y="1693.5" class="ct">1</text>
<text x="525.6" y="1693.5" class="ct">1.5</text>
<text x="587.8" y="1693.5" class="ct">2</text>
<text x="650.0" y="1693.5" class="ct">2.5</text>
<text x="712.3" y="1693.5" class="ct">3</text>
<text x="774.5" y="1693.5" class="ct">3.5</text>
<text x="836.7" y="1693.5" class="ct">4</text>
<text x="898.9" y="1693.5" class="ct">4.5</text>
<text x="961.1" y="1693.5" class="ct">5</text>
<path d="M401.2 1676.7V1670.7M463.4 1676.7V1670.7M525.6 1676.7V1670.7M587.8 1676.7V1670.7M650.0 1676.7V1670.7M712.3 1676.7V1670.7M774.5 1676.7V1670.7M836.7 1676.7V1670.7M898.9 1676.7V1670.7" stroke="#3a3a3a" stroke-width="0.8" fill="none"/>
<text x="650.0" y="1709.5" class="cl">Occurrence (%)</text>
<text x="339.0" y="2267.5" class="ct">0</text>
<text x="400.7" y="2267.5" class="ct">0.02</text>
<text x="462.3" y="2267.5" class="ct">0.04</text>
<text x="524.0" y="2267.5" class="ct">0.06</text>
<text x="585.7" y="2267.5" class="ct">0.08</text>
<text x="647.4" y="2267.5" class="ct">0.1</text>
<text x="709.0" y="2267.5" class="ct">0.12</text>
<text x="770.7" y="2267.5" class="ct">0.14</text>
<text x="832.4" y="2267.5" class="ct">0.16</text>
<text x="894.0" y="2267.5" class="ct">0.18</text>
<text x="955.7" y="2267.5" class="ct">0.2</text>
<path d="M400.7 2250.9V2244.9M462.3 2250.9V2244.9M524.0 2250.9V2244.9M585.7 2250.9V2244.9M647.4 2250.9V2244.9M709.0 2250.9V2244.9M770.7 2250.9V2244.9M832.4 2250.9V2244.9M894.0 2250.9V2244.9" stroke="#3a3a3a" stroke-width="0.8" fill="none"/>
<text x="647.4" y="2283.5" class="cl">Occurrence (%)</text>
</g>
<path d="M193.4 316.0L193.4 160.1M193.4 316.0L269.7 181.0M193.4 316.0L325.6 238.0M193.4 316.0L346.0 316.0M193.4 316.0L325.6 393.9M193.4 316.0L269.7 451.0M193.4 316.0L193.4 471.9M193.4 316.0L117.1 451.0M193.4 316.0L61.2 394.0M193.4 316.0L40.8 316.0M193.4 316.0L61.2 238.0M193.4 316.0L117.1 181.0" class="gl"/>
<ellipse cx="193.4" cy="316.0" rx="114.4" ry="116.9" class="gc"/>
<path d="M159.7 444.5L128.2 431.3L102.8 408.6L83.7 380.7L71.6 349.3L69.6 316.0L77.3 284.2L94.4 257.6L118.5 239.5L144.3 229.2L169.6 225.2L193.4 224.3L217.2 225.2L242.5 229.2L268.3 239.5L292.4 257.6L309.5 284.2L317.2 316.0L315.2 349.3L303.1 380.7L284.0 408.6L258.6 431.3L227.1 444.5L193.4 450.1Z" class="bk"/>
<path d="M58.8 352.8L62.5 316.0L73.1 283.1L90.2 255.1L111.4 232.2L135.6 213.7L163.6 202.3L193.4 198.7L223.2 202.3L251.2 213.7L275.4 232.2L296.6 255.1L313.7 283.1L324.3 316.0L328.0 352.8" class="bk"/>
<path d="M58.8 352.8L67.5 390.3L85.9 425.8M328.0 352.8L319.3 390.3L300.9 425.8" class="bkt"/>
<path d="M157.4 453.2L126.5 434.3L103.1 408.2L86.9 378.8L75.5 348.3L70.3 316.0L71.5 282.6L81.9 250.2L101.8 222.4L129.5 202.9L160.7 191.5L193.4 187.7L226.1 191.5L257.3 202.9L285.0 222.4L304.9 250.2L315.3 282.6L316.5 316.0L311.3 348.3L299.9 378.8L283.7 408.2L260.3 434.3L229.4 453.2L193.4 459.6Z" class="rd"/>
<path d="M87.7 208.0L120.6 187.2L156.4 174.7L193.4 170.7L230.4 174.7L266.2 187.2L299.1 208.0" class="rd"/>
<ellipse cx="193.4" cy="316.0" rx="152.6" ry="155.9" class="oc"/>
<text x="183.0" y="208.7" class="lat">75<tspan dy="-7" dx="0.5" font-size="14.5">°</tspan><tspan dy="7" dx="0"> N</tspan></text>
<text x="183.0" y="326.3" class="lat">90<tspan dy="-7" dx="0.5" font-size="14.5">°</tspan><tspan dy="7" dx="0"> N</tspan></text>
<text x="186.4" y="146.8" class="mlt">12 MLT</text>
<text x="16.5" y="332.9" class="mlt">18</text>
<text x="360.5" y="329.2" class="mlt">6</text>
<text x="182.6" y="506.4" class="mlt">00</text>
<path d="M658.0 316.0L658.0 160.2M658.0 316.0L734.4 181.1M658.0 316.0L790.2 238.1M658.0 316.0L810.7 316.0M658.0 316.0L790.2 393.9M658.0 316.0L734.4 450.9M658.0 316.0L658.0 471.8M658.0 316.0L581.6 450.9M658.0 316.0L525.8 393.9M658.0 316.0L505.3 316.0M658.0 316.0L525.8 238.1M658.0 316.0L581.6 181.1" class="gl"/>
<ellipse cx="658.0" cy="316.0" rx="114.5" ry="116.9" class="gc"/>
<path d="M624.3 444.4L592.8 431.2L567.3 408.5L548.2 380.7L536.2 349.3L534.2 316.0L541.8 284.2L559.0 257.7L583.1 239.5L608.9 229.2L634.2 225.3L658.0 224.4L681.8 225.3L707.1 229.2L732.9 239.5L757.0 257.7L774.2 284.2L781.8 316.0L779.8 349.3L767.8 380.7L748.7 408.5L723.2 431.2L691.7 444.4L658.0 450.0Z" class="bk"/>
<path d="M523.3 352.8L527.0 316.0L537.6 283.1L554.7 255.2L575.9 232.3L600.1 213.7L628.2 202.4L658.0 198.8L687.8 202.4L715.9 213.7L740.1 232.3L761.3 255.2L778.4 283.1L789.0 316.0L792.7 352.8" class="bk"/>
<path d="M523.3 352.8L532.0 390.2L550.5 425.7M792.7 352.8L784.0 390.2L765.5 425.7" class="bkt"/>
<path d="M622.0 453.1L591.1 434.3L567.7 408.2L551.4 378.8L540.0 348.3L534.8 316.0L536.0 282.7L546.4 250.3L566.3 222.5L594.1 203.0L625.3 191.5L658.0 187.8L690.7 191.5L721.9 203.0L749.7 222.5L769.6 250.3L780.0 282.7L781.2 316.0L776.0 348.3L764.6 378.8L748.3 408.2L724.9 434.3L694.0 453.1L658.0 459.5Z" class="rd"/>
<path d="M552.2 208.0L585.2 187.3L620.9 174.8L658.0 170.8L695.1 174.8L730.8 187.3L763.8 208.0" class="rd"/>
<ellipse cx="658.0" cy="316.0" rx="152.7" ry="155.8" class="oc"/>
<text x="647.6" y="208.8" class="lat">75<tspan dy="-7" dx="0.5" font-size="14.5">°</tspan><tspan dy="7" dx="0"> N</tspan></text>
<text x="647.6" y="326.3" class="lat">90<tspan dy="-7" dx="0.5" font-size="14.5">°</tspan><tspan dy="7" dx="0"> N</tspan></text>
<text x="653.4" y="143.4" class="mlt">12 MLT</text>
<text x="472.6" y="325.2" class="mlt">18</text>
<text x="827.4" y="327.4" class="mlt">6</text>
<text x="650.0" y="502.5" class="mlt">00</text>
<path d="M1122.0 315.8L1122.0 159.9M1122.0 315.8L1198.5 180.8M1122.0 315.8L1254.5 237.8M1122.0 315.8L1275.0 315.8M1122.0 315.8L1254.5 393.8M1122.0 315.8L1198.5 450.8M1122.0 315.8L1122.0 471.7M1122.0 315.8L1045.5 450.8M1122.0 315.8L989.5 393.8M1122.0 315.8L969.0 315.8M1122.0 315.8L989.5 237.8M1122.0 315.8L1045.5 180.8" class="gl"/>
<ellipse cx="1122.0" cy="315.8" rx="114.8" ry="116.9" class="gc"/>
<path d="M1088.2 444.3L1056.7 431.1L1031.1 408.4L1012.0 380.5L999.9 349.1L997.9 315.8L1005.6 284.0L1022.8 257.4L1046.9 239.3L1072.8 229.0L1098.1 225.0L1122.0 224.1L1145.9 225.0L1171.2 229.0L1197.1 239.3L1221.2 257.4L1238.4 284.0L1246.1 315.8L1244.1 349.1L1232.0 380.5L1212.9 408.4L1187.3 431.1L1155.8 444.3L1122.0 449.9Z" class="bk"/>
<path d="M987.1 352.6L990.7 315.8L1001.4 282.9L1018.5 254.9L1039.8 232.0L1064.0 213.5L1092.1 202.1L1122.0 198.5L1151.9 202.1L1180.0 213.5L1204.2 232.0L1225.5 254.9L1242.6 282.9L1253.3 315.8L1256.9 352.6" class="bk"/>
<path d="M987.1 352.6L995.7 390.1L1014.2 425.6M1256.9 352.6L1248.3 390.1L1229.8 425.6" class="bkt"/>
<path d="M1085.9 453.0L1054.9 434.1L1031.5 408.0L1015.2 378.6L1003.8 348.1L998.5 315.8L999.8 282.4L1010.2 250.0L1030.1 222.2L1057.9 202.7L1089.3 191.3L1122.0 187.5L1154.7 191.3L1186.1 202.7L1213.9 222.2L1233.8 250.0L1244.2 282.4L1245.5 315.8L1240.2 348.1L1228.8 378.6L1212.5 408.0L1189.1 434.1L1158.1 453.0L1122.0 459.4Z" class="rd"/>
<path d="M1016.0 207.8L1049.0 187.0L1084.9 174.5L1122.0 170.5L1159.1 174.5L1195.0 187.0L1228.0 207.8" class="rd"/>
<ellipse cx="1122.0" cy="315.8" rx="153.0" ry="155.9" class="oc"/>
<text x="1111.6" y="208.5" class="lat">75<tspan dy="-7" dx="0.5" font-size="14.5">°</tspan><tspan dy="7" dx="0"> N</tspan></text>
<text x="1111.6" y="326.1" class="lat">90<tspan dy="-7" dx="0.5" font-size="14.5">°</tspan><tspan dy="7" dx="0"> N</tspan></text>
<text x="1117.6" y="142.7" class="mlt">12 MLT</text>
<text x="934.2" y="327.0" class="mlt">18</text>
<text x="1291.4" y="327.0" class="mlt">6</text>
<text x="1113.6" y="502.7" class="mlt">00</text>
<path d="M195.1 878.2L195.1 722.2M195.1 878.2L271.5 743.1M195.1 878.2L327.5 800.2M195.1 878.2L348.0 878.2M195.1 878.2L327.5 956.2M195.1 878.2L271.5 1013.3M195.1 878.2L195.1 1034.2M195.1 878.2L118.6 1013.3M195.1 878.2L62.7 956.2M195.1 878.2L42.2 878.2M195.1 878.2L62.7 800.2M195.1 878.2L118.6 743.1" class="gl"/>
<ellipse cx="195.1" cy="878.2" rx="114.7" ry="117.0" class="gc"/>
<path d="M161.3 1006.8L129.8 993.6L104.3 970.9L85.2 942.9L73.1 911.6L71.1 878.2L78.8 846.4L95.9 819.8L120.1 801.6L145.9 791.3L171.2 787.3L195.1 786.5L219.0 787.3L244.3 791.3L270.1 801.6L294.3 819.8L311.4 846.4L319.1 878.2L317.1 911.6L305.0 942.9L285.9 970.9L260.4 993.6L228.9 1006.8L195.1 1012.4Z" class="bk"/>
<path d="M60.3 915.1L63.9 878.2L74.6 845.3L91.7 817.3L112.9 794.4L137.2 775.8L165.2 764.4L195.1 760.8L225.0 764.4L253.0 775.8L277.3 794.4L298.5 817.3L315.6 845.3L326.3 878.2L329.9 915.1" class="bk"/>
<path d="M60.3 915.1L68.9 952.5L87.4 988.1M329.9 915.1L321.3 952.5L302.8 988.1" class="bkt"/>
<path d="M159.0 1015.5L128.1 996.6L104.6 970.5L88.4 941.1L76.9 910.5L71.7 878.2L73.0 844.8L83.3 812.4L103.3 784.5L131.1 765.1L162.4 753.6L195.1 749.8L227.8 753.6L259.1 765.1L286.9 784.5L306.9 812.4L317.2 844.8L318.5 878.2L313.3 910.5L301.8 941.1L285.6 970.5L262.1 996.6L231.2 1015.5L195.1 1021.9Z" class="rd"/>
<path d="M89.1 770.1L122.2 749.3L158.0 736.9L195.1 732.9L232.2 736.9L268.0 749.3L301.1 770.1" class="rd"/>
<ellipse cx="195.1" cy="878.2" rx="152.9" ry="156.0" class="oc"/>
<text x="184.7" y="770.9" class="lat">75<tspan dy="-7" dx="0.5" font-size="14.5">°</tspan><tspan dy="7" dx="0"> N</tspan></text>
<text x="184.7" y="888.5" class="lat">90<tspan dy="-7" dx="0.5" font-size="14.5">°</tspan><tspan dy="7" dx="0"> N</tspan></text>
<text x="187.8" y="708.2" class="mlt">12 MLT</text>
<text x="17.6" y="893.8" class="mlt">18</text>
<text x="362.6" y="892.3" class="mlt">6</text>
<text x="184.0" y="1068.8" class="mlt">00</text>
<path d="M660.9 876.5L660.9 720.6M660.9 876.5L737.4 741.5M660.9 876.5L793.4 798.5M660.9 876.5L813.9 876.5M660.9 876.5L793.4 954.4M660.9 876.5L737.4 1011.5M660.9 876.5L660.9 1032.4M660.9 876.5L584.4 1011.5M660.9 876.5L528.4 954.5M660.9 876.5L507.9 876.5M660.9 876.5L528.4 798.5M660.9 876.5L584.4 741.5" class="gl"/>
<ellipse cx="660.9" cy="876.5" rx="114.8" ry="116.9" class="gc"/>
<path d="M627.1 1005.0L595.6 991.8L570.0 969.1L550.9 941.2L538.8 909.8L536.8 876.5L544.5 844.7L561.7 818.1L585.8 800.0L611.7 789.7L637.0 785.7L660.9 784.8L684.8 785.7L710.1 789.7L736.0 800.0L760.1 818.1L777.3 844.7L785.0 876.5L783.0 909.8L770.9 941.2L751.8 969.1L726.2 991.8L694.7 1005.0L660.9 1010.6Z" class="bk"/>
<path d="M526.0 913.3L529.6 876.5L540.3 843.6L557.4 815.6L578.7 792.7L602.9 774.2L631.0 762.8L660.9 759.2L690.8 762.8L718.9 774.2L743.1 792.7L764.4 815.6L781.5 843.6L792.2 876.5L795.8 913.3" class="bk"/>
<path d="M526.0 913.3L534.6 950.8L553.1 986.3M795.8 913.3L787.2 950.8L768.7 986.3" class="bkt"/>
<path d="M624.8 1013.7L593.8 994.8L570.4 968.7L554.1 939.3L542.7 908.8L537.4 876.5L538.7 843.1L549.1 810.7L569.0 782.9L596.8 763.4L628.2 752.0L660.9 748.2L693.6 752.0L725.0 763.4L752.8 782.9L772.7 810.7L783.1 843.1L784.4 876.5L779.1 908.8L767.7 939.3L751.4 968.7L728.0 994.8L697.0 1013.7L660.9 1020.1Z" class="rd"/>
<path d="M554.9 768.5L587.9 747.7L623.8 735.2L660.9 731.2L698.0 735.2L733.9 747.7L766.9 768.5" class="rd"/>
<ellipse cx="660.9" cy="876.5" rx="153.0" ry="155.9" class="oc"/>
<text x="650.5" y="769.2" class="lat">75<tspan dy="-7" dx="0.5" font-size="14.5">°</tspan><tspan dy="7" dx="0"> N</tspan></text>
<text x="650.5" y="886.8" class="lat">90<tspan dy="-7" dx="0.5" font-size="14.5">°</tspan><tspan dy="7" dx="0"> N</tspan></text>
<text x="654.9" y="704.6" class="mlt">12 MLT</text>
<text x="474.7" y="886.8" class="mlt">18</text>
<text x="829.1" y="888.0" class="mlt">6</text>
<text x="650.9" y="1063.7" class="mlt">00</text>
<path d="M1127.4 876.6L1127.4 720.6M1127.4 876.6L1203.9 741.5M1127.4 876.6L1259.8 798.6M1127.4 876.6L1280.3 876.6M1127.4 876.6L1259.8 954.6M1127.4 876.6L1203.9 1011.7M1127.4 876.6L1127.4 1032.6M1127.4 876.6L1051.0 1011.7M1127.4 876.6L995.0 954.6M1127.4 876.6L974.5 876.6M1127.4 876.6L995.0 798.6M1127.4 876.6L1051.0 741.5" class="gl"/>
<ellipse cx="1127.4" cy="876.6" rx="114.7" ry="117.0" class="gc"/>
<path d="M1093.6 1005.2L1062.1 992.0L1036.6 969.3L1017.5 941.3L1005.4 910.0L1003.4 876.6L1011.1 844.8L1028.2 818.2L1052.4 800.0L1078.2 789.7L1103.5 785.7L1127.4 784.9L1151.3 785.7L1176.6 789.7L1202.4 800.0L1226.6 818.2L1243.7 844.8L1251.4 876.6L1249.4 910.0L1237.3 941.3L1218.2 969.3L1192.7 992.0L1161.2 1005.2L1127.4 1010.8Z" class="bk"/>
<path d="M992.6 913.5L996.2 876.6L1006.9 843.7L1024.0 815.7L1045.2 792.8L1069.5 774.2L1097.5 762.8L1127.4 759.2L1157.3 762.8L1185.3 774.2L1209.6 792.8L1230.8 815.7L1247.9 843.7L1258.6 876.6L1262.2 913.5" class="bk"/>
<path d="M992.6 913.5L1001.2 950.9L1019.7 986.5M1262.2 913.5L1253.6 950.9L1235.1 986.5" class="bkt"/>
<path d="M1091.3 1013.9L1060.4 995.0L1036.9 968.9L1020.7 939.5L1009.2 908.9L1004.0 876.6L1005.3 843.2L1015.6 810.8L1035.6 782.9L1063.4 763.5L1094.7 752.0L1127.4 748.2L1160.1 752.0L1191.4 763.5L1219.2 782.9L1239.2 810.8L1249.5 843.2L1250.8 876.6L1245.6 908.9L1234.1 939.5L1217.9 968.9L1194.4 995.0L1163.5 1013.9L1127.4 1020.3Z" class="rd"/>
<path d="M1021.4 768.5L1054.5 747.7L1090.3 735.3L1127.4 731.3L1164.5 735.3L1200.3 747.7L1233.4 768.5" class="rd"/>
<ellipse cx="1127.4" cy="876.6" rx="152.9" ry="156.0" class="oc"/>
<text x="1117.0" y="769.3" class="lat">75<tspan dy="-7" dx="0.5" font-size="14.5">°</tspan><tspan dy="7" dx="0"> N</tspan></text>
<text x="1117.0" y="886.9" class="lat">90<tspan dy="-7" dx="0.5" font-size="14.5">°</tspan><tspan dy="7" dx="0"> N</tspan></text>
<text x="1119.1" y="704.6" class="mlt">12 MLT</text>
<text x="937.0" y="888.3" class="mlt">18</text>
<text x="1294.0" y="888.0" class="mlt">6</text>
<text x="1115.1" y="1064.6" class="mlt">00</text>
<path d="M199.2 1456.0L199.2 1303.1M199.2 1456.0L275.4 1323.6M199.2 1456.0L331.2 1379.5M199.2 1456.0L351.6 1456.0M199.2 1456.0L331.2 1532.5M199.2 1456.0L275.4 1588.4M199.2 1456.0L199.2 1608.9M199.2 1456.0L123.0 1588.4M199.2 1456.0L67.2 1532.5M199.2 1456.0L46.8 1456.0M199.2 1456.0L67.2 1379.5M199.2 1456.0L123.0 1323.6" class="gl"/>
<ellipse cx="199.2" cy="1456.0" rx="114.3" ry="114.7" class="gc"/>
<path d="M165.5 1582.1L134.1 1569.1L108.7 1546.8L89.7 1519.5L77.6 1488.7L75.6 1456.0L83.3 1424.8L100.3 1398.7L124.4 1381.0L150.2 1370.9L175.4 1366.9L199.2 1366.1L223.0 1366.9L248.2 1370.9L274.0 1381.0L298.1 1398.7L315.1 1424.8L322.8 1456.0L320.8 1488.7L308.7 1519.5L289.7 1546.8L264.3 1569.1L232.9 1582.1L199.2 1587.5Z" class="bk"/>
<path d="M64.8 1492.1L68.4 1456.0L79.1 1423.7L96.1 1396.3L117.3 1373.8L141.4 1355.6L169.4 1344.5L199.2 1340.9L229.0 1344.5L257.0 1355.6L281.1 1373.8L302.3 1396.3L319.3 1423.7L330.0 1456.0L333.6 1492.1" class="bk"/>
<path d="M64.8 1492.1L73.4 1528.9L91.9 1563.7M333.6 1492.1L325.0 1528.9L306.5 1563.7" class="bkt"/>
<path d="M163.3 1590.5L132.4 1572.1L109.0 1546.5L92.8 1517.6L81.4 1487.7L76.2 1456.0L77.5 1423.3L87.8 1391.5L107.7 1364.2L135.4 1345.1L166.6 1333.9L199.2 1330.2L231.8 1333.9L263.0 1345.1L290.7 1364.2L310.6 1391.5L320.9 1423.3L322.2 1456.0L317.0 1487.7L305.6 1517.6L289.4 1546.5L266.0 1572.1L235.1 1590.5L199.2 1596.8Z" class="rd"/>
<path d="M93.6 1350.0L126.5 1329.7L162.2 1317.5L199.2 1313.5L236.2 1317.5L271.9 1329.7L304.8 1350.0" class="rd"/>
<ellipse cx="199.2" cy="1456.0" rx="152.4" ry="152.9" class="oc"/>
<text x="188.8" y="1350.8" class="lat">75<tspan dy="-7" dx="0.5" font-size="14.5">°</tspan><tspan dy="7" dx="0"> N</tspan></text>
<text x="188.8" y="1466.1" class="lat">90<tspan dy="-7" dx="0.5" font-size="14.5">°</tspan><tspan dy="7" dx="0"> N</tspan></text>
<text x="196.5" y="1282.4" class="mlt">12 MLT</text>
<text x="25.1" y="1467.9" class="mlt">18</text>
<text x="369.0" y="1466.3" class="mlt">6</text>
<text x="190.5" y="1642.3" class="mlt">00</text>
<path d="M663.0 1456.0L663.0 1304.0M663.0 1456.0L739.5 1324.4M663.0 1456.0L795.5 1380.0M663.0 1456.0L816.0 1456.0M663.0 1456.0L795.5 1532.0M663.0 1456.0L739.5 1587.6M663.0 1456.0L663.0 1608.0M663.0 1456.0L586.5 1587.6M663.0 1456.0L530.5 1532.0M663.0 1456.0L510.0 1456.0M663.0 1456.0L530.5 1380.0M663.0 1456.0L586.5 1324.4" class="gl"/>
<ellipse cx="663.0" cy="1456.0" rx="114.8" ry="114.0" class="gc"/>
<path d="M629.2 1581.3L597.7 1568.4L572.1 1546.3L553.0 1519.1L540.9 1488.5L538.9 1456.0L546.6 1425.0L563.8 1399.1L587.9 1381.4L613.8 1371.4L639.1 1367.5L663.0 1366.6L686.9 1367.5L712.2 1371.4L738.1 1381.4L762.2 1399.1L779.4 1425.0L787.1 1456.0L785.1 1488.5L773.0 1519.1L753.9 1546.3L728.3 1568.4L696.8 1581.3L663.0 1586.7Z" class="bk"/>
<path d="M528.1 1491.9L531.7 1456.0L542.4 1423.9L559.5 1396.6L580.8 1374.3L605.0 1356.2L633.1 1345.2L663.0 1341.6L692.9 1345.2L721.0 1356.2L745.2 1374.3L766.5 1396.6L783.6 1423.9L794.3 1456.0L797.9 1491.9" class="bk"/>
<path d="M528.1 1491.9L536.7 1528.4L555.2 1563.1M797.9 1491.9L789.3 1528.4L770.8 1563.1" class="bkt"/>
<path d="M626.9 1589.8L595.9 1571.4L572.5 1545.9L556.2 1517.3L544.8 1487.5L539.5 1456.0L540.8 1423.5L551.2 1391.9L571.1 1364.7L598.9 1345.8L630.3 1334.6L663.0 1330.9L695.7 1334.6L727.1 1345.8L754.9 1364.7L774.8 1391.9L785.2 1423.5L786.5 1456.0L781.2 1487.5L769.8 1517.3L753.5 1545.9L730.1 1571.4L699.1 1589.8L663.0 1596.0Z" class="rd"/>
<path d="M557.0 1350.7L590.0 1330.4L625.9 1318.3L663.0 1314.4L700.1 1318.3L736.0 1330.4L769.0 1350.7" class="rd"/>
<ellipse cx="663.0" cy="1456.0" rx="153.0" ry="152.0" class="oc"/>
<text x="652.6" y="1351.4" class="lat">75<tspan dy="-7" dx="0.5" font-size="14.5">°</tspan><tspan dy="7" dx="0"> N</tspan></text>
<text x="652.6" y="1466.0" class="lat">90<tspan dy="-7" dx="0.5" font-size="14.5">°</tspan><tspan dy="7" dx="0"> N</tspan></text>
<text x="663.9" y="1279.3" class="mlt">12 MLT</text>
<text x="480.9" y="1460.5" class="mlt">18</text>
<text x="836.1" y="1461.7" class="mlt">6</text>
<text x="658.0" y="1639.9" class="mlt">00</text>
<path d="M1127.8 1456.0L1127.8 1303.6M1127.8 1456.0L1204.7 1324.0M1127.8 1456.0L1261.0 1379.8M1127.8 1456.0L1281.6 1456.0M1127.8 1456.0L1261.0 1532.2M1127.8 1456.0L1204.7 1588.0M1127.8 1456.0L1127.8 1608.4M1127.8 1456.0L1050.9 1588.0M1127.8 1456.0L994.6 1532.2M1127.8 1456.0L974.0 1456.0M1127.8 1456.0L994.6 1379.8M1127.8 1456.0L1050.9 1324.0" class="gl"/>
<ellipse cx="1127.8" cy="1456.0" rx="115.4" ry="114.3" class="gc"/>
<path d="M1093.8 1581.6L1062.1 1568.7L1036.4 1546.5L1017.2 1519.2L1005.1 1488.6L1003.1 1456.0L1010.8 1424.9L1028.0 1398.9L1052.3 1381.2L1078.4 1371.1L1103.8 1367.2L1127.8 1366.4L1151.8 1367.2L1177.2 1371.1L1203.3 1381.2L1227.6 1398.9L1244.8 1424.9L1252.5 1456.0L1250.5 1488.6L1238.4 1519.2L1219.2 1546.5L1193.5 1568.7L1161.8 1581.6L1127.8 1587.1Z" class="bk"/>
<path d="M992.2 1492.0L995.8 1456.0L1006.6 1423.8L1023.8 1396.5L1045.1 1374.1L1069.5 1356.0L1097.7 1344.9L1127.8 1341.3L1157.9 1344.9L1186.1 1356.0L1210.5 1374.1L1231.8 1396.5L1249.0 1423.8L1259.8 1456.0L1263.4 1492.0" class="bk"/>
<path d="M992.2 1492.0L1000.9 1528.6L1019.5 1563.3M1263.4 1492.0L1254.7 1528.6L1236.1 1563.3" class="bkt"/>
<path d="M1091.5 1590.1L1060.4 1571.7L1036.8 1546.2L1020.4 1517.4L1009.0 1487.6L1003.7 1456.0L1004.9 1423.4L1015.4 1391.7L1035.5 1364.5L1063.4 1345.5L1094.9 1334.3L1127.8 1330.6L1160.7 1334.3L1192.2 1345.5L1220.1 1364.5L1240.2 1391.7L1250.7 1423.4L1251.9 1456.0L1246.6 1487.6L1235.2 1517.4L1218.8 1546.2L1195.2 1571.7L1164.1 1590.1L1127.8 1596.4Z" class="rd"/>
<path d="M1021.2 1350.4L1054.4 1330.1L1090.5 1317.9L1127.8 1314.0L1165.1 1317.9L1201.2 1330.1L1234.4 1350.4" class="rd"/>
<ellipse cx="1127.8" cy="1456.0" rx="153.8" ry="152.4" class="oc"/>
<text x="1117.3" y="1351.1" class="lat">75<tspan dy="-7" dx="0.5" font-size="14.5">°</tspan><tspan dy="7" dx="0"> N</tspan></text>
<text x="1117.3" y="1466.1" class="lat">90<tspan dy="-7" dx="0.5" font-size="14.5">°</tspan><tspan dy="7" dx="0"> N</tspan></text>
<text x="1128.3" y="1279.3" class="mlt">12 MLT</text>
<text x="942.9" y="1461.7" class="mlt">18</text>
<text x="1299.7" y="1461.7" class="mlt">6</text>
<text x="1122.1" y="1639.3" class="mlt">00</text>
<path d="M197.1 2004.5L197.1 1853.7M197.1 2004.5L272.9 1873.9M197.1 2004.5L328.5 1929.1M197.1 2004.5L348.8 2004.5M197.1 2004.5L328.5 2079.9M197.1 2004.5L272.9 2135.1M197.1 2004.5L197.1 2155.3M197.1 2004.5L121.2 2135.1M197.1 2004.5L65.7 2079.9M197.1 2004.5L45.4 2004.5M197.1 2004.5L65.7 1929.1M197.1 2004.5L121.2 1873.9" class="gl"/>
<ellipse cx="197.1" cy="2004.5" rx="113.8" ry="113.1" class="gc"/>
<path d="M163.6 2128.8L132.3 2116.0L107.0 2094.1L88.1 2067.1L76.1 2036.7L74.1 2004.5L81.7 1973.8L98.7 1948.0L122.7 1930.5L148.3 1920.5L173.4 1916.7L197.1 1915.8L220.8 1916.7L245.9 1920.5L271.5 1930.5L295.5 1948.0L312.5 1973.8L320.1 2004.5L318.1 2036.7L306.1 2067.1L287.2 2094.1L261.9 2116.0L230.6 2128.8L197.1 2134.2Z" class="bk"/>
<path d="M63.3 2040.1L66.9 2004.5L77.5 1972.7L94.5 1945.6L115.6 1923.5L139.6 1905.5L167.5 1894.5L197.1 1891.0L226.7 1894.5L254.6 1905.5L278.6 1923.5L299.7 1945.6L316.7 1972.7L327.3 2004.5L330.9 2040.1" class="bk"/>
<path d="M63.3 2040.1L71.9 2076.4L90.3 2110.7M330.9 2040.1L322.3 2076.4L303.9 2110.7" class="bkt"/>
<path d="M161.3 2137.2L130.6 2119.0L107.4 2093.7L91.2 2065.3L79.9 2035.7L74.7 2004.5L75.9 1972.2L86.2 1940.9L106.0 1914.0L133.6 1895.1L164.6 1884.0L197.1 1880.4L229.6 1884.0L260.6 1895.1L288.2 1914.0L308.0 1940.9L318.3 1972.2L319.5 2004.5L314.3 2035.7L303.0 2065.3L286.8 2093.7L263.6 2119.0L232.9 2137.2L197.1 2143.4Z" class="rd"/>
<path d="M92.0 1900.0L124.7 1879.9L160.3 1867.9L197.1 1864.0L233.9 1867.9L269.5 1879.9L302.2 1900.0" class="rd"/>
<ellipse cx="197.1" cy="2004.5" rx="151.7" ry="150.8" class="oc"/>
<text x="186.8" y="1900.7" class="lat">75<tspan dy="-7" dx="0.5" font-size="14.5">°</tspan><tspan dy="7" dx="0"> N</tspan></text>
<text x="186.8" y="2014.5" class="lat">90<tspan dy="-7" dx="0.5" font-size="14.5">°</tspan><tspan dy="7" dx="0"> N</tspan></text>
<text x="189.5" y="1835.2" class="mlt">12 MLT</text>
<text x="17.7" y="2020.0" class="mlt">18</text>
<text x="362.0" y="2017.9" class="mlt">6</text>
<text x="183.8" y="2195.2" class="mlt">00</text>
<path d="M656.2 2004.5L656.2 1853.7M656.2 2004.5L732.1 1873.9M656.2 2004.5L787.6 1929.1M656.2 2004.5L807.9 2004.5M656.2 2004.5L787.6 2079.9M656.2 2004.5L732.1 2135.1M656.2 2004.5L656.2 2155.3M656.2 2004.5L580.4 2135.1M656.2 2004.5L524.8 2079.9M656.2 2004.5L504.5 2004.5M656.2 2004.5L524.8 1929.1M656.2 2004.5L580.4 1873.9" class="gl"/>
<ellipse cx="656.2" cy="2004.5" rx="113.8" ry="113.1" class="gc"/>
<path d="M622.7 2128.8L591.4 2116.0L566.1 2094.1L547.2 2067.1L535.2 2036.7L533.2 2004.5L540.8 1973.8L557.8 1948.0L581.8 1930.5L607.4 1920.5L632.5 1916.7L656.2 1915.8L679.9 1916.7L705.0 1920.5L730.6 1930.5L754.6 1948.0L771.6 1973.8L779.2 2004.5L777.2 2036.7L765.2 2067.1L746.3 2094.1L721.0 2116.0L689.7 2128.8L656.2 2134.2Z" class="bk"/>
<path d="M522.4 2040.1L526.0 2004.5L536.6 1972.7L553.6 1945.6L574.7 1923.5L598.7 1905.5L626.6 1894.5L656.2 1891.0L685.8 1894.5L713.7 1905.5L737.7 1923.5L758.8 1945.6L775.8 1972.7L786.4 2004.5L790.0 2040.1" class="bk"/>
<path d="M522.4 2040.1L531.0 2076.4L549.4 2110.7M790.0 2040.1L781.4 2076.4L763.0 2110.7" class="bkt"/>
<path d="M620.4 2137.2L589.7 2119.0L566.5 2093.7L550.3 2065.3L539.0 2035.7L533.8 2004.5L535.0 1972.2L545.3 1940.9L565.1 1914.0L592.7 1895.1L623.7 1884.0L656.2 1880.4L688.7 1884.0L719.7 1895.1L747.3 1914.0L767.1 1940.9L777.4 1972.2L778.6 2004.5L773.4 2035.7L762.1 2065.3L745.9 2093.7L722.7 2119.0L692.0 2137.2L656.2 2143.4Z" class="rd"/>
<path d="M551.1 1900.0L583.8 1879.9L619.4 1867.9L656.2 1864.0L693.0 1867.9L728.6 1879.9L761.3 1900.0" class="rd"/>
<ellipse cx="656.2" cy="2004.5" rx="151.7" ry="150.8" class="oc"/>
<text x="645.9" y="1900.7" class="lat">75<tspan dy="-7" dx="0.5" font-size="14.5">°</tspan><tspan dy="7" dx="0"> N</tspan></text>
<text x="645.9" y="2014.5" class="lat">90<tspan dy="-7" dx="0.5" font-size="14.5">°</tspan><tspan dy="7" dx="0"> N</tspan></text>
<text x="656.4" y="1832.1" class="mlt">12 MLT</text>
<text x="474.0" y="2014.0" class="mlt">18</text>
<text x="829.1" y="2014.9" class="mlt">6</text>
<text x="650.9" y="2192.1" class="mlt">00</text>
<path d="M1115.0 2004.5L1115.0 1853.7M1115.0 2004.5L1190.8 1873.9M1115.0 2004.5L1246.4 1929.1M1115.0 2004.5L1266.7 2004.5M1115.0 2004.5L1246.4 2079.9M1115.0 2004.5L1190.8 2135.1M1115.0 2004.5L1115.0 2155.3M1115.0 2004.5L1039.2 2135.1M1115.0 2004.5L983.6 2079.9M1115.0 2004.5L963.3 2004.5M1115.0 2004.5L983.6 1929.1M1115.0 2004.5L1039.1 1873.9" class="gl"/>
<ellipse cx="1115.0" cy="2004.5" rx="113.8" ry="113.1" class="gc"/>
<path d="M1081.5 2128.8L1050.2 2116.0L1024.9 2094.1L1006.0 2067.1L994.0 2036.7L992.0 2004.5L999.6 1973.8L1016.6 1948.0L1040.6 1930.5L1066.2 1920.5L1091.3 1916.7L1115.0 1915.8L1138.7 1916.7L1163.8 1920.5L1189.4 1930.5L1213.4 1948.0L1230.4 1973.8L1238.0 2004.5L1236.0 2036.7L1224.0 2067.1L1205.1 2094.1L1179.8 2116.0L1148.5 2128.8L1115.0 2134.2Z" class="bk"/>
<path d="M981.2 2040.1L984.8 2004.5L995.4 1972.7L1012.4 1945.6L1033.5 1923.5L1057.5 1905.5L1085.4 1894.5L1115.0 1891.0L1144.6 1894.5L1172.5 1905.5L1196.5 1923.5L1217.6 1945.6L1234.6 1972.7L1245.2 2004.5L1248.8 2040.1" class="bk"/>
<path d="M981.2 2040.1L989.8 2076.4L1008.2 2110.7M1248.8 2040.1L1240.2 2076.4L1221.8 2110.7" class="bkt"/>
<path d="M1079.2 2137.2L1048.5 2119.0L1025.3 2093.7L1009.1 2065.3L997.8 2035.7L992.6 2004.5L993.8 1972.2L1004.1 1940.9L1023.9 1914.0L1051.5 1895.1L1082.5 1884.0L1115.0 1880.4L1147.5 1884.0L1178.5 1895.1L1206.1 1914.0L1225.9 1940.9L1236.2 1972.2L1237.4 2004.5L1232.2 2035.7L1220.9 2065.3L1204.7 2093.7L1181.5 2119.0L1150.8 2137.2L1115.0 2143.4Z" class="rd"/>
<path d="M1009.9 1900.0L1042.6 1879.9L1078.2 1867.9L1115.0 1864.0L1151.8 1867.9L1187.4 1879.9L1220.1 1900.0" class="rd"/>
<ellipse cx="1115.0" cy="2004.5" rx="151.7" ry="150.8" class="oc"/>
<text x="1104.7" y="1900.7" class="lat">75<tspan dy="-7" dx="0.5" font-size="14.5">°</tspan><tspan dy="7" dx="0"> N</tspan></text>
<text x="1104.7" y="2014.5" class="lat">90<tspan dy="-7" dx="0.5" font-size="14.5">°</tspan><tspan dy="7" dx="0"> N</tspan></text>
<text x="1120.9" y="1831.5" class="mlt">12 MLT</text>
<text x="936.8" y="2015.5" class="mlt">18</text>
<text x="1293.0" y="2015.5" class="mlt">6</text>
<text x="1114.8" y="2192.7" class="mlt">00</text>

<text x="183" y="40" class="hd" fill="#00f05a" textLength="66" lengthAdjust="spacingAndGlyphs">Quiet</text>
<text x="648.5" y="21" class="hd" fill="#ffb400" textLength="206" lengthAdjust="spacingAndGlyphs">Minor/Moderate</text>
<text x="647" y="57" class="hd" fill="#ffb400" textLength="74" lengthAdjust="spacingAndGlyphs">G1-G2</text>
<text x="1117" y="21" class="hd" fill="#c00000" textLength="285" lengthAdjust="spacingAndGlyphs">Strong/Severe/Extreme</text>
<text x="1117" y="56.5" class="hd" fill="#c00000" textLength="116" lengthAdjust="spacingAndGlyphs">G3-G4-G5</text>

<text x="520.0" y="99.7" class="tt"><tspan font-family="'Liberation Serif', 'DejaVu Serif', serif" font-size="41">σ</tspan><tspan font-family="'Liberation Serif', 'DejaVu Serif', serif" font-size="30" dy="10">Φ</tspan><tspan dy="-10" dx="5.5"> &gt;= 0.1 rads</tspan></text>
<text x="561" y="663" class="tt" xml:space="preserve">S4  <tspan dx="-4.2">&gt;= 0.1</tspan></text>
<text x="508.0" y="1228.9" class="tt"><tspan font-family="'Liberation Serif', 'DejaVu Serif', serif" font-size="41">σ</tspan><tspan font-family="'Liberation Serif', 'DejaVu Serif', serif" font-size="30" dy="10">Φ</tspan><tspan dy="-10" dx="5.5"> &gt;= 0.25 rads</tspan></text>
<text x="546" y="1786.5" class="tt" xml:space="preserve">S4  <tspan dx="-4.2">&gt;= 0.25</tspan></text>
</svg>
</div>
</body></html>
